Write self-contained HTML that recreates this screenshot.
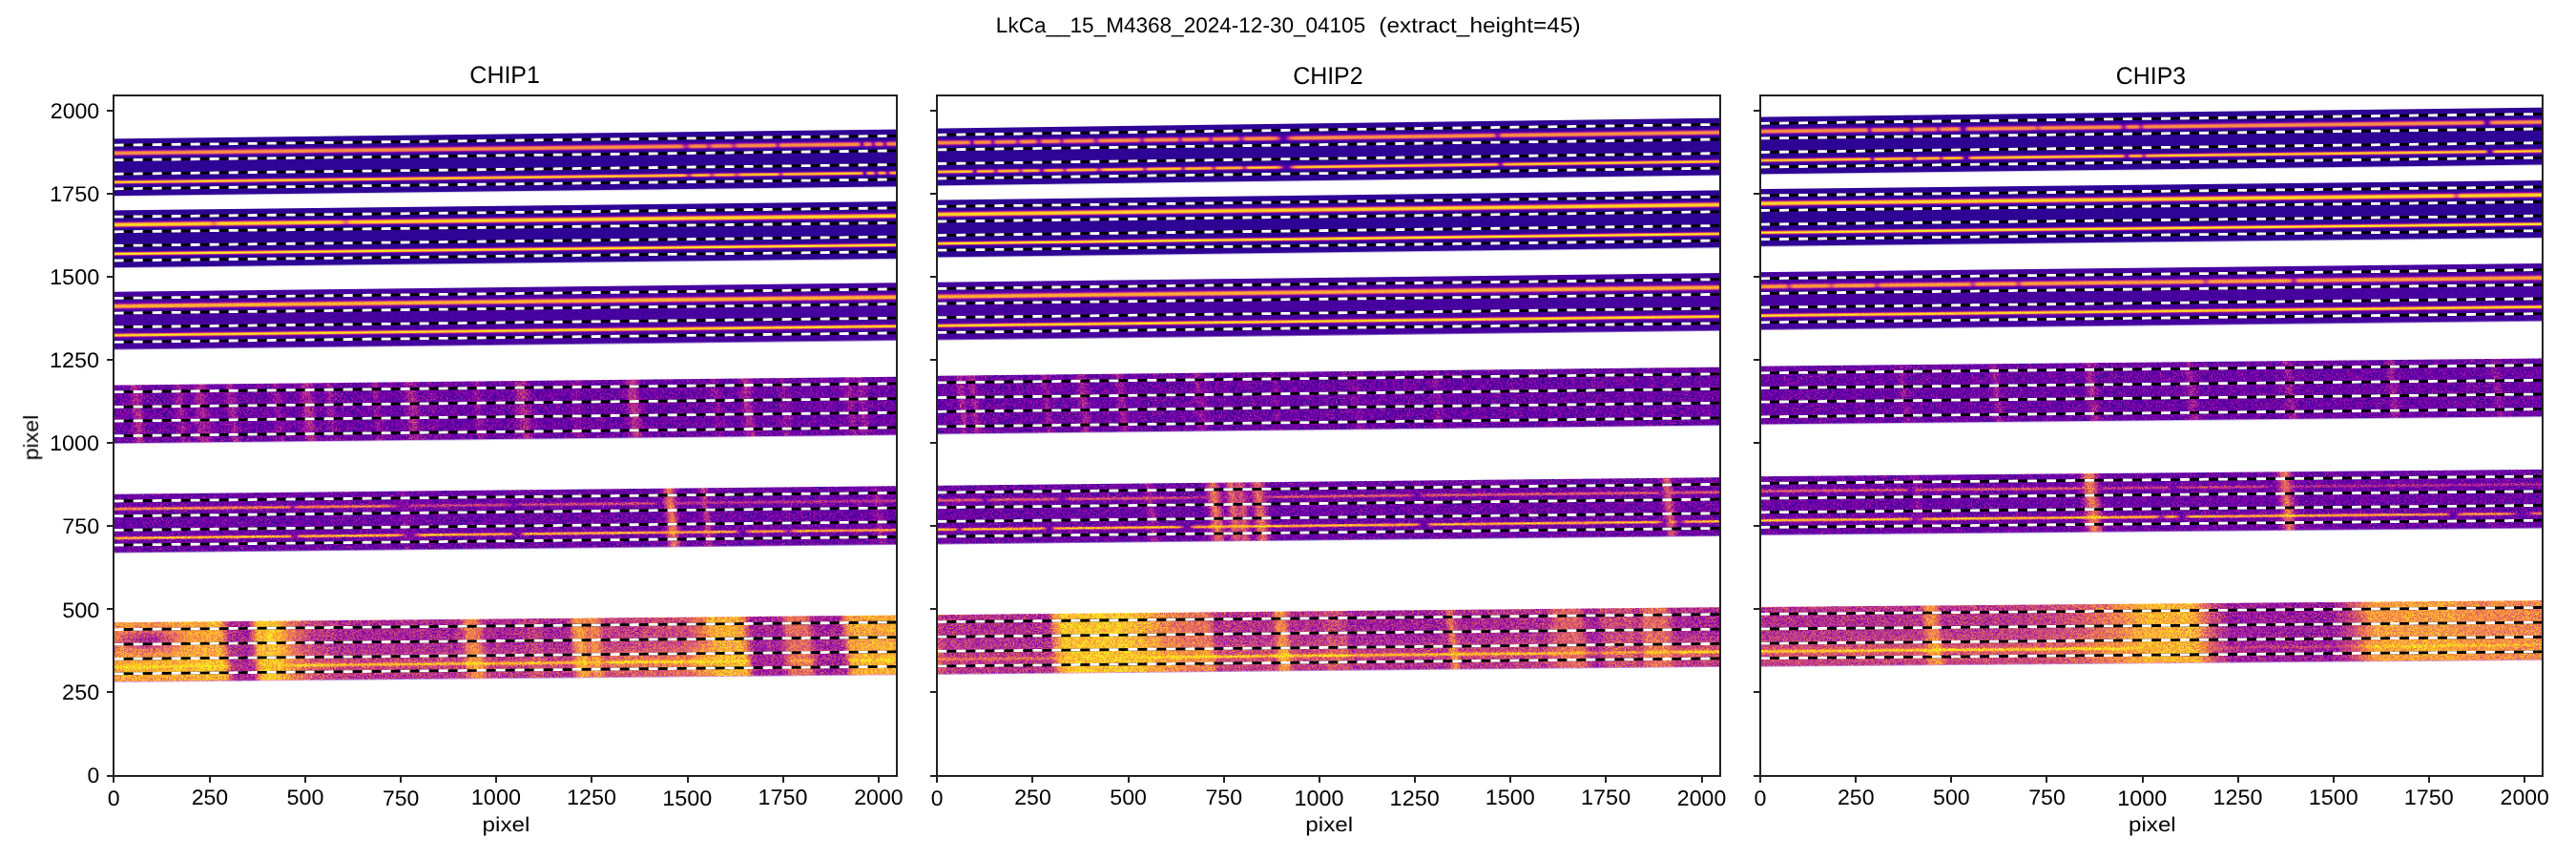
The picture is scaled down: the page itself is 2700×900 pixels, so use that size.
<!DOCTYPE html>
<html><head><meta charset="utf-8"><title>LkCa 15 spectral orders</title><style>html,body{margin:0;padding:0;background:#fff;overflow:hidden}svg{display:block}text{font-family:"Liberation Sans",sans-serif;fill:#000;text-rendering:geometricPrecision}</style></head><body>
<svg width="2700" height="900" viewBox="0 0 2700 900">
<defs><clipPath id="cp0"><rect x="119" y="100" width="821" height="713"/></clipPath><clipPath id="cp1"><rect x="982" y="100" width="821" height="713"/></clipPath><clipPath id="cp2"><rect x="1845" y="100" width="820" height="713"/></clipPath><linearGradient id="g0" gradientUnits="userSpaceOnUse" x1="0" x2="820.7" y1="0" y2="0"><stop offset="0" stop-color="#252525"/><stop offset="0.7217" stop-color="#252525"/><stop offset="0.7324" stop-color="#191919"/><stop offset="0.7422" stop-color="#252525"/><stop offset="0.7559" stop-color="#242424"/><stop offset="0.7617" stop-color="#1b1b1b"/><stop offset="0.7695" stop-color="#252525"/><stop offset="0.7871" stop-color="#242424"/><stop offset="0.7939" stop-color="#1b1b1b"/><stop offset="0.8008" stop-color="#252525"/><stop offset="0.8438" stop-color="#252525"/><stop offset="0.8496" stop-color="#191919"/><stop offset="0.8564" stop-color="#252525"/><stop offset="0.9492" stop-color="#252525"/><stop offset="0.9531" stop-color="#232323"/><stop offset="0.957" stop-color="#151515"/><stop offset="0.9629" stop-color="#242424"/><stop offset="0.9678" stop-color="#232323"/><stop offset="0.9717" stop-color="#171717"/><stop offset="0.9766" stop-color="#242424"/><stop offset="0.9814" stop-color="#242424"/><stop offset="0.9863" stop-color="#171717"/><stop offset="0.9912" stop-color="#242424"/><stop offset="1" stop-color="#252525"/></linearGradient><linearGradient id="g1" gradientUnits="userSpaceOnUse" x1="0" x2="820.7" y1="0" y2="0"><stop offset="0" stop-color="#606060"/><stop offset="0.7217" stop-color="#606060"/><stop offset="0.7266" stop-color="#5b5b5b"/><stop offset="0.7324" stop-color="#343434"/><stop offset="0.7344" stop-color="#3b3b3b"/><stop offset="0.7383" stop-color="#595959"/><stop offset="0.7422" stop-color="#5f5f5f"/><stop offset="0.7559" stop-color="#5e5e5e"/><stop offset="0.7617" stop-color="#3d3d3d"/><stop offset="0.7666" stop-color="#5a5a5a"/><stop offset="0.7695" stop-color="#5f5f5f"/><stop offset="0.7871" stop-color="#5f5f5f"/><stop offset="0.7939" stop-color="#3d3d3d"/><stop offset="0.7979" stop-color="#575757"/><stop offset="0.8008" stop-color="#5f5f5f"/><stop offset="0.8438" stop-color="#5f5f5f"/><stop offset="0.8467" stop-color="#545454"/><stop offset="0.8496" stop-color="#343434"/><stop offset="0.8506" stop-color="#373737"/><stop offset="0.8535" stop-color="#585858"/><stop offset="0.8564" stop-color="#5f5f5f"/><stop offset="0.9492" stop-color="#606060"/><stop offset="0.9531" stop-color="#595959"/><stop offset="0.957" stop-color="#232323"/><stop offset="0.958" stop-color="#272727"/><stop offset="0.9609" stop-color="#555555"/><stop offset="0.9629" stop-color="#5f5f5f"/><stop offset="0.9678" stop-color="#5a5a5a"/><stop offset="0.9717" stop-color="#2c2c2c"/><stop offset="0.9727" stop-color="#2f2f2f"/><stop offset="0.9746" stop-color="#4b4b4b"/><stop offset="0.9766" stop-color="#5d5d5d"/><stop offset="0.9814" stop-color="#5e5e5e"/><stop offset="0.9834" stop-color="#525252"/><stop offset="0.9863" stop-color="#2c2c2c"/><stop offset="0.9873" stop-color="#2f2f2f"/><stop offset="0.9893" stop-color="#4b4b4b"/><stop offset="0.9912" stop-color="#5d5d5d"/><stop offset="1" stop-color="#606060"/></linearGradient><linearGradient id="g2" gradientUnits="userSpaceOnUse" x1="0" x2="820.7" y1="0" y2="0"><stop offset="0" stop-color="#acacac"/><stop offset="0.7217" stop-color="#acacac"/><stop offset="0.7266" stop-color="#a3a3a3"/><stop offset="0.7285" stop-color="#8d8d8d"/><stop offset="0.7314" stop-color="#5e5e5e"/><stop offset="0.7324" stop-color="#575757"/><stop offset="0.7344" stop-color="#646464"/><stop offset="0.7383" stop-color="#9f9f9f"/><stop offset="0.7422" stop-color="#acacac"/><stop offset="0.7559" stop-color="#a9a9a9"/><stop offset="0.7578" stop-color="#9c9c9c"/><stop offset="0.7607" stop-color="#707070"/><stop offset="0.7617" stop-color="#696969"/><stop offset="0.7627" stop-color="#6b6b6b"/><stop offset="0.7666" stop-color="#a1a1a1"/><stop offset="0.7695" stop-color="#acacac"/><stop offset="0.7871" stop-color="#ababab"/><stop offset="0.7891" stop-color="#a1a1a1"/><stop offset="0.793" stop-color="#6b6b6b"/><stop offset="0.7939" stop-color="#696969"/><stop offset="0.7949" stop-color="#707070"/><stop offset="0.7979" stop-color="#9c9c9c"/><stop offset="0.8008" stop-color="#ababab"/><stop offset="0.8438" stop-color="#acacac"/><stop offset="0.8457" stop-color="#a3a3a3"/><stop offset="0.8467" stop-color="#969696"/><stop offset="0.8486" stop-color="#666666"/><stop offset="0.8496" stop-color="#585858"/><stop offset="0.8506" stop-color="#5d5d5d"/><stop offset="0.8535" stop-color="#9e9e9e"/><stop offset="0.8564" stop-color="#acacac"/><stop offset="0.9492" stop-color="#acacac"/><stop offset="0.9521" stop-color="#a9a9a9"/><stop offset="0.9531" stop-color="#a0a0a0"/><stop offset="0.9541" stop-color="#8c8c8c"/><stop offset="0.9561" stop-color="#4a4a4a"/><stop offset="0.957" stop-color="#363636"/><stop offset="0.958" stop-color="#3d3d3d"/><stop offset="0.9609" stop-color="#989898"/><stop offset="0.9629" stop-color="#aaaaaa"/><stop offset="0.9658" stop-color="#acacac"/><stop offset="0.9678" stop-color="#a2a2a2"/><stop offset="0.9688" stop-color="#919191"/><stop offset="0.9707" stop-color="#585858"/><stop offset="0.9717" stop-color="#474747"/><stop offset="0.9727" stop-color="#4d4d4d"/><stop offset="0.9746" stop-color="#858585"/><stop offset="0.9756" stop-color="#9b9b9b"/><stop offset="0.9766" stop-color="#a6a6a6"/><stop offset="0.9814" stop-color="#a9a9a9"/><stop offset="0.9834" stop-color="#919191"/><stop offset="0.9854" stop-color="#585858"/><stop offset="0.9863" stop-color="#474747"/><stop offset="0.9873" stop-color="#4d4d4d"/><stop offset="0.9893" stop-color="#858585"/><stop offset="0.9902" stop-color="#9b9b9b"/><stop offset="0.9912" stop-color="#a6a6a6"/><stop offset="1" stop-color="#acacac"/></linearGradient><linearGradient id="g3" gradientUnits="userSpaceOnUse" x1="0" x2="820.7" y1="0" y2="0"><stop offset="0" stop-color="#c2c2c2"/><stop offset="0.7217" stop-color="#c2c2c2"/><stop offset="0.7266" stop-color="#b7b7b7"/><stop offset="0.7285" stop-color="#9e9e9e"/><stop offset="0.7314" stop-color="#696969"/><stop offset="0.7324" stop-color="#616161"/><stop offset="0.7344" stop-color="#707070"/><stop offset="0.7383" stop-color="#b2b2b2"/><stop offset="0.7422" stop-color="#c1c1c1"/><stop offset="0.7559" stop-color="#bebebe"/><stop offset="0.7578" stop-color="#b0b0b0"/><stop offset="0.7607" stop-color="#7d7d7d"/><stop offset="0.7617" stop-color="#757575"/><stop offset="0.7627" stop-color="#787878"/><stop offset="0.7666" stop-color="#b5b5b5"/><stop offset="0.7695" stop-color="#c1c1c1"/><stop offset="0.7871" stop-color="#c0c0c0"/><stop offset="0.7891" stop-color="#b5b5b5"/><stop offset="0.793" stop-color="#787878"/><stop offset="0.7939" stop-color="#757575"/><stop offset="0.7949" stop-color="#7d7d7d"/><stop offset="0.7979" stop-color="#b0b0b0"/><stop offset="0.8008" stop-color="#c1c1c1"/><stop offset="0.8438" stop-color="#c1c1c1"/><stop offset="0.8457" stop-color="#b8b8b8"/><stop offset="0.8467" stop-color="#a8a8a8"/><stop offset="0.8486" stop-color="#727272"/><stop offset="0.8496" stop-color="#626262"/><stop offset="0.8506" stop-color="#676767"/><stop offset="0.8535" stop-color="#b1b1b1"/><stop offset="0.8545" stop-color="#bcbcbc"/><stop offset="0.8564" stop-color="#c1c1c1"/><stop offset="0.9492" stop-color="#c2c2c2"/><stop offset="0.9521" stop-color="#bdbdbd"/><stop offset="0.9531" stop-color="#b4b4b4"/><stop offset="0.9541" stop-color="#9e9e9e"/><stop offset="0.9561" stop-color="#525252"/><stop offset="0.957" stop-color="#3b3b3b"/><stop offset="0.958" stop-color="#434343"/><stop offset="0.9609" stop-color="#aaaaaa"/><stop offset="0.9629" stop-color="#c0c0c0"/><stop offset="0.9658" stop-color="#c1c1c1"/><stop offset="0.9678" stop-color="#b6b6b6"/><stop offset="0.9688" stop-color="#a3a3a3"/><stop offset="0.9707" stop-color="#626262"/><stop offset="0.9717" stop-color="#4e4e4e"/><stop offset="0.9727" stop-color="#555555"/><stop offset="0.9746" stop-color="#959595"/><stop offset="0.9756" stop-color="#aeaeae"/><stop offset="0.9766" stop-color="#bbbbbb"/><stop offset="0.9785" stop-color="#c1c1c1"/><stop offset="0.9814" stop-color="#bebebe"/><stop offset="0.9824" stop-color="#b6b6b6"/><stop offset="0.9834" stop-color="#a3a3a3"/><stop offset="0.9854" stop-color="#626262"/><stop offset="0.9863" stop-color="#4e4e4e"/><stop offset="0.9873" stop-color="#555555"/><stop offset="0.9893" stop-color="#959595"/><stop offset="0.9902" stop-color="#aeaeae"/><stop offset="0.9912" stop-color="#bbbbbb"/><stop offset="1" stop-color="#c2c2c2"/></linearGradient><linearGradient id="g4" gradientUnits="userSpaceOnUse" x1="0" x2="820.7" y1="0" y2="0"><stop offset="0" stop-color="#2a2a2a"/><stop offset="0.7217" stop-color="#2a2a2a"/><stop offset="0.7324" stop-color="#1c1c1c"/><stop offset="0.7422" stop-color="#2a2a2a"/><stop offset="0.7559" stop-color="#292929"/><stop offset="0.7617" stop-color="#1f1f1f"/><stop offset="0.7695" stop-color="#2a2a2a"/><stop offset="0.7871" stop-color="#2a2a2a"/><stop offset="0.7939" stop-color="#1f1f1f"/><stop offset="0.8008" stop-color="#2a2a2a"/><stop offset="0.8438" stop-color="#2a2a2a"/><stop offset="0.8496" stop-color="#1c1c1c"/><stop offset="0.8564" stop-color="#2a2a2a"/><stop offset="0.9492" stop-color="#2a2a2a"/><stop offset="0.9531" stop-color="#282828"/><stop offset="0.957" stop-color="#131313"/><stop offset="0.9629" stop-color="#2a2a2a"/><stop offset="0.9678" stop-color="#282828"/><stop offset="0.9717" stop-color="#161616"/><stop offset="0.9766" stop-color="#292929"/><stop offset="0.9814" stop-color="#292929"/><stop offset="0.9863" stop-color="#161616"/><stop offset="0.9912" stop-color="#292929"/><stop offset="1" stop-color="#2a2a2a"/></linearGradient><linearGradient id="g5" gradientUnits="userSpaceOnUse" x1="0" x2="820.7" y1="0" y2="0"><stop offset="0" stop-color="#7e7e7e"/><stop offset="0.7217" stop-color="#7e7e7e"/><stop offset="0.7266" stop-color="#777777"/><stop offset="0.7324" stop-color="#434343"/><stop offset="0.7344" stop-color="#4c4c4c"/><stop offset="0.7383" stop-color="#757575"/><stop offset="0.7422" stop-color="#7e7e7e"/><stop offset="0.7559" stop-color="#7c7c7c"/><stop offset="0.7578" stop-color="#737373"/><stop offset="0.7617" stop-color="#4f4f4f"/><stop offset="0.7627" stop-color="#515151"/><stop offset="0.7666" stop-color="#767676"/><stop offset="0.7695" stop-color="#7e7e7e"/><stop offset="0.7871" stop-color="#7d7d7d"/><stop offset="0.7891" stop-color="#767676"/><stop offset="0.793" stop-color="#515151"/><stop offset="0.7939" stop-color="#4f4f4f"/><stop offset="0.7979" stop-color="#737373"/><stop offset="0.8008" stop-color="#7e7e7e"/><stop offset="0.8438" stop-color="#7e7e7e"/><stop offset="0.8467" stop-color="#6e6e6e"/><stop offset="0.8496" stop-color="#434343"/><stop offset="0.8506" stop-color="#474747"/><stop offset="0.8535" stop-color="#747474"/><stop offset="0.8564" stop-color="#7e7e7e"/><stop offset="0.9492" stop-color="#7e7e7e"/><stop offset="0.9531" stop-color="#747474"/><stop offset="0.9541" stop-color="#656565"/><stop offset="0.9561" stop-color="#303030"/><stop offset="0.957" stop-color="#202020"/><stop offset="0.958" stop-color="#262626"/><stop offset="0.9609" stop-color="#6e6e6e"/><stop offset="0.9629" stop-color="#7d7d7d"/><stop offset="0.9658" stop-color="#7e7e7e"/><stop offset="0.9678" stop-color="#767676"/><stop offset="0.9717" stop-color="#2c2c2c"/><stop offset="0.9727" stop-color="#313131"/><stop offset="0.9746" stop-color="#5e5e5e"/><stop offset="0.9766" stop-color="#797979"/><stop offset="0.9814" stop-color="#7c7c7c"/><stop offset="0.9834" stop-color="#686868"/><stop offset="0.9854" stop-color="#3a3a3a"/><stop offset="0.9863" stop-color="#2c2c2c"/><stop offset="0.9873" stop-color="#313131"/><stop offset="0.9893" stop-color="#5e5e5e"/><stop offset="0.9912" stop-color="#797979"/><stop offset="1" stop-color="#7e7e7e"/></linearGradient><linearGradient id="g6" gradientUnits="userSpaceOnUse" x1="0" x2="820.7" y1="0" y2="0"><stop offset="0" stop-color="#ededed"/><stop offset="0.7217" stop-color="#ededed"/><stop offset="0.7246" stop-color="#eaeaea"/><stop offset="0.7266" stop-color="#e0e0e0"/><stop offset="0.7285" stop-color="#c2c2c2"/><stop offset="0.7314" stop-color="#808080"/><stop offset="0.7324" stop-color="#777777"/><stop offset="0.7334" stop-color="#7a7a7a"/><stop offset="0.7344" stop-color="#898989"/><stop offset="0.7373" stop-color="#cbcbcb"/><stop offset="0.7383" stop-color="#dadada"/><stop offset="0.7402" stop-color="#e9e9e9"/><stop offset="0.7422" stop-color="#ededed"/><stop offset="0.7559" stop-color="#e9e9e9"/><stop offset="0.7578" stop-color="#d7d7d7"/><stop offset="0.7607" stop-color="#999999"/><stop offset="0.7617" stop-color="#8f8f8f"/><stop offset="0.7627" stop-color="#929292"/><stop offset="0.7666" stop-color="#dedede"/><stop offset="0.7695" stop-color="#ececec"/><stop offset="0.7871" stop-color="#ebebeb"/><stop offset="0.7891" stop-color="#dedede"/><stop offset="0.793" stop-color="#929292"/><stop offset="0.7939" stop-color="#8f8f8f"/><stop offset="0.7949" stop-color="#999999"/><stop offset="0.7979" stop-color="#d7d7d7"/><stop offset="0.8008" stop-color="#ececec"/><stop offset="0.8438" stop-color="#ececec"/><stop offset="0.8457" stop-color="#e1e1e1"/><stop offset="0.8467" stop-color="#cdcdcd"/><stop offset="0.8486" stop-color="#8c8c8c"/><stop offset="0.8496" stop-color="#777777"/><stop offset="0.8506" stop-color="#7f7f7f"/><stop offset="0.8535" stop-color="#d9d9d9"/><stop offset="0.8545" stop-color="#e6e6e6"/><stop offset="0.8564" stop-color="#ededed"/><stop offset="0.9492" stop-color="#ededed"/><stop offset="0.9521" stop-color="#e7e7e7"/><stop offset="0.9531" stop-color="#d9d9d9"/><stop offset="0.9541" stop-color="#bababa"/><stop offset="0.9561" stop-color="#515151"/><stop offset="0.957" stop-color="#313131"/><stop offset="0.958" stop-color="#3c3c3c"/><stop offset="0.96" stop-color="#a3a3a3"/><stop offset="0.9609" stop-color="#cccccc"/><stop offset="0.9619" stop-color="#e2e2e2"/><stop offset="0.9629" stop-color="#eaeaea"/><stop offset="0.9658" stop-color="#ececec"/><stop offset="0.9678" stop-color="#dcdcdc"/><stop offset="0.9688" stop-color="#c1c1c1"/><stop offset="0.9707" stop-color="#656565"/><stop offset="0.9717" stop-color="#484848"/><stop offset="0.9727" stop-color="#525252"/><stop offset="0.9746" stop-color="#adadad"/><stop offset="0.9756" stop-color="#d1d1d1"/><stop offset="0.9766" stop-color="#e3e3e3"/><stop offset="0.9785" stop-color="#ededed"/><stop offset="0.9814" stop-color="#e8e8e8"/><stop offset="0.9824" stop-color="#dcdcdc"/><stop offset="0.9834" stop-color="#c1c1c1"/><stop offset="0.9854" stop-color="#656565"/><stop offset="0.9863" stop-color="#484848"/><stop offset="0.9873" stop-color="#525252"/><stop offset="0.9893" stop-color="#adadad"/><stop offset="0.9902" stop-color="#d1d1d1"/><stop offset="0.9912" stop-color="#e3e3e3"/><stop offset="0.9932" stop-color="#ededed"/><stop offset="1" stop-color="#ededed"/></linearGradient><linearGradient id="g7" gradientUnits="userSpaceOnUse" x1="0" x2="820.7" y1="0" y2="0"><stop offset="0" stop-color="#2a2a2a"/><stop offset="0.1201" stop-color="#2a2a2a"/><stop offset="0.1299" stop-color="#232323"/><stop offset="0.1387" stop-color="#2a2a2a"/><stop offset="0.2881" stop-color="#2a2a2a"/><stop offset="0.2979" stop-color="#222222"/><stop offset="0.3086" stop-color="#2a2a2a"/><stop offset="1" stop-color="#2a2a2a"/></linearGradient><linearGradient id="g8" gradientUnits="userSpaceOnUse" x1="0" x2="820.7" y1="0" y2="0"><stop offset="0" stop-color="#747474"/><stop offset="0.1201" stop-color="#747474"/><stop offset="0.124" stop-color="#707070"/><stop offset="0.1299" stop-color="#595959"/><stop offset="0.1348" stop-color="#6e6e6e"/><stop offset="0.1387" stop-color="#747474"/><stop offset="0.2881" stop-color="#747474"/><stop offset="0.292" stop-color="#717171"/><stop offset="0.2979" stop-color="#545454"/><stop offset="0.3037" stop-color="#6f6f6f"/><stop offset="0.3086" stop-color="#747474"/><stop offset="1" stop-color="#747474"/></linearGradient><linearGradient id="g9" gradientUnits="userSpaceOnUse" x1="0" x2="820.7" y1="0" y2="0"><stop offset="0" stop-color="#d5d5d5"/><stop offset="0.1201" stop-color="#d5d5d5"/><stop offset="0.124" stop-color="#cccccc"/><stop offset="0.1279" stop-color="#a8a8a8"/><stop offset="0.1299" stop-color="#a0a0a0"/><stop offset="0.1348" stop-color="#c9c9c9"/><stop offset="0.1387" stop-color="#d4d4d4"/><stop offset="0.2881" stop-color="#d5d5d5"/><stop offset="0.292" stop-color="#cecece"/><stop offset="0.2979" stop-color="#969696"/><stop offset="0.2998" stop-color="#9f9f9f"/><stop offset="0.3037" stop-color="#cbcbcb"/><stop offset="0.3086" stop-color="#d5d5d5"/><stop offset="1" stop-color="#d5d5d5"/></linearGradient><linearGradient id="g10" gradientUnits="userSpaceOnUse" x1="0" x2="820.7" y1="0" y2="0"><stop offset="0" stop-color="#f0f0f0"/><stop offset="0.1201" stop-color="#efefef"/><stop offset="0.124" stop-color="#e6e6e6"/><stop offset="0.1279" stop-color="#bdbdbd"/><stop offset="0.1299" stop-color="#b4b4b4"/><stop offset="0.1348" stop-color="#e3e3e3"/><stop offset="0.1387" stop-color="#efefef"/><stop offset="0.2881" stop-color="#efefef"/><stop offset="0.292" stop-color="#e7e7e7"/><stop offset="0.2979" stop-color="#a8a8a8"/><stop offset="0.2998" stop-color="#b3b3b3"/><stop offset="0.3037" stop-color="#e4e4e4"/><stop offset="0.3086" stop-color="#f0f0f0"/><stop offset="1" stop-color="#f0f0f0"/></linearGradient><linearGradient id="g11" gradientUnits="userSpaceOnUse" x1="0" x2="820.7" y1="0" y2="0"><stop offset="0" stop-color="#343434"/><stop offset="0.0186" stop-color="#373737"/><stop offset="0.0225" stop-color="#434343"/><stop offset="0.0283" stop-color="#646464"/><stop offset="0.0303" stop-color="#676767"/><stop offset="0.0322" stop-color="#626262"/><stop offset="0.0391" stop-color="#3d3d3d"/><stop offset="0.042" stop-color="#373737"/><stop offset="0.0469" stop-color="#343434"/><stop offset="0.0762" stop-color="#363636"/><stop offset="0.0791" stop-color="#3d3d3d"/><stop offset="0.084" stop-color="#555555"/><stop offset="0.0859" stop-color="#5a5a5a"/><stop offset="0.0879" stop-color="#575757"/><stop offset="0.0938" stop-color="#3c3c3c"/><stop offset="0.0986" stop-color="#383838"/><stop offset="0.1035" stop-color="#424242"/><stop offset="0.1104" stop-color="#5d5d5d"/><stop offset="0.1133" stop-color="#616161"/><stop offset="0.1162" stop-color="#5b5b5b"/><stop offset="0.124" stop-color="#3d3d3d"/><stop offset="0.1309" stop-color="#353535"/><stop offset="0.1426" stop-color="#383838"/><stop offset="0.1514" stop-color="#5e5e5e"/><stop offset="0.1533" stop-color="#5a5a5a"/><stop offset="0.1592" stop-color="#3c3c3c"/><stop offset="0.1631" stop-color="#353535"/><stop offset="0.1992" stop-color="#353535"/><stop offset="0.2031" stop-color="#3b3b3b"/><stop offset="0.21" stop-color="#545454"/><stop offset="0.2119" stop-color="#515151"/><stop offset="0.2168" stop-color="#3d3d3d"/><stop offset="0.2197" stop-color="#363636"/><stop offset="0.2314" stop-color="#353535"/><stop offset="0.2383" stop-color="#3e3e3e"/><stop offset="0.2451" stop-color="#5f5f5f"/><stop offset="0.248" stop-color="#676767"/><stop offset="0.251" stop-color="#616161"/><stop offset="0.2588" stop-color="#3c3c3c"/><stop offset="0.2656" stop-color="#353535"/><stop offset="0.2715" stop-color="#393939"/><stop offset="0.2764" stop-color="#505050"/><stop offset="0.2783" stop-color="#545454"/><stop offset="0.2842" stop-color="#3b3b3b"/><stop offset="0.2881" stop-color="#353535"/><stop offset="0.3271" stop-color="#353535"/><stop offset="0.3301" stop-color="#393939"/><stop offset="0.335" stop-color="#505050"/><stop offset="0.3369" stop-color="#545454"/><stop offset="0.3447" stop-color="#363636"/><stop offset="0.3662" stop-color="#353535"/><stop offset="0.3721" stop-color="#3d3d3d"/><stop offset="0.3789" stop-color="#5a5a5a"/><stop offset="0.3818" stop-color="#616161"/><stop offset="0.3848" stop-color="#5c5c5c"/><stop offset="0.3916" stop-color="#3e3e3e"/><stop offset="0.3965" stop-color="#363636"/><stop offset="0.3994" stop-color="#383838"/><stop offset="0.4053" stop-color="#474747"/><stop offset="0.415" stop-color="#353535"/><stop offset="0.4561" stop-color="#353535"/><stop offset="0.46" stop-color="#3b3b3b"/><stop offset="0.4658" stop-color="#545454"/><stop offset="0.4678" stop-color="#505050"/><stop offset="0.4717" stop-color="#3d3d3d"/><stop offset="0.4746" stop-color="#363636"/><stop offset="0.5039" stop-color="#353535"/><stop offset="0.5117" stop-color="#3d3d3d"/><stop offset="0.5205" stop-color="#636363"/><stop offset="0.5234" stop-color="#676767"/><stop offset="0.5264" stop-color="#616161"/><stop offset="0.5342" stop-color="#3f3f3f"/><stop offset="0.541" stop-color="#353535"/><stop offset="0.5811" stop-color="#353535"/><stop offset="0.5918" stop-color="#474747"/><stop offset="0.6025" stop-color="#353535"/><stop offset="0.6455" stop-color="#343434"/><stop offset="0.6533" stop-color="#3c3c3c"/><stop offset="0.6562" stop-color="#484848"/><stop offset="0.6611" stop-color="#656565"/><stop offset="0.6641" stop-color="#6e6e6e"/><stop offset="0.667" stop-color="#676767"/><stop offset="0.6748" stop-color="#3d3d3d"/><stop offset="0.6826" stop-color="#343434"/><stop offset="0.7588" stop-color="#353535"/><stop offset="0.7627" stop-color="#383838"/><stop offset="0.7705" stop-color="#4b4b4b"/><stop offset="0.7803" stop-color="#353535"/><stop offset="0.7959" stop-color="#353535"/><stop offset="0.8008" stop-color="#3c3c3c"/><stop offset="0.8076" stop-color="#5f5f5f"/><stop offset="0.8096" stop-color="#646464"/><stop offset="0.8125" stop-color="#5d5d5d"/><stop offset="0.8184" stop-color="#3e3e3e"/><stop offset="0.8242" stop-color="#353535"/><stop offset="0.8467" stop-color="#353535"/><stop offset="0.8564" stop-color="#4b4b4b"/><stop offset="0.8643" stop-color="#383838"/><stop offset="0.8682" stop-color="#353535"/><stop offset="0.9287" stop-color="#353535"/><stop offset="0.9336" stop-color="#3a3a3a"/><stop offset="0.9404" stop-color="#545454"/><stop offset="0.9424" stop-color="#535353"/><stop offset="0.9473" stop-color="#414141"/><stop offset="0.9492" stop-color="#3f3f3f"/><stop offset="0.957" stop-color="#545454"/><stop offset="0.9639" stop-color="#3b3b3b"/><stop offset="0.9678" stop-color="#353535"/><stop offset="1" stop-color="#343434"/></linearGradient><linearGradient id="g12" gradientUnits="userSpaceOnUse" x1="0" x2="820.7" y1="0" y2="0"><stop offset="0" stop-color="#343434"/><stop offset="0.3574" stop-color="#343434"/><stop offset="0.3633" stop-color="#373737"/><stop offset="0.3721" stop-color="#474747"/><stop offset="0.3809" stop-color="#373737"/><stop offset="0.3877" stop-color="#343434"/><stop offset="0.6943" stop-color="#343434"/><stop offset="0.6992" stop-color="#383838"/><stop offset="0.7021" stop-color="#424242"/><stop offset="0.7051" stop-color="#5a5a5a"/><stop offset="0.71" stop-color="#989898"/><stop offset="0.7119" stop-color="#a6a6a6"/><stop offset="0.7129" stop-color="#a7a7a7"/><stop offset="0.7148" stop-color="#9d9d9d"/><stop offset="0.7197" stop-color="#5f5f5f"/><stop offset="0.7217" stop-color="#4c4c4c"/><stop offset="0.7246" stop-color="#3b3b3b"/><stop offset="0.7285" stop-color="#353535"/><stop offset="0.748" stop-color="#373737"/><stop offset="0.751" stop-color="#444444"/><stop offset="0.7549" stop-color="#6c6c6c"/><stop offset="0.7568" stop-color="#747474"/><stop offset="0.7588" stop-color="#686868"/><stop offset="0.7627" stop-color="#414141"/><stop offset="0.7646" stop-color="#383838"/><stop offset="0.7676" stop-color="#353535"/><stop offset="0.9639" stop-color="#343434"/><stop offset="0.9688" stop-color="#393939"/><stop offset="0.9746" stop-color="#515151"/><stop offset="0.9766" stop-color="#545454"/><stop offset="0.9854" stop-color="#373737"/><stop offset="1" stop-color="#343434"/></linearGradient><linearGradient id="g13" gradientUnits="userSpaceOnUse" x1="0" x2="820.7" y1="0" y2="0"><stop offset="0" stop-color="#525252"/><stop offset="0.2217" stop-color="#505050"/><stop offset="0.2246" stop-color="#4d4d4d"/><stop offset="0.2295" stop-color="#393939"/><stop offset="0.2354" stop-color="#4e4e4e"/><stop offset="0.2402" stop-color="#4f4f4f"/><stop offset="0.3418" stop-color="#4f4f4f"/><stop offset="0.3662" stop-color="#3e3e3e"/><stop offset="0.3721" stop-color="#474747"/><stop offset="0.3789" stop-color="#414141"/><stop offset="0.498" stop-color="#444444"/><stop offset="0.5127" stop-color="#353535"/><stop offset="0.5225" stop-color="#424242"/><stop offset="0.5312" stop-color="#454545"/><stop offset="0.6836" stop-color="#464646"/><stop offset="0.6982" stop-color="#393939"/><stop offset="0.7031" stop-color="#4d4d4d"/><stop offset="0.71" stop-color="#989898"/><stop offset="0.7129" stop-color="#a7a7a7"/><stop offset="0.7148" stop-color="#9d9d9d"/><stop offset="0.7217" stop-color="#545454"/><stop offset="0.7246" stop-color="#474747"/><stop offset="0.7295" stop-color="#414141"/><stop offset="0.748" stop-color="#434343"/><stop offset="0.751" stop-color="#4d4d4d"/><stop offset="0.7549" stop-color="#6e6e6e"/><stop offset="0.7568" stop-color="#747474"/><stop offset="0.7627" stop-color="#4b4b4b"/><stop offset="0.7676" stop-color="#414141"/><stop offset="0.9639" stop-color="#414141"/><stop offset="0.9688" stop-color="#454545"/><stop offset="0.9766" stop-color="#5a5a5a"/><stop offset="0.9854" stop-color="#434343"/><stop offset="1" stop-color="#414141"/></linearGradient><linearGradient id="g14" gradientUnits="userSpaceOnUse" x1="0" x2="820.7" y1="0" y2="0"><stop offset="0" stop-color="#8c8c8c"/><stop offset="0.2217" stop-color="#868686"/><stop offset="0.2246" stop-color="#7f7f7f"/><stop offset="0.2295" stop-color="#434343"/><stop offset="0.2305" stop-color="#454545"/><stop offset="0.2344" stop-color="#7b7b7b"/><stop offset="0.2373" stop-color="#858585"/><stop offset="0.3418" stop-color="#838383"/><stop offset="0.3574" stop-color="#6e6e6e"/><stop offset="0.3672" stop-color="#3e3e3e"/><stop offset="0.3721" stop-color="#474747"/><stop offset="0.376" stop-color="#424242"/><stop offset="0.3828" stop-color="#5a5a5a"/><stop offset="0.3887" stop-color="#616161"/><stop offset="0.4961" stop-color="#646464"/><stop offset="0.5039" stop-color="#5c5c5c"/><stop offset="0.5127" stop-color="#353535"/><stop offset="0.5156" stop-color="#3c3c3c"/><stop offset="0.5234" stop-color="#606060"/><stop offset="0.5322" stop-color="#656565"/><stop offset="0.6836" stop-color="#696969"/><stop offset="0.6904" stop-color="#626262"/><stop offset="0.6982" stop-color="#3e3e3e"/><stop offset="0.7012" stop-color="#484848"/><stop offset="0.708" stop-color="#808080"/><stop offset="0.7109" stop-color="#a1a1a1"/><stop offset="0.7129" stop-color="#a7a7a7"/><stop offset="0.7148" stop-color="#9d9d9d"/><stop offset="0.7178" stop-color="#7a7a7a"/><stop offset="0.7217" stop-color="#666666"/><stop offset="0.7324" stop-color="#5a5a5a"/><stop offset="0.749" stop-color="#5c5c5c"/><stop offset="0.7568" stop-color="#747474"/><stop offset="0.7627" stop-color="#5f5f5f"/><stop offset="0.7676" stop-color="#5a5a5a"/><stop offset="0.9639" stop-color="#5a5a5a"/><stop offset="0.9766" stop-color="#666666"/><stop offset="0.9854" stop-color="#5b5b5b"/><stop offset="1" stop-color="#5a5a5a"/></linearGradient><linearGradient id="g15" gradientUnits="userSpaceOnUse" x1="0" x2="820.7" y1="0" y2="0"><stop offset="0" stop-color="#c7c7c7"/><stop offset="0.2217" stop-color="#bcbcbc"/><stop offset="0.2246" stop-color="#b0b0b0"/><stop offset="0.2256" stop-color="#a2a2a2"/><stop offset="0.2285" stop-color="#595959"/><stop offset="0.2295" stop-color="#4c4c4c"/><stop offset="0.2305" stop-color="#505050"/><stop offset="0.2344" stop-color="#aaaaaa"/><stop offset="0.2373" stop-color="#bbbbbb"/><stop offset="0.3418" stop-color="#b8b8b8"/><stop offset="0.3574" stop-color="#949494"/><stop offset="0.3613" stop-color="#7b7b7b"/><stop offset="0.3672" stop-color="#3e3e3e"/><stop offset="0.3721" stop-color="#474747"/><stop offset="0.376" stop-color="#424242"/><stop offset="0.3828" stop-color="#737373"/><stop offset="0.3906" stop-color="#808080"/><stop offset="0.499" stop-color="#838383"/><stop offset="0.5039" stop-color="#777777"/><stop offset="0.5107" stop-color="#3d3d3d"/><stop offset="0.5127" stop-color="#353535"/><stop offset="0.5156" stop-color="#414141"/><stop offset="0.5225" stop-color="#7a7a7a"/><stop offset="0.5283" stop-color="#858585"/><stop offset="0.6826" stop-color="#8c8c8c"/><stop offset="0.6904" stop-color="#818181"/><stop offset="0.6963" stop-color="#4d4d4d"/><stop offset="0.6982" stop-color="#424242"/><stop offset="0.7002" stop-color="#484848"/><stop offset="0.7051" stop-color="#727272"/><stop offset="0.708" stop-color="#808080"/><stop offset="0.7109" stop-color="#a1a1a1"/><stop offset="0.7129" stop-color="#a7a7a7"/><stop offset="0.7148" stop-color="#9d9d9d"/><stop offset="0.7178" stop-color="#7b7b7b"/><stop offset="0.7324" stop-color="#737373"/><stop offset="1" stop-color="#737373"/></linearGradient><linearGradient id="g16" gradientUnits="userSpaceOnUse" x1="0" x2="820.7" y1="0" y2="0"><stop offset="0" stop-color="#656565"/><stop offset="0.2197" stop-color="#646464"/><stop offset="0.2236" stop-color="#5e5e5e"/><stop offset="0.2285" stop-color="#343434"/><stop offset="0.2314" stop-color="#363636"/><stop offset="0.2344" stop-color="#555555"/><stop offset="0.2363" stop-color="#606060"/><stop offset="0.2402" stop-color="#646464"/><stop offset="0.3564" stop-color="#636363"/><stop offset="0.3643" stop-color="#5b5b5b"/><stop offset="0.3799" stop-color="#393939"/><stop offset="0.3887" stop-color="#595959"/><stop offset="0.3955" stop-color="#626262"/><stop offset="0.4961" stop-color="#626262"/><stop offset="0.5029" stop-color="#5c5c5c"/><stop offset="0.5107" stop-color="#373737"/><stop offset="0.5137" stop-color="#343434"/><stop offset="0.5225" stop-color="#5b5b5b"/><stop offset="0.5283" stop-color="#616161"/><stop offset="0.6982" stop-color="#626262"/><stop offset="0.7031" stop-color="#6f6f6f"/><stop offset="0.71" stop-color="#ababab"/><stop offset="0.7129" stop-color="#b6b6b6"/><stop offset="0.7148" stop-color="#aeaeae"/><stop offset="0.7217" stop-color="#717171"/><stop offset="0.7256" stop-color="#636363"/><stop offset="0.748" stop-color="#626262"/><stop offset="0.751" stop-color="#6b6b6b"/><stop offset="0.7549" stop-color="#8a8a8a"/><stop offset="0.7568" stop-color="#8f8f8f"/><stop offset="0.7646" stop-color="#626262"/><stop offset="0.7891" stop-color="#5d5d5d"/><stop offset="0.793" stop-color="#545454"/><stop offset="0.7998" stop-color="#343434"/><stop offset="0.8027" stop-color="#353535"/><stop offset="0.8105" stop-color="#585858"/><stop offset="0.8164" stop-color="#5f5f5f"/><stop offset="0.8496" stop-color="#5d5d5d"/><stop offset="0.8594" stop-color="#3d3d3d"/><stop offset="0.8672" stop-color="#595959"/><stop offset="0.8721" stop-color="#5e5e5e"/><stop offset="0.9648" stop-color="#5e5e5e"/><stop offset="0.9766" stop-color="#757575"/><stop offset="0.9854" stop-color="#5f5f5f"/><stop offset="1" stop-color="#5d5d5d"/></linearGradient><linearGradient id="g17" gradientUnits="userSpaceOnUse" x1="0" x2="820.7" y1="0" y2="0"><stop offset="0" stop-color="#f7f7f7"/><stop offset="0.2197" stop-color="#f3f3f3"/><stop offset="0.2217" stop-color="#efefef"/><stop offset="0.2236" stop-color="#dbdbdb"/><stop offset="0.2246" stop-color="#c5c5c5"/><stop offset="0.2256" stop-color="#a3a3a3"/><stop offset="0.2275" stop-color="#4e4e4e"/><stop offset="0.2285" stop-color="#343434"/><stop offset="0.2314" stop-color="#3b3b3b"/><stop offset="0.2344" stop-color="#b5b5b5"/><stop offset="0.2363" stop-color="#e2e2e2"/><stop offset="0.2383" stop-color="#f1f1f1"/><stop offset="0.2412" stop-color="#f4f4f4"/><stop offset="0.3564" stop-color="#eeeeee"/><stop offset="0.3604" stop-color="#e3e3e3"/><stop offset="0.3633" stop-color="#cdcdcd"/><stop offset="0.3662" stop-color="#a7a7a7"/><stop offset="0.3711" stop-color="#4d4d4d"/><stop offset="0.3799" stop-color="#393939"/><stop offset="0.3867" stop-color="#aeaeae"/><stop offset="0.3896" stop-color="#d1d1d1"/><stop offset="0.3936" stop-color="#e7e7e7"/><stop offset="0.3994" stop-color="#efefef"/><stop offset="0.499" stop-color="#e8e8e8"/><stop offset="0.502" stop-color="#dcdcdc"/><stop offset="0.5039" stop-color="#c9c9c9"/><stop offset="0.5059" stop-color="#a9a9a9"/><stop offset="0.5107" stop-color="#414141"/><stop offset="0.5117" stop-color="#353535"/><stop offset="0.5127" stop-color="#343434"/><stop offset="0.5146" stop-color="#3a3a3a"/><stop offset="0.5156" stop-color="#494949"/><stop offset="0.5195" stop-color="#9f9f9f"/><stop offset="0.5225" stop-color="#cecece"/><stop offset="0.5254" stop-color="#e3e3e3"/><stop offset="0.5293" stop-color="#e9e9e9"/><stop offset="0.7852" stop-color="#dfdfdf"/><stop offset="0.7891" stop-color="#d7d7d7"/><stop offset="0.792" stop-color="#c0c0c0"/><stop offset="0.7939" stop-color="#a1a1a1"/><stop offset="0.7979" stop-color="#4f4f4f"/><stop offset="0.7998" stop-color="#343434"/><stop offset="0.8027" stop-color="#373737"/><stop offset="0.8086" stop-color="#aaaaaa"/><stop offset="0.8105" stop-color="#c5c5c5"/><stop offset="0.8135" stop-color="#d8d8d8"/><stop offset="0.8164" stop-color="#dedede"/><stop offset="0.8496" stop-color="#d9d9d9"/><stop offset="0.8525" stop-color="#c4c4c4"/><stop offset="0.8574" stop-color="#6c6c6c"/><stop offset="0.8594" stop-color="#595959"/><stop offset="0.8613" stop-color="#656565"/><stop offset="0.8652" stop-color="#aeaeae"/><stop offset="0.8672" stop-color="#c9c9c9"/><stop offset="0.8691" stop-color="#d7d7d7"/><stop offset="0.8721" stop-color="#dcdcdc"/><stop offset="1" stop-color="#d9d9d9"/></linearGradient><linearGradient id="g18" gradientUnits="userSpaceOnUse" x1="0" x2="820.7" y1="0" y2="0"><stop offset="0" stop-color="#b6b6b6"/><stop offset="0.0127" stop-color="#c2c2c2"/><stop offset="0.0615" stop-color="#bababa"/><stop offset="0.0977" stop-color="#cecece"/><stop offset="0.1348" stop-color="#d3d3d3"/><stop offset="0.1396" stop-color="#c6c6c6"/><stop offset="0.1416" stop-color="#b7b7b7"/><stop offset="0.1475" stop-color="#7a7a7a"/><stop offset="0.1514" stop-color="#646464"/><stop offset="0.1719" stop-color="#616161"/><stop offset="0.1748" stop-color="#656565"/><stop offset="0.1768" stop-color="#707070"/><stop offset="0.1846" stop-color="#cecece"/><stop offset="0.1865" stop-color="#dadada"/><stop offset="0.1895" stop-color="#e1e1e1"/><stop offset="0.2051" stop-color="#e4e4e4"/><stop offset="0.21" stop-color="#dedede"/><stop offset="0.2305" stop-color="#a5a5a5"/><stop offset="0.252" stop-color="#7e7e7e"/><stop offset="0.293" stop-color="#666666"/><stop offset="0.4414" stop-color="#666666"/><stop offset="0.4453" stop-color="#707070"/><stop offset="0.4512" stop-color="#a0a0a0"/><stop offset="0.4541" stop-color="#afafaf"/><stop offset="0.4629" stop-color="#b2b2b2"/><stop offset="0.4678" stop-color="#a6a6a6"/><stop offset="0.4736" stop-color="#747474"/><stop offset="0.4785" stop-color="#666666"/><stop offset="0.5215" stop-color="#666666"/><stop offset="0.5352" stop-color="#7a7a7a"/><stop offset="0.541" stop-color="#797979"/><stop offset="0.5518" stop-color="#666666"/><stop offset="0.5791" stop-color="#666666"/><stop offset="0.582" stop-color="#696969"/><stop offset="0.584" stop-color="#747474"/><stop offset="0.5898" stop-color="#b1b1b1"/><stop offset="0.5918" stop-color="#bdbdbd"/><stop offset="0.5947" stop-color="#c3c3c3"/><stop offset="0.6006" stop-color="#c3c3c3"/><stop offset="0.6074" stop-color="#a9a9a9"/><stop offset="0.6143" stop-color="#b9b9b9"/><stop offset="0.6182" stop-color="#b6b6b6"/><stop offset="0.6201" stop-color="#afafaf"/><stop offset="0.626" stop-color="#848484"/><stop offset="0.6309" stop-color="#7b7b7b"/><stop offset="0.7305" stop-color="#888888"/><stop offset="0.7578" stop-color="#b4b4b4"/><stop offset="0.7686" stop-color="#d1d1d1"/><stop offset="0.7998" stop-color="#d3d3d3"/><stop offset="0.8047" stop-color="#c8c8c8"/><stop offset="0.8076" stop-color="#b1b1b1"/><stop offset="0.8125" stop-color="#7b7b7b"/><stop offset="0.8145" stop-color="#6c6c6c"/><stop offset="0.8193" stop-color="#5e5e5e"/><stop offset="0.8525" stop-color="#616161"/><stop offset="0.8555" stop-color="#6d6d6d"/><stop offset="0.8613" stop-color="#969696"/><stop offset="0.8662" stop-color="#a0a0a0"/><stop offset="0.8867" stop-color="#9d9d9d"/><stop offset="0.8896" stop-color="#919191"/><stop offset="0.8955" stop-color="#676767"/><stop offset="0.8994" stop-color="#5f5f5f"/><stop offset="0.9268" stop-color="#5e5e5e"/><stop offset="0.9297" stop-color="#626262"/><stop offset="0.9316" stop-color="#6a6a6a"/><stop offset="0.9336" stop-color="#7a7a7a"/><stop offset="0.9385" stop-color="#b1b1b1"/><stop offset="0.9424" stop-color="#cacaca"/><stop offset="1" stop-color="#d2d2d2"/></linearGradient><linearGradient id="g19" gradientUnits="userSpaceOnUse" x1="0" x2="820.7" y1="0" y2="0"><stop offset="0" stop-color="#b1b1b1"/><stop offset="0.0117" stop-color="#b9b9b9"/><stop offset="0.0371" stop-color="#ababab"/><stop offset="0.0537" stop-color="#aaaaaa"/><stop offset="0.0977" stop-color="#cbcbcb"/><stop offset="0.1348" stop-color="#d1d1d1"/><stop offset="0.1396" stop-color="#c5c5c5"/><stop offset="0.1416" stop-color="#b6b6b6"/><stop offset="0.1475" stop-color="#7a7a7a"/><stop offset="0.1514" stop-color="#646464"/><stop offset="0.1719" stop-color="#616161"/><stop offset="0.1748" stop-color="#656565"/><stop offset="0.1768" stop-color="#707070"/><stop offset="0.1846" stop-color="#cecece"/><stop offset="0.1865" stop-color="#dadada"/><stop offset="0.1895" stop-color="#e1e1e1"/><stop offset="0.2041" stop-color="#e4e4e4"/><stop offset="0.21" stop-color="#dedede"/><stop offset="0.2314" stop-color="#a1a1a1"/><stop offset="0.252" stop-color="#7b7b7b"/><stop offset="0.293" stop-color="#636363"/><stop offset="0.4414" stop-color="#636363"/><stop offset="0.4453" stop-color="#6e6e6e"/><stop offset="0.4512" stop-color="#9e9e9e"/><stop offset="0.4541" stop-color="#acacac"/><stop offset="0.4629" stop-color="#afafaf"/><stop offset="0.4678" stop-color="#a4a4a4"/><stop offset="0.4736" stop-color="#727272"/><stop offset="0.4785" stop-color="#636363"/><stop offset="0.5215" stop-color="#636363"/><stop offset="0.5352" stop-color="#777777"/><stop offset="0.541" stop-color="#767676"/><stop offset="0.5518" stop-color="#636363"/><stop offset="0.5791" stop-color="#636363"/><stop offset="0.582" stop-color="#676767"/><stop offset="0.584" stop-color="#717171"/><stop offset="0.5898" stop-color="#b0b0b0"/><stop offset="0.5918" stop-color="#bcbcbc"/><stop offset="0.5947" stop-color="#c2c2c2"/><stop offset="0.6006" stop-color="#c2c2c2"/><stop offset="0.6074" stop-color="#a8a8a8"/><stop offset="0.6143" stop-color="#b8b8b8"/><stop offset="0.6182" stop-color="#b5b5b5"/><stop offset="0.6201" stop-color="#aeaeae"/><stop offset="0.626" stop-color="#838383"/><stop offset="0.6309" stop-color="#787878"/><stop offset="0.7305" stop-color="#838383"/><stop offset="0.7559" stop-color="#acacac"/><stop offset="0.7686" stop-color="#d0d0d0"/><stop offset="0.7998" stop-color="#d2d2d2"/><stop offset="0.8047" stop-color="#c7c7c7"/><stop offset="0.8076" stop-color="#b0b0b0"/><stop offset="0.8125" stop-color="#7b7b7b"/><stop offset="0.8145" stop-color="#6c6c6c"/><stop offset="0.8193" stop-color="#5e5e5e"/><stop offset="0.8525" stop-color="#616161"/><stop offset="0.8555" stop-color="#6d6d6d"/><stop offset="0.8613" stop-color="#969696"/><stop offset="0.8662" stop-color="#9f9f9f"/><stop offset="0.8867" stop-color="#9c9c9c"/><stop offset="0.8896" stop-color="#909090"/><stop offset="0.8955" stop-color="#676767"/><stop offset="0.8994" stop-color="#5f5f5f"/><stop offset="0.9268" stop-color="#5e5e5e"/><stop offset="0.9297" stop-color="#626262"/><stop offset="0.9316" stop-color="#6a6a6a"/><stop offset="0.9336" stop-color="#7a7a7a"/><stop offset="0.9385" stop-color="#b1b1b1"/><stop offset="0.9424" stop-color="#c9c9c9"/><stop offset="1" stop-color="#d1d1d1"/></linearGradient><linearGradient id="g20" gradientUnits="userSpaceOnUse" x1="0" x2="820.7" y1="0" y2="0"><stop offset="0" stop-color="#acacac"/><stop offset="0.0107" stop-color="#afafaf"/><stop offset="0.0342" stop-color="#959595"/><stop offset="0.0488" stop-color="#919191"/><stop offset="0.0615" stop-color="#999999"/><stop offset="0.0967" stop-color="#c7c7c7"/><stop offset="0.1348" stop-color="#d1d1d1"/><stop offset="0.1396" stop-color="#c4c4c4"/><stop offset="0.1416" stop-color="#b6b6b6"/><stop offset="0.1475" stop-color="#797979"/><stop offset="0.1514" stop-color="#646464"/><stop offset="0.1719" stop-color="#616161"/><stop offset="0.1748" stop-color="#656565"/><stop offset="0.1768" stop-color="#707070"/><stop offset="0.1846" stop-color="#cecece"/><stop offset="0.1865" stop-color="#dadada"/><stop offset="0.1895" stop-color="#e1e1e1"/><stop offset="0.2041" stop-color="#e4e4e4"/><stop offset="0.21" stop-color="#dedede"/><stop offset="0.2314" stop-color="#a1a1a1"/><stop offset="0.252" stop-color="#7b7b7b"/><stop offset="0.293" stop-color="#636363"/><stop offset="0.4414" stop-color="#626262"/><stop offset="0.4453" stop-color="#6d6d6d"/><stop offset="0.4512" stop-color="#9d9d9d"/><stop offset="0.4541" stop-color="#acacac"/><stop offset="0.4629" stop-color="#afafaf"/><stop offset="0.4678" stop-color="#a3a3a3"/><stop offset="0.4736" stop-color="#717171"/><stop offset="0.4785" stop-color="#626262"/><stop offset="0.5215" stop-color="#626262"/><stop offset="0.5352" stop-color="#767676"/><stop offset="0.541" stop-color="#757575"/><stop offset="0.5518" stop-color="#626262"/><stop offset="0.5791" stop-color="#626262"/><stop offset="0.582" stop-color="#666666"/><stop offset="0.584" stop-color="#717171"/><stop offset="0.5898" stop-color="#afafaf"/><stop offset="0.5918" stop-color="#bbbbbb"/><stop offset="0.5947" stop-color="#c2c2c2"/><stop offset="0.6006" stop-color="#c1c1c1"/><stop offset="0.6074" stop-color="#a8a8a8"/><stop offset="0.6143" stop-color="#b8b8b8"/><stop offset="0.6182" stop-color="#b5b5b5"/><stop offset="0.6201" stop-color="#aeaeae"/><stop offset="0.626" stop-color="#838383"/><stop offset="0.6309" stop-color="#777777"/><stop offset="0.7305" stop-color="#828282"/><stop offset="0.7559" stop-color="#ababab"/><stop offset="0.7686" stop-color="#d0d0d0"/><stop offset="0.7998" stop-color="#d1d1d1"/><stop offset="0.8047" stop-color="#c7c7c7"/><stop offset="0.8076" stop-color="#b0b0b0"/><stop offset="0.8125" stop-color="#7b7b7b"/><stop offset="0.8145" stop-color="#6c6c6c"/><stop offset="0.8193" stop-color="#5e5e5e"/><stop offset="0.8525" stop-color="#616161"/><stop offset="0.8555" stop-color="#6d6d6d"/><stop offset="0.8613" stop-color="#959595"/><stop offset="0.8662" stop-color="#9e9e9e"/><stop offset="0.8867" stop-color="#9c9c9c"/><stop offset="0.8896" stop-color="#909090"/><stop offset="0.8955" stop-color="#676767"/><stop offset="0.8994" stop-color="#5f5f5f"/><stop offset="0.9268" stop-color="#5e5e5e"/><stop offset="0.9297" stop-color="#626262"/><stop offset="0.9316" stop-color="#6a6a6a"/><stop offset="0.9336" stop-color="#7a7a7a"/><stop offset="0.9385" stop-color="#b0b0b0"/><stop offset="0.9424" stop-color="#c9c9c9"/><stop offset="1" stop-color="#d1d1d1"/></linearGradient><linearGradient id="g21" gradientUnits="userSpaceOnUse" x1="0" x2="820.7" y1="0" y2="0"><stop offset="0" stop-color="#a6a6a6"/><stop offset="0.0098" stop-color="#a4a4a4"/><stop offset="0.0342" stop-color="#797979"/><stop offset="0.0479" stop-color="#737373"/><stop offset="0.0615" stop-color="#828282"/><stop offset="0.082" stop-color="#aeaeae"/><stop offset="0.0957" stop-color="#c3c3c3"/><stop offset="0.1348" stop-color="#d1d1d1"/><stop offset="0.1396" stop-color="#c4c4c4"/><stop offset="0.1416" stop-color="#b5b5b5"/><stop offset="0.1475" stop-color="#797979"/><stop offset="0.1514" stop-color="#646464"/><stop offset="0.1719" stop-color="#616161"/><stop offset="0.1748" stop-color="#656565"/><stop offset="0.1768" stop-color="#707070"/><stop offset="0.1846" stop-color="#cecece"/><stop offset="0.1865" stop-color="#dadada"/><stop offset="0.1895" stop-color="#e1e1e1"/><stop offset="0.2041" stop-color="#e4e4e4"/><stop offset="0.21" stop-color="#dedede"/><stop offset="0.2314" stop-color="#a1a1a1"/><stop offset="0.252" stop-color="#7a7a7a"/><stop offset="0.291" stop-color="#636363"/><stop offset="0.4414" stop-color="#626262"/><stop offset="0.4453" stop-color="#6c6c6c"/><stop offset="0.4512" stop-color="#9c9c9c"/><stop offset="0.4541" stop-color="#ababab"/><stop offset="0.4629" stop-color="#aeaeae"/><stop offset="0.4678" stop-color="#a2a2a2"/><stop offset="0.4736" stop-color="#717171"/><stop offset="0.4785" stop-color="#626262"/><stop offset="0.5215" stop-color="#626262"/><stop offset="0.5352" stop-color="#767676"/><stop offset="0.541" stop-color="#757575"/><stop offset="0.5518" stop-color="#626262"/><stop offset="0.5791" stop-color="#626262"/><stop offset="0.582" stop-color="#666666"/><stop offset="0.584" stop-color="#707070"/><stop offset="0.5898" stop-color="#afafaf"/><stop offset="0.5918" stop-color="#bbbbbb"/><stop offset="0.5947" stop-color="#c2c2c2"/><stop offset="0.6006" stop-color="#c1c1c1"/><stop offset="0.6074" stop-color="#a7a7a7"/><stop offset="0.6143" stop-color="#b8b8b8"/><stop offset="0.6182" stop-color="#b5b5b5"/><stop offset="0.6201" stop-color="#aeaeae"/><stop offset="0.626" stop-color="#838383"/><stop offset="0.6309" stop-color="#767676"/><stop offset="0.7305" stop-color="#818181"/><stop offset="0.7559" stop-color="#ababab"/><stop offset="0.7686" stop-color="#d0d0d0"/><stop offset="0.7998" stop-color="#d1d1d1"/><stop offset="0.8047" stop-color="#c7c7c7"/><stop offset="0.8076" stop-color="#b0b0b0"/><stop offset="0.8125" stop-color="#7b7b7b"/><stop offset="0.8145" stop-color="#6c6c6c"/><stop offset="0.8193" stop-color="#5e5e5e"/><stop offset="0.8525" stop-color="#616161"/><stop offset="0.8555" stop-color="#6d6d6d"/><stop offset="0.8613" stop-color="#959595"/><stop offset="0.8662" stop-color="#9e9e9e"/><stop offset="0.8867" stop-color="#9c9c9c"/><stop offset="0.8896" stop-color="#909090"/><stop offset="0.8955" stop-color="#676767"/><stop offset="0.8994" stop-color="#5f5f5f"/><stop offset="0.9268" stop-color="#5e5e5e"/><stop offset="0.9297" stop-color="#626262"/><stop offset="0.9316" stop-color="#6a6a6a"/><stop offset="0.9336" stop-color="#7a7a7a"/><stop offset="0.9385" stop-color="#b0b0b0"/><stop offset="0.9424" stop-color="#c9c9c9"/><stop offset="1" stop-color="#d1d1d1"/></linearGradient><linearGradient id="g22" gradientUnits="userSpaceOnUse" x1="0" x2="820.7" y1="0" y2="0"><stop offset="0" stop-color="#a2a2a2"/><stop offset="0.0117" stop-color="#9a9a9a"/><stop offset="0.0352" stop-color="#666666"/><stop offset="0.0469" stop-color="#5f5f5f"/><stop offset="0.0596" stop-color="#6f6f6f"/><stop offset="0.082" stop-color="#a8a8a8"/><stop offset="0.0957" stop-color="#c1c1c1"/><stop offset="0.1104" stop-color="#cbcbcb"/><stop offset="0.1348" stop-color="#d1d1d1"/><stop offset="0.1396" stop-color="#c4c4c4"/><stop offset="0.1475" stop-color="#797979"/><stop offset="0.1514" stop-color="#646464"/><stop offset="0.1719" stop-color="#616161"/><stop offset="0.1748" stop-color="#656565"/><stop offset="0.1768" stop-color="#707070"/><stop offset="0.1846" stop-color="#cecece"/><stop offset="0.1865" stop-color="#dadada"/><stop offset="0.1895" stop-color="#e1e1e1"/><stop offset="0.2041" stop-color="#e4e4e4"/><stop offset="0.21" stop-color="#dedede"/><stop offset="0.2314" stop-color="#a1a1a1"/><stop offset="0.252" stop-color="#7a7a7a"/><stop offset="0.291" stop-color="#626262"/><stop offset="0.4414" stop-color="#626262"/><stop offset="0.4453" stop-color="#6c6c6c"/><stop offset="0.4512" stop-color="#9c9c9c"/><stop offset="0.4541" stop-color="#ababab"/><stop offset="0.4629" stop-color="#aeaeae"/><stop offset="0.4678" stop-color="#a2a2a2"/><stop offset="0.4736" stop-color="#707070"/><stop offset="0.4785" stop-color="#616161"/><stop offset="0.5215" stop-color="#626262"/><stop offset="0.5352" stop-color="#767676"/><stop offset="0.541" stop-color="#757575"/><stop offset="0.5518" stop-color="#626262"/><stop offset="0.5791" stop-color="#616161"/><stop offset="0.582" stop-color="#656565"/><stop offset="0.584" stop-color="#707070"/><stop offset="0.5898" stop-color="#afafaf"/><stop offset="0.5918" stop-color="#bbbbbb"/><stop offset="0.5947" stop-color="#c2c2c2"/><stop offset="0.6006" stop-color="#c1c1c1"/><stop offset="0.6074" stop-color="#a7a7a7"/><stop offset="0.6143" stop-color="#b8b8b8"/><stop offset="0.6182" stop-color="#b5b5b5"/><stop offset="0.6201" stop-color="#aeaeae"/><stop offset="0.626" stop-color="#828282"/><stop offset="0.6299" stop-color="#777777"/><stop offset="0.6621" stop-color="#787878"/><stop offset="0.7305" stop-color="#808080"/><stop offset="0.7559" stop-color="#aaaaaa"/><stop offset="0.7686" stop-color="#d0d0d0"/><stop offset="0.7998" stop-color="#d1d1d1"/><stop offset="0.8047" stop-color="#c7c7c7"/><stop offset="0.8076" stop-color="#afafaf"/><stop offset="0.8125" stop-color="#7b7b7b"/><stop offset="0.8145" stop-color="#6c6c6c"/><stop offset="0.8193" stop-color="#5e5e5e"/><stop offset="0.8525" stop-color="#616161"/><stop offset="0.8555" stop-color="#6d6d6d"/><stop offset="0.8613" stop-color="#959595"/><stop offset="0.8662" stop-color="#9e9e9e"/><stop offset="0.8867" stop-color="#9c9c9c"/><stop offset="0.8896" stop-color="#8f8f8f"/><stop offset="0.8955" stop-color="#676767"/><stop offset="0.8994" stop-color="#5f5f5f"/><stop offset="0.9268" stop-color="#5e5e5e"/><stop offset="0.9297" stop-color="#626262"/><stop offset="0.9316" stop-color="#6a6a6a"/><stop offset="0.9395" stop-color="#b9b9b9"/><stop offset="0.9424" stop-color="#c9c9c9"/><stop offset="1" stop-color="#d1d1d1"/></linearGradient><linearGradient id="g23" gradientUnits="userSpaceOnUse" x1="0" x2="820.7" y1="0" y2="0"><stop offset="0" stop-color="#a3a3a3"/><stop offset="0.0098" stop-color="#9f9f9f"/><stop offset="0.0332" stop-color="#6e6e6e"/><stop offset="0.0469" stop-color="#646464"/><stop offset="0.0596" stop-color="#737373"/><stop offset="0.082" stop-color="#aaaaaa"/><stop offset="0.0957" stop-color="#c1c1c1"/><stop offset="0.1094" stop-color="#cbcbcb"/><stop offset="0.1348" stop-color="#d1d1d1"/><stop offset="0.1396" stop-color="#c4c4c4"/><stop offset="0.1416" stop-color="#b5b5b5"/><stop offset="0.1475" stop-color="#797979"/><stop offset="0.1514" stop-color="#646464"/><stop offset="0.1719" stop-color="#616161"/><stop offset="0.1748" stop-color="#656565"/><stop offset="0.1768" stop-color="#707070"/><stop offset="0.1846" stop-color="#cecece"/><stop offset="0.1865" stop-color="#dadada"/><stop offset="0.1895" stop-color="#e1e1e1"/><stop offset="0.2041" stop-color="#e4e4e4"/><stop offset="0.21" stop-color="#dedede"/><stop offset="0.2314" stop-color="#a1a1a1"/><stop offset="0.252" stop-color="#7a7a7a"/><stop offset="0.291" stop-color="#636363"/><stop offset="0.4414" stop-color="#626262"/><stop offset="0.4453" stop-color="#6c6c6c"/><stop offset="0.4512" stop-color="#9c9c9c"/><stop offset="0.4541" stop-color="#ababab"/><stop offset="0.4629" stop-color="#aeaeae"/><stop offset="0.4678" stop-color="#a2a2a2"/><stop offset="0.4736" stop-color="#707070"/><stop offset="0.4785" stop-color="#616161"/><stop offset="0.5215" stop-color="#626262"/><stop offset="0.5352" stop-color="#767676"/><stop offset="0.541" stop-color="#757575"/><stop offset="0.5518" stop-color="#626262"/><stop offset="0.5791" stop-color="#616161"/><stop offset="0.582" stop-color="#656565"/><stop offset="0.584" stop-color="#707070"/><stop offset="0.5898" stop-color="#afafaf"/><stop offset="0.5918" stop-color="#bbbbbb"/><stop offset="0.5947" stop-color="#c2c2c2"/><stop offset="0.6006" stop-color="#c1c1c1"/><stop offset="0.6074" stop-color="#a7a7a7"/><stop offset="0.6143" stop-color="#b8b8b8"/><stop offset="0.6182" stop-color="#b5b5b5"/><stop offset="0.6201" stop-color="#aeaeae"/><stop offset="0.626" stop-color="#828282"/><stop offset="0.6309" stop-color="#767676"/><stop offset="0.7305" stop-color="#808080"/><stop offset="0.7559" stop-color="#ababab"/><stop offset="0.7686" stop-color="#d0d0d0"/><stop offset="0.7998" stop-color="#d1d1d1"/><stop offset="0.8047" stop-color="#c7c7c7"/><stop offset="0.8076" stop-color="#afafaf"/><stop offset="0.8125" stop-color="#7b7b7b"/><stop offset="0.8145" stop-color="#6c6c6c"/><stop offset="0.8193" stop-color="#5e5e5e"/><stop offset="0.8525" stop-color="#616161"/><stop offset="0.8555" stop-color="#6d6d6d"/><stop offset="0.8613" stop-color="#959595"/><stop offset="0.8662" stop-color="#9e9e9e"/><stop offset="0.8867" stop-color="#9c9c9c"/><stop offset="0.8896" stop-color="#909090"/><stop offset="0.8955" stop-color="#676767"/><stop offset="0.8994" stop-color="#5f5f5f"/><stop offset="0.9268" stop-color="#5e5e5e"/><stop offset="0.9297" stop-color="#626262"/><stop offset="0.9316" stop-color="#6a6a6a"/><stop offset="0.9336" stop-color="#7a7a7a"/><stop offset="0.9385" stop-color="#b0b0b0"/><stop offset="0.9424" stop-color="#c9c9c9"/><stop offset="1" stop-color="#d1d1d1"/></linearGradient><linearGradient id="g24" gradientUnits="userSpaceOnUse" x1="0" x2="820.7" y1="0" y2="0"><stop offset="0" stop-color="#a9a9a9"/><stop offset="0.0107" stop-color="#a9a9a9"/><stop offset="0.0342" stop-color="#858585"/><stop offset="0.0479" stop-color="#7f7f7f"/><stop offset="0.0615" stop-color="#8c8c8c"/><stop offset="0.082" stop-color="#b3b3b3"/><stop offset="0.0957" stop-color="#c5c5c5"/><stop offset="0.1348" stop-color="#d2d2d2"/><stop offset="0.1396" stop-color="#c5c5c5"/><stop offset="0.1416" stop-color="#b6b6b6"/><stop offset="0.1475" stop-color="#7a7a7a"/><stop offset="0.1514" stop-color="#646464"/><stop offset="0.1719" stop-color="#616161"/><stop offset="0.1748" stop-color="#656565"/><stop offset="0.1768" stop-color="#707070"/><stop offset="0.1846" stop-color="#cecece"/><stop offset="0.1865" stop-color="#dadada"/><stop offset="0.1895" stop-color="#e1e1e1"/><stop offset="0.2041" stop-color="#e4e4e4"/><stop offset="0.21" stop-color="#dedede"/><stop offset="0.2314" stop-color="#a2a2a2"/><stop offset="0.252" stop-color="#7c7c7c"/><stop offset="0.293" stop-color="#646464"/><stop offset="0.4414" stop-color="#646464"/><stop offset="0.4453" stop-color="#6e6e6e"/><stop offset="0.4512" stop-color="#9e9e9e"/><stop offset="0.4541" stop-color="#adadad"/><stop offset="0.4629" stop-color="#b0b0b0"/><stop offset="0.4678" stop-color="#a4a4a4"/><stop offset="0.4736" stop-color="#727272"/><stop offset="0.4785" stop-color="#636363"/><stop offset="0.5215" stop-color="#646464"/><stop offset="0.5352" stop-color="#787878"/><stop offset="0.541" stop-color="#777777"/><stop offset="0.5518" stop-color="#646464"/><stop offset="0.5791" stop-color="#636363"/><stop offset="0.582" stop-color="#676767"/><stop offset="0.584" stop-color="#727272"/><stop offset="0.5898" stop-color="#b0b0b0"/><stop offset="0.5918" stop-color="#bcbcbc"/><stop offset="0.5947" stop-color="#c3c3c3"/><stop offset="0.6006" stop-color="#c2c2c2"/><stop offset="0.6074" stop-color="#a8a8a8"/><stop offset="0.6143" stop-color="#b8b8b8"/><stop offset="0.6182" stop-color="#b6b6b6"/><stop offset="0.6201" stop-color="#aeaeae"/><stop offset="0.626" stop-color="#838383"/><stop offset="0.6309" stop-color="#787878"/><stop offset="0.7305" stop-color="#848484"/><stop offset="0.7559" stop-color="#adadad"/><stop offset="0.7686" stop-color="#d0d0d0"/><stop offset="0.7998" stop-color="#d2d2d2"/><stop offset="0.8047" stop-color="#c7c7c7"/><stop offset="0.8076" stop-color="#b0b0b0"/><stop offset="0.8125" stop-color="#7b7b7b"/><stop offset="0.8145" stop-color="#6c6c6c"/><stop offset="0.8193" stop-color="#5e5e5e"/><stop offset="0.8525" stop-color="#616161"/><stop offset="0.8555" stop-color="#6d6d6d"/><stop offset="0.8613" stop-color="#969696"/><stop offset="0.8662" stop-color="#9f9f9f"/><stop offset="0.8867" stop-color="#9c9c9c"/><stop offset="0.8896" stop-color="#909090"/><stop offset="0.8955" stop-color="#676767"/><stop offset="0.8994" stop-color="#5f5f5f"/><stop offset="0.9268" stop-color="#5e5e5e"/><stop offset="0.9297" stop-color="#626262"/><stop offset="0.9316" stop-color="#6a6a6a"/><stop offset="0.9336" stop-color="#7a7a7a"/><stop offset="0.9385" stop-color="#b1b1b1"/><stop offset="0.9424" stop-color="#cacaca"/><stop offset="1" stop-color="#d2d2d2"/></linearGradient><linearGradient id="g25" gradientUnits="userSpaceOnUse" x1="0" x2="820.7" y1="0" y2="0"><stop offset="0" stop-color="#b0b0b0"/><stop offset="0.0117" stop-color="#b5b5b5"/><stop offset="0.0352" stop-color="#a1a1a1"/><stop offset="0.0508" stop-color="#9e9e9e"/><stop offset="0.0635" stop-color="#a6a6a6"/><stop offset="0.0977" stop-color="#cbcbcb"/><stop offset="0.1348" stop-color="#d3d3d3"/><stop offset="0.1396" stop-color="#c6c6c6"/><stop offset="0.1416" stop-color="#b7b7b7"/><stop offset="0.1475" stop-color="#7a7a7a"/><stop offset="0.1514" stop-color="#646464"/><stop offset="0.1719" stop-color="#616161"/><stop offset="0.1748" stop-color="#656565"/><stop offset="0.1768" stop-color="#707070"/><stop offset="0.1846" stop-color="#cecece"/><stop offset="0.1865" stop-color="#dadada"/><stop offset="0.1895" stop-color="#e1e1e1"/><stop offset="0.2041" stop-color="#e4e4e4"/><stop offset="0.21" stop-color="#dedede"/><stop offset="0.2314" stop-color="#a3a3a3"/><stop offset="0.252" stop-color="#7e7e7e"/><stop offset="0.293" stop-color="#666666"/><stop offset="0.4414" stop-color="#656565"/><stop offset="0.4453" stop-color="#707070"/><stop offset="0.4512" stop-color="#a0a0a0"/><stop offset="0.4541" stop-color="#afafaf"/><stop offset="0.4629" stop-color="#b2b2b2"/><stop offset="0.4678" stop-color="#a6a6a6"/><stop offset="0.4736" stop-color="#747474"/><stop offset="0.4785" stop-color="#656565"/><stop offset="0.5215" stop-color="#656565"/><stop offset="0.5352" stop-color="#7a7a7a"/><stop offset="0.541" stop-color="#797979"/><stop offset="0.5518" stop-color="#656565"/><stop offset="0.5791" stop-color="#656565"/><stop offset="0.582" stop-color="#696969"/><stop offset="0.584" stop-color="#737373"/><stop offset="0.5898" stop-color="#b1b1b1"/><stop offset="0.5918" stop-color="#bcbcbc"/><stop offset="0.5947" stop-color="#c3c3c3"/><stop offset="0.6006" stop-color="#c2c2c2"/><stop offset="0.6074" stop-color="#a9a9a9"/><stop offset="0.6143" stop-color="#b9b9b9"/><stop offset="0.6182" stop-color="#b6b6b6"/><stop offset="0.6201" stop-color="#afafaf"/><stop offset="0.626" stop-color="#848484"/><stop offset="0.6309" stop-color="#7a7a7a"/><stop offset="0.7305" stop-color="#878787"/><stop offset="0.7578" stop-color="#b3b3b3"/><stop offset="0.7686" stop-color="#d1d1d1"/><stop offset="0.7998" stop-color="#d3d3d3"/><stop offset="0.8047" stop-color="#c8c8c8"/><stop offset="0.8076" stop-color="#b1b1b1"/><stop offset="0.8125" stop-color="#7b7b7b"/><stop offset="0.8145" stop-color="#6c6c6c"/><stop offset="0.8193" stop-color="#5e5e5e"/><stop offset="0.8525" stop-color="#616161"/><stop offset="0.8555" stop-color="#6d6d6d"/><stop offset="0.8613" stop-color="#969696"/><stop offset="0.8662" stop-color="#a0a0a0"/><stop offset="0.8867" stop-color="#9d9d9d"/><stop offset="0.8896" stop-color="#919191"/><stop offset="0.8955" stop-color="#676767"/><stop offset="0.8994" stop-color="#5f5f5f"/><stop offset="0.9268" stop-color="#5e5e5e"/><stop offset="0.9297" stop-color="#626262"/><stop offset="0.9316" stop-color="#6a6a6a"/><stop offset="0.9336" stop-color="#7a7a7a"/><stop offset="0.9385" stop-color="#b1b1b1"/><stop offset="0.9424" stop-color="#cacaca"/><stop offset="1" stop-color="#d2d2d2"/></linearGradient><linearGradient id="g26" gradientUnits="userSpaceOnUse" x1="0" x2="820.7" y1="0" y2="0"><stop offset="0" stop-color="#b9b9b9"/><stop offset="0.0117" stop-color="#c2c2c2"/><stop offset="0.04" stop-color="#b7b7b7"/><stop offset="0.0596" stop-color="#b7b7b7"/><stop offset="0.0977" stop-color="#d0d0d0"/><stop offset="0.1348" stop-color="#d5d5d5"/><stop offset="0.1396" stop-color="#c9c9c9"/><stop offset="0.1416" stop-color="#bababa"/><stop offset="0.1475" stop-color="#7b7b7b"/><stop offset="0.1514" stop-color="#656565"/><stop offset="0.1719" stop-color="#616161"/><stop offset="0.1748" stop-color="#656565"/><stop offset="0.1768" stop-color="#707070"/><stop offset="0.1846" stop-color="#cecece"/><stop offset="0.1865" stop-color="#dadada"/><stop offset="0.1895" stop-color="#e1e1e1"/><stop offset="0.2041" stop-color="#e4e4e4"/><stop offset="0.21" stop-color="#dedede"/><stop offset="0.2314" stop-color="#a5a5a5"/><stop offset="0.252" stop-color="#838383"/><stop offset="0.293" stop-color="#6b6b6b"/><stop offset="0.4414" stop-color="#6b6b6b"/><stop offset="0.4453" stop-color="#757575"/><stop offset="0.4512" stop-color="#a5a5a5"/><stop offset="0.4541" stop-color="#b4b4b4"/><stop offset="0.4629" stop-color="#b7b7b7"/><stop offset="0.4678" stop-color="#ababab"/><stop offset="0.4736" stop-color="#797979"/><stop offset="0.4785" stop-color="#6b6b6b"/><stop offset="0.5215" stop-color="#6b6b6b"/><stop offset="0.5352" stop-color="#7f7f7f"/><stop offset="0.541" stop-color="#7e7e7e"/><stop offset="0.5518" stop-color="#6b6b6b"/><stop offset="0.5791" stop-color="#6b6b6b"/><stop offset="0.582" stop-color="#6e6e6e"/><stop offset="0.584" stop-color="#787878"/><stop offset="0.5898" stop-color="#b3b3b3"/><stop offset="0.5918" stop-color="#bebebe"/><stop offset="0.5947" stop-color="#c5c5c5"/><stop offset="0.6006" stop-color="#c4c4c4"/><stop offset="0.6074" stop-color="#aaaaaa"/><stop offset="0.6143" stop-color="#bbbbbb"/><stop offset="0.6182" stop-color="#b8b8b8"/><stop offset="0.6201" stop-color="#b1b1b1"/><stop offset="0.626" stop-color="#868686"/><stop offset="0.6289" stop-color="#808080"/><stop offset="0.6357" stop-color="#868686"/><stop offset="0.7305" stop-color="#919191"/><stop offset="0.752" stop-color="#b4b4b4"/><stop offset="0.7588" stop-color="#bababa"/><stop offset="0.7686" stop-color="#d3d3d3"/><stop offset="0.7998" stop-color="#d4d4d4"/><stop offset="0.8047" stop-color="#cacaca"/><stop offset="0.8076" stop-color="#b3b3b3"/><stop offset="0.8125" stop-color="#7c7c7c"/><stop offset="0.8145" stop-color="#6c6c6c"/><stop offset="0.8193" stop-color="#5e5e5e"/><stop offset="0.8525" stop-color="#616161"/><stop offset="0.8555" stop-color="#6d6d6d"/><stop offset="0.8613" stop-color="#989898"/><stop offset="0.8662" stop-color="#a1a1a1"/><stop offset="0.8867" stop-color="#9f9f9f"/><stop offset="0.8896" stop-color="#939393"/><stop offset="0.8955" stop-color="#676767"/><stop offset="0.8994" stop-color="#5f5f5f"/><stop offset="0.9268" stop-color="#5e5e5e"/><stop offset="0.9297" stop-color="#626262"/><stop offset="0.9316" stop-color="#6a6a6a"/><stop offset="0.9336" stop-color="#7b7b7b"/><stop offset="0.9385" stop-color="#b2b2b2"/><stop offset="0.9424" stop-color="#cbcbcb"/><stop offset="1" stop-color="#d3d3d3"/></linearGradient><linearGradient id="g27" gradientUnits="userSpaceOnUse" x1="0" x2="820.7" y1="0" y2="0"><stop offset="0" stop-color="#c0c0c0"/><stop offset="0.0117" stop-color="#cccccc"/><stop offset="0.0615" stop-color="#c4c4c4"/><stop offset="0.0977" stop-color="#d5d5d5"/><stop offset="0.1348" stop-color="#d9d9d9"/><stop offset="0.1396" stop-color="#cccccc"/><stop offset="0.1416" stop-color="#bdbdbd"/><stop offset="0.1475" stop-color="#7c7c7c"/><stop offset="0.1514" stop-color="#666666"/><stop offset="0.1719" stop-color="#626262"/><stop offset="0.1748" stop-color="#656565"/><stop offset="0.1768" stop-color="#707070"/><stop offset="0.1846" stop-color="#cecece"/><stop offset="0.1865" stop-color="#dadada"/><stop offset="0.1895" stop-color="#e1e1e1"/><stop offset="0.2031" stop-color="#e4e4e4"/><stop offset="0.21" stop-color="#dedede"/><stop offset="0.2314" stop-color="#a8a8a8"/><stop offset="0.252" stop-color="#898989"/><stop offset="0.2979" stop-color="#717171"/><stop offset="0.4414" stop-color="#717171"/><stop offset="0.4453" stop-color="#7b7b7b"/><stop offset="0.4521" stop-color="#b2b2b2"/><stop offset="0.457" stop-color="#bdbdbd"/><stop offset="0.4658" stop-color="#bababa"/><stop offset="0.4678" stop-color="#b1b1b1"/><stop offset="0.4736" stop-color="#808080"/><stop offset="0.4785" stop-color="#717171"/><stop offset="0.5215" stop-color="#717171"/><stop offset="0.5352" stop-color="#858585"/><stop offset="0.541" stop-color="#848484"/><stop offset="0.5508" stop-color="#717171"/><stop offset="0.5791" stop-color="#717171"/><stop offset="0.582" stop-color="#747474"/><stop offset="0.584" stop-color="#7d7d7d"/><stop offset="0.5898" stop-color="#b6b6b6"/><stop offset="0.5928" stop-color="#c4c4c4"/><stop offset="0.5947" stop-color="#c7c7c7"/><stop offset="0.6006" stop-color="#c6c6c6"/><stop offset="0.6074" stop-color="#acacac"/><stop offset="0.6143" stop-color="#bdbdbd"/><stop offset="0.6182" stop-color="#bababa"/><stop offset="0.6201" stop-color="#b3b3b3"/><stop offset="0.626" stop-color="#898989"/><stop offset="0.6289" stop-color="#858585"/><stop offset="0.6357" stop-color="#909090"/><stop offset="0.7305" stop-color="#9c9c9c"/><stop offset="0.752" stop-color="#bfbfbf"/><stop offset="0.7617" stop-color="#c2c2c2"/><stop offset="0.7695" stop-color="#d6d6d6"/><stop offset="0.7998" stop-color="#d6d6d6"/><stop offset="0.8047" stop-color="#cccccc"/><stop offset="0.8076" stop-color="#b5b5b5"/><stop offset="0.8125" stop-color="#7c7c7c"/><stop offset="0.8145" stop-color="#6c6c6c"/><stop offset="0.8193" stop-color="#5e5e5e"/><stop offset="0.8525" stop-color="#616161"/><stop offset="0.8555" stop-color="#6d6d6d"/><stop offset="0.8613" stop-color="#9a9a9a"/><stop offset="0.8662" stop-color="#a3a3a3"/><stop offset="0.8867" stop-color="#a1a1a1"/><stop offset="0.8896" stop-color="#959595"/><stop offset="0.8945" stop-color="#6d6d6d"/><stop offset="0.8975" stop-color="#616161"/><stop offset="0.9268" stop-color="#5e5e5e"/><stop offset="0.9297" stop-color="#626262"/><stop offset="0.9316" stop-color="#6a6a6a"/><stop offset="0.9336" stop-color="#7b7b7b"/><stop offset="0.9385" stop-color="#b4b4b4"/><stop offset="0.9424" stop-color="#cdcdcd"/><stop offset="1" stop-color="#d5d5d5"/></linearGradient><linearGradient id="g28" gradientUnits="userSpaceOnUse" x1="0" x2="820.7" y1="0" y2="0"><stop offset="0" stop-color="#c6c6c6"/><stop offset="0.0127" stop-color="#d2d2d2"/><stop offset="0.0635" stop-color="#cbcbcb"/><stop offset="0.0977" stop-color="#d9d9d9"/><stop offset="0.1348" stop-color="#dcdcdc"/><stop offset="0.1396" stop-color="#cfcfcf"/><stop offset="0.1416" stop-color="#c0c0c0"/><stop offset="0.1475" stop-color="#7d7d7d"/><stop offset="0.1514" stop-color="#676767"/><stop offset="0.1719" stop-color="#626262"/><stop offset="0.1748" stop-color="#666666"/><stop offset="0.1768" stop-color="#707070"/><stop offset="0.1846" stop-color="#cecece"/><stop offset="0.1865" stop-color="#dadada"/><stop offset="0.1895" stop-color="#e1e1e1"/><stop offset="0.2031" stop-color="#e4e4e4"/><stop offset="0.21" stop-color="#dedede"/><stop offset="0.2314" stop-color="#ababab"/><stop offset="0.252" stop-color="#8e8e8e"/><stop offset="0.2979" stop-color="#777777"/><stop offset="0.4414" stop-color="#777777"/><stop offset="0.4453" stop-color="#818181"/><stop offset="0.4521" stop-color="#b8b8b8"/><stop offset="0.457" stop-color="#c3c3c3"/><stop offset="0.4658" stop-color="#c0c0c0"/><stop offset="0.4678" stop-color="#b7b7b7"/><stop offset="0.4736" stop-color="#868686"/><stop offset="0.4785" stop-color="#777777"/><stop offset="0.5215" stop-color="#777777"/><stop offset="0.5352" stop-color="#8b8b8b"/><stop offset="0.541" stop-color="#8a8a8a"/><stop offset="0.5518" stop-color="#777777"/><stop offset="0.5791" stop-color="#777777"/><stop offset="0.584" stop-color="#818181"/><stop offset="0.5898" stop-color="#b8b8b8"/><stop offset="0.5947" stop-color="#c9c9c9"/><stop offset="0.6006" stop-color="#c8c8c8"/><stop offset="0.6074" stop-color="#aeaeae"/><stop offset="0.6143" stop-color="#bfbfbf"/><stop offset="0.6182" stop-color="#bcbcbc"/><stop offset="0.6201" stop-color="#b5b5b5"/><stop offset="0.626" stop-color="#8c8c8c"/><stop offset="0.6279" stop-color="#898989"/><stop offset="0.6357" stop-color="#9a9a9a"/><stop offset="0.7305" stop-color="#a7a7a7"/><stop offset="0.752" stop-color="#cacaca"/><stop offset="0.7617" stop-color="#c5c5c5"/><stop offset="0.7695" stop-color="#d8d8d8"/><stop offset="0.7998" stop-color="#d8d8d8"/><stop offset="0.8047" stop-color="#cecece"/><stop offset="0.8076" stop-color="#b7b7b7"/><stop offset="0.8125" stop-color="#7c7c7c"/><stop offset="0.8145" stop-color="#6c6c6c"/><stop offset="0.8193" stop-color="#5e5e5e"/><stop offset="0.8525" stop-color="#616161"/><stop offset="0.8555" stop-color="#6d6d6d"/><stop offset="0.8613" stop-color="#9b9b9b"/><stop offset="0.8662" stop-color="#a5a5a5"/><stop offset="0.8867" stop-color="#a3a3a3"/><stop offset="0.8896" stop-color="#979797"/><stop offset="0.8945" stop-color="#6e6e6e"/><stop offset="0.8975" stop-color="#616161"/><stop offset="0.9268" stop-color="#5e5e5e"/><stop offset="0.9297" stop-color="#626262"/><stop offset="0.9316" stop-color="#6a6a6a"/><stop offset="0.9336" stop-color="#7b7b7b"/><stop offset="0.9385" stop-color="#b6b6b6"/><stop offset="0.9424" stop-color="#cecece"/><stop offset="1" stop-color="#d6d6d6"/></linearGradient><linearGradient id="g29" gradientUnits="userSpaceOnUse" x1="0" x2="820.7" y1="0" y2="0"><stop offset="0" stop-color="#cbcbcb"/><stop offset="0.0127" stop-color="#d7d7d7"/><stop offset="0.0635" stop-color="#d0d0d0"/><stop offset="0.0977" stop-color="#dcdcdc"/><stop offset="0.1348" stop-color="#dfdfdf"/><stop offset="0.1396" stop-color="#d2d2d2"/><stop offset="0.1416" stop-color="#c3c3c3"/><stop offset="0.1475" stop-color="#7e7e7e"/><stop offset="0.1514" stop-color="#686868"/><stop offset="0.1719" stop-color="#626262"/><stop offset="0.1748" stop-color="#666666"/><stop offset="0.1768" stop-color="#707070"/><stop offset="0.1787" stop-color="#848484"/><stop offset="0.1846" stop-color="#cecece"/><stop offset="0.1865" stop-color="#dadada"/><stop offset="0.1895" stop-color="#e1e1e1"/><stop offset="0.2031" stop-color="#e4e4e4"/><stop offset="0.21" stop-color="#dedede"/><stop offset="0.2305" stop-color="#afafaf"/><stop offset="0.252" stop-color="#949494"/><stop offset="0.2979" stop-color="#7d7d7d"/><stop offset="0.4414" stop-color="#7d7d7d"/><stop offset="0.4453" stop-color="#878787"/><stop offset="0.4521" stop-color="#bebebe"/><stop offset="0.457" stop-color="#c9c9c9"/><stop offset="0.4658" stop-color="#c6c6c6"/><stop offset="0.4678" stop-color="#bdbdbd"/><stop offset="0.4736" stop-color="#8b8b8b"/><stop offset="0.4785" stop-color="#7d7d7d"/><stop offset="0.5215" stop-color="#7d7d7d"/><stop offset="0.5352" stop-color="#919191"/><stop offset="0.541" stop-color="#909090"/><stop offset="0.5518" stop-color="#7d7d7d"/><stop offset="0.5791" stop-color="#7d7d7d"/><stop offset="0.584" stop-color="#868686"/><stop offset="0.5898" stop-color="#bababa"/><stop offset="0.5947" stop-color="#cbcbcb"/><stop offset="0.6006" stop-color="#cacaca"/><stop offset="0.6074" stop-color="#b0b0b0"/><stop offset="0.6143" stop-color="#c1c1c1"/><stop offset="0.6182" stop-color="#bebebe"/><stop offset="0.6201" stop-color="#b7b7b7"/><stop offset="0.625" stop-color="#939393"/><stop offset="0.6279" stop-color="#8d8d8d"/><stop offset="0.6357" stop-color="#a4a4a4"/><stop offset="0.7285" stop-color="#b1b1b1"/><stop offset="0.7354" stop-color="#b7b7b7"/><stop offset="0.752" stop-color="#d5d5d5"/><stop offset="0.7617" stop-color="#c7c7c7"/><stop offset="0.7695" stop-color="#dadada"/><stop offset="0.7998" stop-color="#dadada"/><stop offset="0.8047" stop-color="#d0d0d0"/><stop offset="0.8076" stop-color="#b9b9b9"/><stop offset="0.8125" stop-color="#7c7c7c"/><stop offset="0.8145" stop-color="#6c6c6c"/><stop offset="0.8193" stop-color="#5e5e5e"/><stop offset="0.8525" stop-color="#616161"/><stop offset="0.8564" stop-color="#747474"/><stop offset="0.8613" stop-color="#9d9d9d"/><stop offset="0.8662" stop-color="#a7a7a7"/><stop offset="0.8867" stop-color="#a5a5a5"/><stop offset="0.8896" stop-color="#999999"/><stop offset="0.8945" stop-color="#6e6e6e"/><stop offset="0.8975" stop-color="#616161"/><stop offset="0.9268" stop-color="#5e5e5e"/><stop offset="0.9297" stop-color="#626262"/><stop offset="0.9316" stop-color="#6a6a6a"/><stop offset="0.9336" stop-color="#7b7b7b"/><stop offset="0.9385" stop-color="#b7b7b7"/><stop offset="0.9424" stop-color="#d0d0d0"/><stop offset="1" stop-color="#d8d8d8"/></linearGradient><linearGradient id="g30" gradientUnits="userSpaceOnUse" x1="0" x2="820.7" y1="0" y2="0"><stop offset="0" stop-color="#cccccc"/><stop offset="0.0127" stop-color="#d8d8d8"/><stop offset="0.0635" stop-color="#d1d1d1"/><stop offset="0.0977" stop-color="#dddddd"/><stop offset="0.1348" stop-color="#dfdfdf"/><stop offset="0.1396" stop-color="#d2d2d2"/><stop offset="0.1416" stop-color="#c3c3c3"/><stop offset="0.1475" stop-color="#7e7e7e"/><stop offset="0.1514" stop-color="#686868"/><stop offset="0.1719" stop-color="#626262"/><stop offset="0.1748" stop-color="#666666"/><stop offset="0.1768" stop-color="#707070"/><stop offset="0.1787" stop-color="#848484"/><stop offset="0.1846" stop-color="#cecece"/><stop offset="0.1865" stop-color="#dadada"/><stop offset="0.1895" stop-color="#e1e1e1"/><stop offset="0.2031" stop-color="#e4e4e4"/><stop offset="0.208" stop-color="#e2e2e2"/><stop offset="0.2305" stop-color="#b0b0b0"/><stop offset="0.25" stop-color="#979797"/><stop offset="0.2979" stop-color="#7e7e7e"/><stop offset="0.4414" stop-color="#7e7e7e"/><stop offset="0.4453" stop-color="#898989"/><stop offset="0.4521" stop-color="#bfbfbf"/><stop offset="0.457" stop-color="#cacaca"/><stop offset="0.4658" stop-color="#c7c7c7"/><stop offset="0.4678" stop-color="#bfbfbf"/><stop offset="0.4736" stop-color="#8d8d8d"/><stop offset="0.4785" stop-color="#7e7e7e"/><stop offset="0.5215" stop-color="#7e7e7e"/><stop offset="0.5352" stop-color="#929292"/><stop offset="0.541" stop-color="#919191"/><stop offset="0.5508" stop-color="#7f7f7f"/><stop offset="0.5791" stop-color="#7e7e7e"/><stop offset="0.584" stop-color="#878787"/><stop offset="0.5898" stop-color="#bbbbbb"/><stop offset="0.5947" stop-color="#cbcbcb"/><stop offset="0.6006" stop-color="#cbcbcb"/><stop offset="0.6074" stop-color="#b1b1b1"/><stop offset="0.6143" stop-color="#c1c1c1"/><stop offset="0.6182" stop-color="#bebebe"/><stop offset="0.6201" stop-color="#b7b7b7"/><stop offset="0.625" stop-color="#939393"/><stop offset="0.627" stop-color="#8e8e8e"/><stop offset="0.6357" stop-color="#a6a6a6"/><stop offset="0.7285" stop-color="#b3b3b3"/><stop offset="0.7354" stop-color="#b9b9b9"/><stop offset="0.752" stop-color="#d7d7d7"/><stop offset="0.7617" stop-color="#c7c7c7"/><stop offset="0.7695" stop-color="#dadada"/><stop offset="0.7998" stop-color="#dbdbdb"/><stop offset="0.8047" stop-color="#d0d0d0"/><stop offset="0.8076" stop-color="#b9b9b9"/><stop offset="0.8135" stop-color="#737373"/><stop offset="0.8154" stop-color="#676767"/><stop offset="0.8184" stop-color="#5f5f5f"/><stop offset="0.8506" stop-color="#5f5f5f"/><stop offset="0.8545" stop-color="#676767"/><stop offset="0.8613" stop-color="#9d9d9d"/><stop offset="0.8633" stop-color="#a5a5a5"/><stop offset="0.8838" stop-color="#a8a8a8"/><stop offset="0.8887" stop-color="#9f9f9f"/><stop offset="0.8916" stop-color="#8b8b8b"/><stop offset="0.8945" stop-color="#6e6e6e"/><stop offset="0.8975" stop-color="#616161"/><stop offset="0.9268" stop-color="#5e5e5e"/><stop offset="0.9297" stop-color="#626262"/><stop offset="0.9316" stop-color="#6a6a6a"/><stop offset="0.9336" stop-color="#7b7b7b"/><stop offset="0.9385" stop-color="#b7b7b7"/><stop offset="0.9424" stop-color="#d0d0d0"/><stop offset="1" stop-color="#d8d8d8"/></linearGradient><linearGradient id="g31" gradientUnits="userSpaceOnUse" x1="0" x2="820.7" y1="0" y2="0"><stop offset="0" stop-color="#c9c9c9"/><stop offset="0.0127" stop-color="#d6d6d6"/><stop offset="0.0635" stop-color="#cfcfcf"/><stop offset="0.0977" stop-color="#dbdbdb"/><stop offset="0.1348" stop-color="#dedede"/><stop offset="0.1396" stop-color="#d1d1d1"/><stop offset="0.1416" stop-color="#c2c2c2"/><stop offset="0.1475" stop-color="#7d7d7d"/><stop offset="0.1514" stop-color="#676767"/><stop offset="0.1719" stop-color="#626262"/><stop offset="0.1748" stop-color="#666666"/><stop offset="0.1768" stop-color="#707070"/><stop offset="0.1846" stop-color="#cecece"/><stop offset="0.1865" stop-color="#dadada"/><stop offset="0.1895" stop-color="#e1e1e1"/><stop offset="0.2031" stop-color="#e4e4e4"/><stop offset="0.21" stop-color="#dedede"/><stop offset="0.2305" stop-color="#aeaeae"/><stop offset="0.252" stop-color="#929292"/><stop offset="0.2979" stop-color="#7a7a7a"/><stop offset="0.4414" stop-color="#7b7b7b"/><stop offset="0.4453" stop-color="#858585"/><stop offset="0.4521" stop-color="#bcbcbc"/><stop offset="0.457" stop-color="#c7c7c7"/><stop offset="0.4658" stop-color="#c4c4c4"/><stop offset="0.4678" stop-color="#bbbbbb"/><stop offset="0.4736" stop-color="#898989"/><stop offset="0.4785" stop-color="#7a7a7a"/><stop offset="0.5215" stop-color="#7b7b7b"/><stop offset="0.5352" stop-color="#8f8f8f"/><stop offset="0.541" stop-color="#8e8e8e"/><stop offset="0.5518" stop-color="#7b7b7b"/><stop offset="0.5791" stop-color="#7a7a7a"/><stop offset="0.584" stop-color="#848484"/><stop offset="0.5898" stop-color="#bababa"/><stop offset="0.5947" stop-color="#cacaca"/><stop offset="0.6006" stop-color="#cacaca"/><stop offset="0.6074" stop-color="#b0b0b0"/><stop offset="0.6143" stop-color="#c0c0c0"/><stop offset="0.6182" stop-color="#bdbdbd"/><stop offset="0.6201" stop-color="#b6b6b6"/><stop offset="0.625" stop-color="#929292"/><stop offset="0.6279" stop-color="#8c8c8c"/><stop offset="0.6357" stop-color="#a0a0a0"/><stop offset="0.7305" stop-color="#adadad"/><stop offset="0.752" stop-color="#d1d1d1"/><stop offset="0.7617" stop-color="#c6c6c6"/><stop offset="0.7695" stop-color="#d9d9d9"/><stop offset="0.7998" stop-color="#dadada"/><stop offset="0.8047" stop-color="#cfcfcf"/><stop offset="0.8076" stop-color="#b8b8b8"/><stop offset="0.8125" stop-color="#7c7c7c"/><stop offset="0.8145" stop-color="#6c6c6c"/><stop offset="0.8193" stop-color="#5e5e5e"/><stop offset="0.8525" stop-color="#616161"/><stop offset="0.8564" stop-color="#747474"/><stop offset="0.8613" stop-color="#9c9c9c"/><stop offset="0.8662" stop-color="#a7a7a7"/><stop offset="0.8867" stop-color="#a4a4a4"/><stop offset="0.8896" stop-color="#989898"/><stop offset="0.8945" stop-color="#6e6e6e"/><stop offset="0.8975" stop-color="#616161"/><stop offset="0.9268" stop-color="#5e5e5e"/><stop offset="0.9297" stop-color="#626262"/><stop offset="0.9316" stop-color="#6a6a6a"/><stop offset="0.9336" stop-color="#7b7b7b"/><stop offset="0.9385" stop-color="#b6b6b6"/><stop offset="0.9424" stop-color="#cfcfcf"/><stop offset="1" stop-color="#d7d7d7"/></linearGradient><linearGradient id="g32" gradientUnits="userSpaceOnUse" x1="0" x2="820.7" y1="0" y2="0"><stop offset="0" stop-color="#c3c3c3"/><stop offset="0.0127" stop-color="#d0d0d0"/><stop offset="0.0635" stop-color="#cacaca"/><stop offset="0.0977" stop-color="#d7d7d7"/><stop offset="0.1348" stop-color="#dadada"/><stop offset="0.1396" stop-color="#cdcdcd"/><stop offset="0.1416" stop-color="#bebebe"/><stop offset="0.1475" stop-color="#7c7c7c"/><stop offset="0.1514" stop-color="#666666"/><stop offset="0.1719" stop-color="#626262"/><stop offset="0.1748" stop-color="#656565"/><stop offset="0.1768" stop-color="#707070"/><stop offset="0.1846" stop-color="#cecece"/><stop offset="0.1865" stop-color="#dadada"/><stop offset="0.1895" stop-color="#e1e1e1"/><stop offset="0.2031" stop-color="#e4e4e4"/><stop offset="0.21" stop-color="#dedede"/><stop offset="0.2314" stop-color="#a9a9a9"/><stop offset="0.252" stop-color="#8b8b8b"/><stop offset="0.2979" stop-color="#737373"/><stop offset="0.4414" stop-color="#747474"/><stop offset="0.4453" stop-color="#7e7e7e"/><stop offset="0.4521" stop-color="#b5b5b5"/><stop offset="0.457" stop-color="#c0c0c0"/><stop offset="0.4658" stop-color="#bdbdbd"/><stop offset="0.4678" stop-color="#b4b4b4"/><stop offset="0.4736" stop-color="#828282"/><stop offset="0.4785" stop-color="#737373"/><stop offset="0.5215" stop-color="#747474"/><stop offset="0.5352" stop-color="#888888"/><stop offset="0.541" stop-color="#878787"/><stop offset="0.5518" stop-color="#747474"/><stop offset="0.5791" stop-color="#737373"/><stop offset="0.584" stop-color="#7f7f7f"/><stop offset="0.5898" stop-color="#b7b7b7"/><stop offset="0.5947" stop-color="#c8c8c8"/><stop offset="0.6006" stop-color="#c7c7c7"/><stop offset="0.6074" stop-color="#adadad"/><stop offset="0.6143" stop-color="#bebebe"/><stop offset="0.6182" stop-color="#bbbbbb"/><stop offset="0.6201" stop-color="#b4b4b4"/><stop offset="0.626" stop-color="#8a8a8a"/><stop offset="0.6289" stop-color="#878787"/><stop offset="0.6357" stop-color="#959595"/><stop offset="0.7305" stop-color="#a1a1a1"/><stop offset="0.752" stop-color="#c4c4c4"/><stop offset="0.7617" stop-color="#c3c3c3"/><stop offset="0.7695" stop-color="#d6d6d6"/><stop offset="0.7998" stop-color="#d7d7d7"/><stop offset="0.8047" stop-color="#cdcdcd"/><stop offset="0.8076" stop-color="#b5b5b5"/><stop offset="0.8125" stop-color="#7c7c7c"/><stop offset="0.8145" stop-color="#6c6c6c"/><stop offset="0.8193" stop-color="#5e5e5e"/><stop offset="0.8525" stop-color="#616161"/><stop offset="0.8555" stop-color="#6d6d6d"/><stop offset="0.8613" stop-color="#9a9a9a"/><stop offset="0.8662" stop-color="#a4a4a4"/><stop offset="0.8867" stop-color="#a2a2a2"/><stop offset="0.8896" stop-color="#969696"/><stop offset="0.8945" stop-color="#6d6d6d"/><stop offset="0.8975" stop-color="#616161"/><stop offset="0.9268" stop-color="#5e5e5e"/><stop offset="0.9297" stop-color="#626262"/><stop offset="0.9316" stop-color="#6a6a6a"/><stop offset="0.9336" stop-color="#7b7b7b"/><stop offset="0.9385" stop-color="#b5b5b5"/><stop offset="0.9424" stop-color="#cecece"/><stop offset="1" stop-color="#d6d6d6"/></linearGradient><linearGradient id="g33" gradientUnits="userSpaceOnUse" x1="0" x2="820.7" y1="0" y2="0"><stop offset="0" stop-color="#bfbfbf"/><stop offset="0.0127" stop-color="#cbcbcb"/><stop offset="0.0635" stop-color="#c6c6c6"/><stop offset="0.0977" stop-color="#d3d3d3"/><stop offset="0.1348" stop-color="#d7d7d7"/><stop offset="0.1396" stop-color="#cacaca"/><stop offset="0.1416" stop-color="#bbbbbb"/><stop offset="0.1475" stop-color="#7b7b7b"/><stop offset="0.1514" stop-color="#666666"/><stop offset="0.1719" stop-color="#616161"/><stop offset="0.1748" stop-color="#656565"/><stop offset="0.1768" stop-color="#707070"/><stop offset="0.1846" stop-color="#cecece"/><stop offset="0.1865" stop-color="#dadada"/><stop offset="0.1895" stop-color="#e1e1e1"/><stop offset="0.2031" stop-color="#e4e4e4"/><stop offset="0.21" stop-color="#dedede"/><stop offset="0.2314" stop-color="#a7a7a7"/><stop offset="0.252" stop-color="#868686"/><stop offset="0.2979" stop-color="#6e6e6e"/><stop offset="0.4414" stop-color="#6e6e6e"/><stop offset="0.4453" stop-color="#787878"/><stop offset="0.4521" stop-color="#afafaf"/><stop offset="0.457" stop-color="#bababa"/><stop offset="0.4658" stop-color="#b7b7b7"/><stop offset="0.4678" stop-color="#aeaeae"/><stop offset="0.4736" stop-color="#7d7d7d"/><stop offset="0.4785" stop-color="#6e6e6e"/><stop offset="0.5215" stop-color="#6e6e6e"/><stop offset="0.5352" stop-color="#828282"/><stop offset="0.541" stop-color="#818181"/><stop offset="0.5518" stop-color="#6e6e6e"/><stop offset="0.5791" stop-color="#6e6e6e"/><stop offset="0.582" stop-color="#717171"/><stop offset="0.584" stop-color="#7a7a7a"/><stop offset="0.5898" stop-color="#b4b4b4"/><stop offset="0.5928" stop-color="#c3c3c3"/><stop offset="0.5947" stop-color="#c6c6c6"/><stop offset="0.6006" stop-color="#c5c5c5"/><stop offset="0.6074" stop-color="#ababab"/><stop offset="0.6143" stop-color="#bcbcbc"/><stop offset="0.6182" stop-color="#b9b9b9"/><stop offset="0.6201" stop-color="#b2b2b2"/><stop offset="0.626" stop-color="#888888"/><stop offset="0.6289" stop-color="#828282"/><stop offset="0.6357" stop-color="#8b8b8b"/><stop offset="0.7305" stop-color="#979797"/><stop offset="0.752" stop-color="#bababa"/><stop offset="0.7607" stop-color="#bfbfbf"/><stop offset="0.7686" stop-color="#d4d4d4"/><stop offset="0.7998" stop-color="#d5d5d5"/><stop offset="0.8047" stop-color="#cbcbcb"/><stop offset="0.8076" stop-color="#b4b4b4"/><stop offset="0.8125" stop-color="#7c7c7c"/><stop offset="0.8145" stop-color="#6c6c6c"/><stop offset="0.8193" stop-color="#5e5e5e"/><stop offset="0.8525" stop-color="#616161"/><stop offset="0.8555" stop-color="#6d6d6d"/><stop offset="0.8613" stop-color="#999999"/><stop offset="0.8662" stop-color="#a2a2a2"/><stop offset="0.8867" stop-color="#a0a0a0"/><stop offset="0.8896" stop-color="#949494"/><stop offset="0.8945" stop-color="#6d6d6d"/><stop offset="0.8975" stop-color="#616161"/><stop offset="0.9268" stop-color="#5e5e5e"/><stop offset="0.9297" stop-color="#626262"/><stop offset="0.9316" stop-color="#6a6a6a"/><stop offset="0.9336" stop-color="#7b7b7b"/><stop offset="0.9385" stop-color="#b3b3b3"/><stop offset="0.9424" stop-color="#cccccc"/><stop offset="1" stop-color="#d4d4d4"/></linearGradient><linearGradient id="g34" gradientUnits="userSpaceOnUse" x1="0" x2="820.7" y1="0" y2="0"><stop offset="0" stop-color="#dedede"/><stop offset="0.0127" stop-color="#e6e6e6"/><stop offset="0.0635" stop-color="#e1e1e1"/><stop offset="0.1357" stop-color="#e9e9e9"/><stop offset="0.1416" stop-color="#d9d9d9"/><stop offset="0.1465" stop-color="#909090"/><stop offset="0.1514" stop-color="#6f6f6f"/><stop offset="0.1719" stop-color="#646464"/><stop offset="0.1768" stop-color="#717171"/><stop offset="0.1846" stop-color="#cecece"/><stop offset="0.1865" stop-color="#dadada"/><stop offset="0.1895" stop-color="#e1e1e1"/><stop offset="0.2031" stop-color="#e4e4e4"/><stop offset="0.2295" stop-color="#c7c7c7"/><stop offset="0.2979" stop-color="#a6a6a6"/><stop offset="0.4414" stop-color="#a7a7a7"/><stop offset="0.4453" stop-color="#b1b1b1"/><stop offset="0.4521" stop-color="#d7d7d7"/><stop offset="0.457" stop-color="#dddddd"/><stop offset="0.4658" stop-color="#dbdbdb"/><stop offset="0.4756" stop-color="#acacac"/><stop offset="0.4785" stop-color="#a6a6a6"/><stop offset="0.5215" stop-color="#a7a7a7"/><stop offset="0.5352" stop-color="#bbbbbb"/><stop offset="0.541" stop-color="#bababa"/><stop offset="0.5518" stop-color="#a7a7a7"/><stop offset="0.5791" stop-color="#a6a6a6"/><stop offset="0.584" stop-color="#afafaf"/><stop offset="0.5928" stop-color="#d8d8d8"/><stop offset="0.5996" stop-color="#dbdbdb"/><stop offset="0.6074" stop-color="#c1c1c1"/><stop offset="0.6143" stop-color="#d1d1d1"/><stop offset="0.6182" stop-color="#cfcfcf"/><stop offset="0.625" stop-color="#a3a3a3"/><stop offset="0.6289" stop-color="#b8b8b8"/><stop offset="0.6357" stop-color="#c8c8c8"/><stop offset="0.7285" stop-color="#d0d0d0"/><stop offset="0.752" stop-color="#e6e6e6"/><stop offset="0.7617" stop-color="#d9d9d9"/><stop offset="0.7695" stop-color="#e6e6e6"/><stop offset="0.7998" stop-color="#e7e7e7"/><stop offset="0.8057" stop-color="#dadada"/><stop offset="0.8086" stop-color="#bebebe"/><stop offset="0.8135" stop-color="#737373"/><stop offset="0.8184" stop-color="#5f5f5f"/><stop offset="0.8525" stop-color="#616161"/><stop offset="0.8564" stop-color="#747474"/><stop offset="0.8613" stop-color="#ababab"/><stop offset="0.8633" stop-color="#b5b5b5"/><stop offset="0.8838" stop-color="#b8b8b8"/><stop offset="0.8896" stop-color="#a9a9a9"/><stop offset="0.8916" stop-color="#9a9a9a"/><stop offset="0.8945" stop-color="#6f6f6f"/><stop offset="0.8975" stop-color="#616161"/><stop offset="0.9268" stop-color="#5e5e5e"/><stop offset="0.9297" stop-color="#626262"/><stop offset="0.9326" stop-color="#727272"/><stop offset="0.9385" stop-color="#c3c3c3"/><stop offset="0.9424" stop-color="#dcdcdc"/><stop offset="1" stop-color="#e4e4e4"/></linearGradient><linearGradient id="g35" gradientUnits="userSpaceOnUse" x1="0" x2="820.7" y1="0" y2="0"><stop offset="0" stop-color="#f7f7f7"/><stop offset="0.1416" stop-color="#f7f7f7"/><stop offset="0.1426" stop-color="#ededed"/><stop offset="0.1465" stop-color="#9d9d9d"/><stop offset="0.1494" stop-color="#828282"/><stop offset="0.1533" stop-color="#757575"/><stop offset="0.1729" stop-color="#676767"/><stop offset="0.1768" stop-color="#727272"/><stop offset="0.1846" stop-color="#cecece"/><stop offset="0.1875" stop-color="#dedede"/><stop offset="0.2275" stop-color="#e4e4e4"/><stop offset="0.2432" stop-color="#f7f7f7"/><stop offset="0.2979" stop-color="#e0e0e0"/><stop offset="0.4404" stop-color="#e0e0e0"/><stop offset="0.4434" stop-color="#e3e3e3"/><stop offset="0.4473" stop-color="#f7f7f7"/><stop offset="0.4727" stop-color="#f7f7f7"/><stop offset="0.4756" stop-color="#e6e6e6"/><stop offset="0.4785" stop-color="#e0e0e0"/><stop offset="0.5215" stop-color="#e1e1e1"/><stop offset="0.5352" stop-color="#f5f5f5"/><stop offset="0.541" stop-color="#f4f4f4"/><stop offset="0.5508" stop-color="#e1e1e1"/><stop offset="0.5791" stop-color="#e0e0e0"/><stop offset="0.5996" stop-color="#f3f3f3"/><stop offset="0.6074" stop-color="#d8d8d8"/><stop offset="0.6143" stop-color="#e9e9e9"/><stop offset="0.6182" stop-color="#e6e6e6"/><stop offset="0.625" stop-color="#bbbbbb"/><stop offset="0.626" stop-color="#c2c2c2"/><stop offset="0.6289" stop-color="#f2f2f2"/><stop offset="0.6309" stop-color="#f7f7f7"/><stop offset="0.7607" stop-color="#f7f7f7"/><stop offset="0.7627" stop-color="#f1f1f1"/><stop offset="0.7646" stop-color="#f7f7f7"/><stop offset="0.8047" stop-color="#f7f7f7"/><stop offset="0.8086" stop-color="#d4d4d4"/><stop offset="0.8135" stop-color="#737373"/><stop offset="0.8164" stop-color="#636363"/><stop offset="0.8193" stop-color="#5e5e5e"/><stop offset="0.8525" stop-color="#616161"/><stop offset="0.8574" stop-color="#7d7d7d"/><stop offset="0.8623" stop-color="#c9c9c9"/><stop offset="0.8662" stop-color="#cfcfcf"/><stop offset="0.8848" stop-color="#cfcfcf"/><stop offset="0.8887" stop-color="#c6c6c6"/><stop offset="0.8916" stop-color="#b0b0b0"/><stop offset="0.8945" stop-color="#717171"/><stop offset="0.8975" stop-color="#616161"/><stop offset="0.9277" stop-color="#5f5f5f"/><stop offset="0.9326" stop-color="#727272"/><stop offset="0.9375" stop-color="#c9c9c9"/><stop offset="0.9404" stop-color="#e5e5e5"/><stop offset="0.9424" stop-color="#eeeeee"/><stop offset="1" stop-color="#f6f6f6"/></linearGradient><linearGradient id="g36" gradientUnits="userSpaceOnUse" x1="0" x2="820.7" y1="0" y2="0"><stop offset="0" stop-color="#252525"/><stop offset="0.041" stop-color="#242424"/><stop offset="0.0469" stop-color="#151515"/><stop offset="0.0508" stop-color="#232323"/><stop offset="0.0537" stop-color="#252525"/><stop offset="0.0684" stop-color="#242424"/><stop offset="0.0732" stop-color="#171717"/><stop offset="0.0791" stop-color="#242424"/><stop offset="0.0996" stop-color="#252525"/><stop offset="0.1055" stop-color="#191919"/><stop offset="0.1104" stop-color="#242424"/><stop offset="0.125" stop-color="#252525"/><stop offset="0.1318" stop-color="#171717"/><stop offset="0.1406" stop-color="#252525"/><stop offset="0.1562" stop-color="#242424"/><stop offset="0.1611" stop-color="#191919"/><stop offset="0.167" stop-color="#252525"/><stop offset="0.1982" stop-color="#252525"/><stop offset="0.2051" stop-color="#191919"/><stop offset="0.2139" stop-color="#252525"/><stop offset="0.2578" stop-color="#252525"/><stop offset="0.2637" stop-color="#191919"/><stop offset="0.2705" stop-color="#252525"/><stop offset="0.3066" stop-color="#252525"/><stop offset="0.3125" stop-color="#191919"/><stop offset="0.3184" stop-color="#252525"/><stop offset="0.3467" stop-color="#242424"/><stop offset="0.3516" stop-color="#191919"/><stop offset="0.3574" stop-color="#252525"/><stop offset="0.3828" stop-color="#252525"/><stop offset="0.3906" stop-color="#191919"/><stop offset="0.3975" stop-color="#242424"/><stop offset="0.4277" stop-color="#252525"/><stop offset="0.4355" stop-color="#212121"/><stop offset="0.4443" stop-color="#121212"/><stop offset="0.4541" stop-color="#222222"/><stop offset="0.4619" stop-color="#252525"/><stop offset="0.71" stop-color="#252525"/><stop offset="0.7178" stop-color="#171717"/><stop offset="0.7266" stop-color="#252525"/><stop offset="1" stop-color="#252525"/></linearGradient><linearGradient id="g37" gradientUnits="userSpaceOnUse" x1="0" x2="820.7" y1="0" y2="0"><stop offset="0" stop-color="#606060"/><stop offset="0.041" stop-color="#5f5f5f"/><stop offset="0.043" stop-color="#555555"/><stop offset="0.0459" stop-color="#272727"/><stop offset="0.0469" stop-color="#232323"/><stop offset="0.0508" stop-color="#595959"/><stop offset="0.0537" stop-color="#606060"/><stop offset="0.0684" stop-color="#5e5e5e"/><stop offset="0.0703" stop-color="#525252"/><stop offset="0.0732" stop-color="#2c2c2c"/><stop offset="0.0742" stop-color="#2f2f2f"/><stop offset="0.0771" stop-color="#575757"/><stop offset="0.0791" stop-color="#5f5f5f"/><stop offset="0.0996" stop-color="#5f5f5f"/><stop offset="0.1016" stop-color="#585858"/><stop offset="0.1045" stop-color="#373737"/><stop offset="0.1055" stop-color="#343434"/><stop offset="0.1084" stop-color="#545454"/><stop offset="0.1104" stop-color="#5e5e5e"/><stop offset="0.125" stop-color="#5f5f5f"/><stop offset="0.1279" stop-color="#535353"/><stop offset="0.1318" stop-color="#2c2c2c"/><stop offset="0.1328" stop-color="#2e2e2e"/><stop offset="0.1367" stop-color="#575757"/><stop offset="0.1406" stop-color="#606060"/><stop offset="0.1562" stop-color="#5e5e5e"/><stop offset="0.1582" stop-color="#545454"/><stop offset="0.1611" stop-color="#343434"/><stop offset="0.1621" stop-color="#373737"/><stop offset="0.165" stop-color="#585858"/><stop offset="0.167" stop-color="#5f5f5f"/><stop offset="0.1982" stop-color="#5f5f5f"/><stop offset="0.2012" stop-color="#555555"/><stop offset="0.2051" stop-color="#343434"/><stop offset="0.2061" stop-color="#363636"/><stop offset="0.21" stop-color="#585858"/><stop offset="0.2139" stop-color="#606060"/><stop offset="0.2578" stop-color="#5f5f5f"/><stop offset="0.2607" stop-color="#545454"/><stop offset="0.2637" stop-color="#343434"/><stop offset="0.2646" stop-color="#373737"/><stop offset="0.2676" stop-color="#585858"/><stop offset="0.2705" stop-color="#5f5f5f"/><stop offset="0.3066" stop-color="#5f5f5f"/><stop offset="0.3096" stop-color="#545454"/><stop offset="0.3125" stop-color="#343434"/><stop offset="0.3135" stop-color="#373737"/><stop offset="0.3164" stop-color="#585858"/><stop offset="0.3184" stop-color="#5f5f5f"/><stop offset="0.3467" stop-color="#5e5e5e"/><stop offset="0.3486" stop-color="#545454"/><stop offset="0.3516" stop-color="#343434"/><stop offset="0.3525" stop-color="#373737"/><stop offset="0.3555" stop-color="#585858"/><stop offset="0.3574" stop-color="#5f5f5f"/><stop offset="0.3828" stop-color="#5f5f5f"/><stop offset="0.3857" stop-color="#5b5b5b"/><stop offset="0.3906" stop-color="#343434"/><stop offset="0.3916" stop-color="#363636"/><stop offset="0.3955" stop-color="#585858"/><stop offset="0.3975" stop-color="#5e5e5e"/><stop offset="0.4277" stop-color="#5f5f5f"/><stop offset="0.4355" stop-color="#535353"/><stop offset="0.4424" stop-color="#212121"/><stop offset="0.4443" stop-color="#1a1a1a"/><stop offset="0.4473" stop-color="#242424"/><stop offset="0.4541" stop-color="#555555"/><stop offset="0.4619" stop-color="#5f5f5f"/><stop offset="0.71" stop-color="#5f5f5f"/><stop offset="0.7129" stop-color="#5a5a5a"/><stop offset="0.7178" stop-color="#2c2c2c"/><stop offset="0.7188" stop-color="#2e2e2e"/><stop offset="0.7227" stop-color="#575757"/><stop offset="0.7266" stop-color="#606060"/><stop offset="1" stop-color="#606060"/></linearGradient><linearGradient id="g38" gradientUnits="userSpaceOnUse" x1="0" x2="820.7" y1="0" y2="0"><stop offset="0" stop-color="#acacac"/><stop offset="0.041" stop-color="#aaaaaa"/><stop offset="0.043" stop-color="#989898"/><stop offset="0.0459" stop-color="#3d3d3d"/><stop offset="0.0469" stop-color="#363636"/><stop offset="0.0479" stop-color="#4a4a4a"/><stop offset="0.0498" stop-color="#8c8c8c"/><stop offset="0.0508" stop-color="#a0a0a0"/><stop offset="0.0537" stop-color="#acacac"/><stop offset="0.0684" stop-color="#a9a9a9"/><stop offset="0.0703" stop-color="#919191"/><stop offset="0.0723" stop-color="#585858"/><stop offset="0.0732" stop-color="#474747"/><stop offset="0.0742" stop-color="#4d4d4d"/><stop offset="0.0771" stop-color="#9b9b9b"/><stop offset="0.0791" stop-color="#ababab"/><stop offset="0.0996" stop-color="#ababab"/><stop offset="0.1016" stop-color="#9e9e9e"/><stop offset="0.1045" stop-color="#5d5d5d"/><stop offset="0.1055" stop-color="#585858"/><stop offset="0.1064" stop-color="#666666"/><stop offset="0.1084" stop-color="#969696"/><stop offset="0.1104" stop-color="#aaaaaa"/><stop offset="0.125" stop-color="#ababab"/><stop offset="0.127" stop-color="#a1a1a1"/><stop offset="0.1279" stop-color="#949494"/><stop offset="0.1309" stop-color="#525252"/><stop offset="0.1318" stop-color="#474747"/><stop offset="0.1328" stop-color="#4b4b4b"/><stop offset="0.1367" stop-color="#9c9c9c"/><stop offset="0.1387" stop-color="#aaaaaa"/><stop offset="0.1406" stop-color="#acacac"/><stop offset="0.1562" stop-color="#aaaaaa"/><stop offset="0.1582" stop-color="#969696"/><stop offset="0.1602" stop-color="#666666"/><stop offset="0.1611" stop-color="#585858"/><stop offset="0.1621" stop-color="#5d5d5d"/><stop offset="0.165" stop-color="#9e9e9e"/><stop offset="0.167" stop-color="#ababab"/><stop offset="0.1982" stop-color="#ababab"/><stop offset="0.2012" stop-color="#989898"/><stop offset="0.2041" stop-color="#616161"/><stop offset="0.2051" stop-color="#585858"/><stop offset="0.2061" stop-color="#5b5b5b"/><stop offset="0.21" stop-color="#9e9e9e"/><stop offset="0.2139" stop-color="#acacac"/><stop offset="0.2578" stop-color="#acacac"/><stop offset="0.2598" stop-color="#a3a3a3"/><stop offset="0.2607" stop-color="#969696"/><stop offset="0.2627" stop-color="#666666"/><stop offset="0.2637" stop-color="#585858"/><stop offset="0.2646" stop-color="#5d5d5d"/><stop offset="0.2676" stop-color="#9e9e9e"/><stop offset="0.2705" stop-color="#acacac"/><stop offset="0.3066" stop-color="#acacac"/><stop offset="0.3086" stop-color="#a3a3a3"/><stop offset="0.3096" stop-color="#969696"/><stop offset="0.3115" stop-color="#666666"/><stop offset="0.3125" stop-color="#585858"/><stop offset="0.3135" stop-color="#5d5d5d"/><stop offset="0.3164" stop-color="#9e9e9e"/><stop offset="0.3184" stop-color="#ababab"/><stop offset="0.3467" stop-color="#aaaaaa"/><stop offset="0.3486" stop-color="#969696"/><stop offset="0.3506" stop-color="#666666"/><stop offset="0.3516" stop-color="#585858"/><stop offset="0.3525" stop-color="#5d5d5d"/><stop offset="0.3555" stop-color="#9e9e9e"/><stop offset="0.3574" stop-color="#ababab"/><stop offset="0.3828" stop-color="#acacac"/><stop offset="0.3857" stop-color="#a3a3a3"/><stop offset="0.3867" stop-color="#989898"/><stop offset="0.3896" stop-color="#616161"/><stop offset="0.3906" stop-color="#585858"/><stop offset="0.3916" stop-color="#5b5b5b"/><stop offset="0.3955" stop-color="#9e9e9e"/><stop offset="0.3975" stop-color="#aaaaaa"/><stop offset="0.4277" stop-color="#acacac"/><stop offset="0.4326" stop-color="#a6a6a6"/><stop offset="0.4355" stop-color="#949494"/><stop offset="0.4375" stop-color="#7d7d7d"/><stop offset="0.4424" stop-color="#313131"/><stop offset="0.4443" stop-color="#242424"/><stop offset="0.4473" stop-color="#373737"/><stop offset="0.4512" stop-color="#767676"/><stop offset="0.4541" stop-color="#989898"/><stop offset="0.457" stop-color="#a7a7a7"/><stop offset="0.4619" stop-color="#acacac"/><stop offset="0.71" stop-color="#acacac"/><stop offset="0.7129" stop-color="#a1a1a1"/><stop offset="0.7139" stop-color="#949494"/><stop offset="0.7168" stop-color="#525252"/><stop offset="0.7178" stop-color="#474747"/><stop offset="0.7188" stop-color="#4b4b4b"/><stop offset="0.7227" stop-color="#9c9c9c"/><stop offset="0.7246" stop-color="#aaaaaa"/><stop offset="0.7266" stop-color="#acacac"/><stop offset="1" stop-color="#acacac"/></linearGradient><linearGradient id="g39" gradientUnits="userSpaceOnUse" x1="0" x2="820.7" y1="0" y2="0"><stop offset="0" stop-color="#c2c2c2"/><stop offset="0.041" stop-color="#c0c0c0"/><stop offset="0.043" stop-color="#aaaaaa"/><stop offset="0.0459" stop-color="#434343"/><stop offset="0.0469" stop-color="#3b3b3b"/><stop offset="0.0479" stop-color="#525252"/><stop offset="0.0498" stop-color="#9e9e9e"/><stop offset="0.0508" stop-color="#b4b4b4"/><stop offset="0.0518" stop-color="#bdbdbd"/><stop offset="0.0537" stop-color="#c2c2c2"/><stop offset="0.0684" stop-color="#bebebe"/><stop offset="0.0693" stop-color="#b6b6b6"/><stop offset="0.0703" stop-color="#a3a3a3"/><stop offset="0.0723" stop-color="#626262"/><stop offset="0.0732" stop-color="#4e4e4e"/><stop offset="0.0742" stop-color="#555555"/><stop offset="0.0771" stop-color="#aeaeae"/><stop offset="0.0791" stop-color="#c0c0c0"/><stop offset="0.0996" stop-color="#c0c0c0"/><stop offset="0.1016" stop-color="#b1b1b1"/><stop offset="0.1045" stop-color="#676767"/><stop offset="0.1055" stop-color="#626262"/><stop offset="0.1064" stop-color="#727272"/><stop offset="0.1084" stop-color="#a8a8a8"/><stop offset="0.1104" stop-color="#bfbfbf"/><stop offset="0.125" stop-color="#c0c0c0"/><stop offset="0.127" stop-color="#b5b5b5"/><stop offset="0.1279" stop-color="#a6a6a6"/><stop offset="0.1309" stop-color="#5b5b5b"/><stop offset="0.1318" stop-color="#4e4e4e"/><stop offset="0.1328" stop-color="#535353"/><stop offset="0.1367" stop-color="#afafaf"/><stop offset="0.1387" stop-color="#bfbfbf"/><stop offset="0.1406" stop-color="#c2c2c2"/><stop offset="0.1562" stop-color="#bfbfbf"/><stop offset="0.1582" stop-color="#a8a8a8"/><stop offset="0.1602" stop-color="#727272"/><stop offset="0.1611" stop-color="#626262"/><stop offset="0.1621" stop-color="#676767"/><stop offset="0.165" stop-color="#b1b1b1"/><stop offset="0.167" stop-color="#c0c0c0"/><stop offset="0.1982" stop-color="#c0c0c0"/><stop offset="0.2012" stop-color="#ababab"/><stop offset="0.2041" stop-color="#6c6c6c"/><stop offset="0.2051" stop-color="#616161"/><stop offset="0.2061" stop-color="#656565"/><stop offset="0.21" stop-color="#b2b2b2"/><stop offset="0.2119" stop-color="#bfbfbf"/><stop offset="0.2139" stop-color="#c2c2c2"/><stop offset="0.2578" stop-color="#c1c1c1"/><stop offset="0.2598" stop-color="#b8b8b8"/><stop offset="0.2607" stop-color="#a8a8a8"/><stop offset="0.2627" stop-color="#727272"/><stop offset="0.2637" stop-color="#626262"/><stop offset="0.2646" stop-color="#676767"/><stop offset="0.2676" stop-color="#b1b1b1"/><stop offset="0.2686" stop-color="#bcbcbc"/><stop offset="0.2705" stop-color="#c1c1c1"/><stop offset="0.3066" stop-color="#c1c1c1"/><stop offset="0.3086" stop-color="#b8b8b8"/><stop offset="0.3096" stop-color="#a8a8a8"/><stop offset="0.3115" stop-color="#727272"/><stop offset="0.3125" stop-color="#626262"/><stop offset="0.3135" stop-color="#676767"/><stop offset="0.3164" stop-color="#b1b1b1"/><stop offset="0.3184" stop-color="#c0c0c0"/><stop offset="0.3467" stop-color="#bfbfbf"/><stop offset="0.3486" stop-color="#a8a8a8"/><stop offset="0.3506" stop-color="#727272"/><stop offset="0.3516" stop-color="#626262"/><stop offset="0.3525" stop-color="#676767"/><stop offset="0.3555" stop-color="#b1b1b1"/><stop offset="0.3574" stop-color="#c0c0c0"/><stop offset="0.3828" stop-color="#c1c1c1"/><stop offset="0.3857" stop-color="#b7b7b7"/><stop offset="0.3867" stop-color="#ababab"/><stop offset="0.3896" stop-color="#6c6c6c"/><stop offset="0.3906" stop-color="#616161"/><stop offset="0.3916" stop-color="#656565"/><stop offset="0.3955" stop-color="#b2b2b2"/><stop offset="0.3975" stop-color="#bfbfbf"/><stop offset="0.4277" stop-color="#c1c1c1"/><stop offset="0.4326" stop-color="#bababa"/><stop offset="0.4355" stop-color="#a6a6a6"/><stop offset="0.4375" stop-color="#8c8c8c"/><stop offset="0.4424" stop-color="#363636"/><stop offset="0.4443" stop-color="#272727"/><stop offset="0.4453" stop-color="#282828"/><stop offset="0.4473" stop-color="#3d3d3d"/><stop offset="0.4512" stop-color="#838383"/><stop offset="0.4541" stop-color="#ababab"/><stop offset="0.457" stop-color="#bcbcbc"/><stop offset="0.4619" stop-color="#c2c2c2"/><stop offset="0.71" stop-color="#c1c1c1"/><stop offset="0.7129" stop-color="#b5b5b5"/><stop offset="0.7139" stop-color="#a6a6a6"/><stop offset="0.7168" stop-color="#5b5b5b"/><stop offset="0.7178" stop-color="#4e4e4e"/><stop offset="0.7188" stop-color="#535353"/><stop offset="0.7227" stop-color="#afafaf"/><stop offset="0.7246" stop-color="#bfbfbf"/><stop offset="0.7266" stop-color="#c2c2c2"/><stop offset="1" stop-color="#c2c2c2"/></linearGradient><linearGradient id="g40" gradientUnits="userSpaceOnUse" x1="0" x2="820.7" y1="0" y2="0"><stop offset="0" stop-color="#2a2a2a"/><stop offset="0.041" stop-color="#2a2a2a"/><stop offset="0.0469" stop-color="#131313"/><stop offset="0.0508" stop-color="#282828"/><stop offset="0.0537" stop-color="#2a2a2a"/><stop offset="0.0684" stop-color="#292929"/><stop offset="0.0732" stop-color="#191919"/><stop offset="0.0791" stop-color="#2a2a2a"/><stop offset="0.0996" stop-color="#2a2a2a"/><stop offset="0.1055" stop-color="#1c1c1c"/><stop offset="0.1104" stop-color="#292929"/><stop offset="0.125" stop-color="#2a2a2a"/><stop offset="0.1318" stop-color="#161616"/><stop offset="0.1367" stop-color="#272727"/><stop offset="0.1406" stop-color="#2a2a2a"/><stop offset="0.1562" stop-color="#292929"/><stop offset="0.1611" stop-color="#1c1c1c"/><stop offset="0.167" stop-color="#2a2a2a"/><stop offset="0.1982" stop-color="#2a2a2a"/><stop offset="0.2051" stop-color="#1c1c1c"/><stop offset="0.2129" stop-color="#2a2a2a"/><stop offset="0.2578" stop-color="#2a2a2a"/><stop offset="0.2637" stop-color="#1c1c1c"/><stop offset="0.2695" stop-color="#2a2a2a"/><stop offset="0.3057" stop-color="#2a2a2a"/><stop offset="0.3086" stop-color="#282828"/><stop offset="0.3125" stop-color="#191919"/><stop offset="0.3193" stop-color="#2a2a2a"/><stop offset="0.3467" stop-color="#292929"/><stop offset="0.3516" stop-color="#1c1c1c"/><stop offset="0.3574" stop-color="#2a2a2a"/><stop offset="0.3838" stop-color="#2a2a2a"/><stop offset="0.3906" stop-color="#1c1c1c"/><stop offset="0.3975" stop-color="#2a2a2a"/><stop offset="0.4277" stop-color="#2a2a2a"/><stop offset="0.4355" stop-color="#252525"/><stop offset="0.4443" stop-color="#101010"/><stop offset="0.4541" stop-color="#262626"/><stop offset="0.4619" stop-color="#2a2a2a"/><stop offset="0.71" stop-color="#2a2a2a"/><stop offset="0.7129" stop-color="#282828"/><stop offset="0.7178" stop-color="#161616"/><stop offset="0.7227" stop-color="#272727"/><stop offset="0.7266" stop-color="#2a2a2a"/><stop offset="1" stop-color="#2a2a2a"/></linearGradient><linearGradient id="g41" gradientUnits="userSpaceOnUse" x1="0" x2="820.7" y1="0" y2="0"><stop offset="0" stop-color="#7e7e7e"/><stop offset="0.041" stop-color="#7d7d7d"/><stop offset="0.043" stop-color="#6e6e6e"/><stop offset="0.0459" stop-color="#262626"/><stop offset="0.0469" stop-color="#202020"/><stop offset="0.0479" stop-color="#303030"/><stop offset="0.0498" stop-color="#656565"/><stop offset="0.0508" stop-color="#747474"/><stop offset="0.0537" stop-color="#7e7e7e"/><stop offset="0.0684" stop-color="#7c7c7c"/><stop offset="0.0703" stop-color="#6b6b6b"/><stop offset="0.0723" stop-color="#444444"/><stop offset="0.0732" stop-color="#383838"/><stop offset="0.0742" stop-color="#3c3c3c"/><stop offset="0.0771" stop-color="#727272"/><stop offset="0.0791" stop-color="#7d7d7d"/><stop offset="0.0996" stop-color="#7d7d7d"/><stop offset="0.1016" stop-color="#747474"/><stop offset="0.1045" stop-color="#474747"/><stop offset="0.1055" stop-color="#434343"/><stop offset="0.1084" stop-color="#6e6e6e"/><stop offset="0.1104" stop-color="#7c7c7c"/><stop offset="0.125" stop-color="#7d7d7d"/><stop offset="0.1279" stop-color="#6b6b6b"/><stop offset="0.1309" stop-color="#353535"/><stop offset="0.1318" stop-color="#2c2c2c"/><stop offset="0.1328" stop-color="#2f2f2f"/><stop offset="0.1367" stop-color="#717171"/><stop offset="0.1406" stop-color="#7e7e7e"/><stop offset="0.1562" stop-color="#7c7c7c"/><stop offset="0.1582" stop-color="#6e6e6e"/><stop offset="0.1611" stop-color="#434343"/><stop offset="0.1621" stop-color="#474747"/><stop offset="0.165" stop-color="#747474"/><stop offset="0.167" stop-color="#7d7d7d"/><stop offset="0.1982" stop-color="#7d7d7d"/><stop offset="0.2012" stop-color="#707070"/><stop offset="0.2051" stop-color="#434343"/><stop offset="0.2061" stop-color="#464646"/><stop offset="0.21" stop-color="#747474"/><stop offset="0.2129" stop-color="#7e7e7e"/><stop offset="0.2578" stop-color="#7e7e7e"/><stop offset="0.2607" stop-color="#6e6e6e"/><stop offset="0.2637" stop-color="#434343"/><stop offset="0.2646" stop-color="#474747"/><stop offset="0.2676" stop-color="#747474"/><stop offset="0.2695" stop-color="#7d7d7d"/><stop offset="0.3057" stop-color="#7e7e7e"/><stop offset="0.3086" stop-color="#777777"/><stop offset="0.3125" stop-color="#383838"/><stop offset="0.3135" stop-color="#3c3c3c"/><stop offset="0.3164" stop-color="#727272"/><stop offset="0.3193" stop-color="#7e7e7e"/><stop offset="0.3467" stop-color="#7c7c7c"/><stop offset="0.3486" stop-color="#6e6e6e"/><stop offset="0.3516" stop-color="#434343"/><stop offset="0.3525" stop-color="#474747"/><stop offset="0.3555" stop-color="#747474"/><stop offset="0.3574" stop-color="#7d7d7d"/><stop offset="0.3838" stop-color="#7d7d7d"/><stop offset="0.3867" stop-color="#707070"/><stop offset="0.3906" stop-color="#434343"/><stop offset="0.3916" stop-color="#464646"/><stop offset="0.3955" stop-color="#747474"/><stop offset="0.3975" stop-color="#7d7d7d"/><stop offset="0.4277" stop-color="#7e7e7e"/><stop offset="0.4326" stop-color="#797979"/><stop offset="0.4355" stop-color="#6b6b6b"/><stop offset="0.4424" stop-color="#1e1e1e"/><stop offset="0.4443" stop-color="#141414"/><stop offset="0.4473" stop-color="#222222"/><stop offset="0.4512" stop-color="#535353"/><stop offset="0.4541" stop-color="#6e6e6e"/><stop offset="0.457" stop-color="#7a7a7a"/><stop offset="0.4619" stop-color="#7e7e7e"/><stop offset="0.71" stop-color="#7e7e7e"/><stop offset="0.7129" stop-color="#757575"/><stop offset="0.7139" stop-color="#6b6b6b"/><stop offset="0.7168" stop-color="#353535"/><stop offset="0.7178" stop-color="#2c2c2c"/><stop offset="0.7188" stop-color="#2f2f2f"/><stop offset="0.7227" stop-color="#717171"/><stop offset="0.7266" stop-color="#7e7e7e"/><stop offset="1" stop-color="#7e7e7e"/></linearGradient><linearGradient id="g42" gradientUnits="userSpaceOnUse" x1="0" x2="820.7" y1="0" y2="0"><stop offset="0" stop-color="#ededed"/><stop offset="0.041" stop-color="#eaeaea"/><stop offset="0.042" stop-color="#e2e2e2"/><stop offset="0.043" stop-color="#cccccc"/><stop offset="0.0439" stop-color="#a3a3a3"/><stop offset="0.0459" stop-color="#3c3c3c"/><stop offset="0.0469" stop-color="#313131"/><stop offset="0.0479" stop-color="#515151"/><stop offset="0.0498" stop-color="#bababa"/><stop offset="0.0508" stop-color="#d9d9d9"/><stop offset="0.0518" stop-color="#e7e7e7"/><stop offset="0.0537" stop-color="#ededed"/><stop offset="0.0684" stop-color="#e9e9e9"/><stop offset="0.0693" stop-color="#dedede"/><stop offset="0.0703" stop-color="#c7c7c7"/><stop offset="0.0723" stop-color="#787878"/><stop offset="0.0732" stop-color="#606060"/><stop offset="0.0742" stop-color="#696969"/><stop offset="0.0762" stop-color="#b6b6b6"/><stop offset="0.0771" stop-color="#d5d5d5"/><stop offset="0.0791" stop-color="#ebebeb"/><stop offset="0.0996" stop-color="#ebebeb"/><stop offset="0.1016" stop-color="#d9d9d9"/><stop offset="0.1045" stop-color="#7f7f7f"/><stop offset="0.1055" stop-color="#777777"/><stop offset="0.1064" stop-color="#8c8c8c"/><stop offset="0.1084" stop-color="#cdcdcd"/><stop offset="0.1094" stop-color="#e1e1e1"/><stop offset="0.1104" stop-color="#e9e9e9"/><stop offset="0.125" stop-color="#ebebeb"/><stop offset="0.127" stop-color="#dbdbdb"/><stop offset="0.1279" stop-color="#c6c6c6"/><stop offset="0.1309" stop-color="#5b5b5b"/><stop offset="0.1318" stop-color="#484848"/><stop offset="0.1328" stop-color="#4e4e4e"/><stop offset="0.1338" stop-color="#6b6b6b"/><stop offset="0.1357" stop-color="#b7b7b7"/><stop offset="0.1367" stop-color="#d2d2d2"/><stop offset="0.1387" stop-color="#e9e9e9"/><stop offset="0.1406" stop-color="#ededed"/><stop offset="0.1562" stop-color="#e9e9e9"/><stop offset="0.1572" stop-color="#e1e1e1"/><stop offset="0.1582" stop-color="#cdcdcd"/><stop offset="0.1602" stop-color="#8c8c8c"/><stop offset="0.1611" stop-color="#777777"/><stop offset="0.1621" stop-color="#7f7f7f"/><stop offset="0.165" stop-color="#d9d9d9"/><stop offset="0.167" stop-color="#ebebeb"/><stop offset="0.1982" stop-color="#ebebeb"/><stop offset="0.2002" stop-color="#e0e0e0"/><stop offset="0.2012" stop-color="#d1d1d1"/><stop offset="0.2041" stop-color="#858585"/><stop offset="0.2051" stop-color="#777777"/><stop offset="0.2061" stop-color="#7c7c7c"/><stop offset="0.21" stop-color="#dadada"/><stop offset="0.2129" stop-color="#ececec"/><stop offset="0.2578" stop-color="#ececec"/><stop offset="0.2598" stop-color="#e1e1e1"/><stop offset="0.2607" stop-color="#cdcdcd"/><stop offset="0.2627" stop-color="#8c8c8c"/><stop offset="0.2637" stop-color="#777777"/><stop offset="0.2646" stop-color="#7f7f7f"/><stop offset="0.2676" stop-color="#d9d9d9"/><stop offset="0.2695" stop-color="#ebebeb"/><stop offset="0.3057" stop-color="#ededed"/><stop offset="0.3076" stop-color="#e9e9e9"/><stop offset="0.3086" stop-color="#dedede"/><stop offset="0.3096" stop-color="#c7c7c7"/><stop offset="0.3115" stop-color="#787878"/><stop offset="0.3125" stop-color="#606060"/><stop offset="0.3135" stop-color="#696969"/><stop offset="0.3154" stop-color="#b6b6b6"/><stop offset="0.3164" stop-color="#d5d5d5"/><stop offset="0.3174" stop-color="#e5e5e5"/><stop offset="0.3193" stop-color="#ededed"/><stop offset="0.3467" stop-color="#e9e9e9"/><stop offset="0.3477" stop-color="#e1e1e1"/><stop offset="0.3486" stop-color="#cdcdcd"/><stop offset="0.3506" stop-color="#8c8c8c"/><stop offset="0.3516" stop-color="#777777"/><stop offset="0.3525" stop-color="#7f7f7f"/><stop offset="0.3555" stop-color="#d9d9d9"/><stop offset="0.3574" stop-color="#ebebeb"/><stop offset="0.3838" stop-color="#ebebeb"/><stop offset="0.3857" stop-color="#e0e0e0"/><stop offset="0.3867" stop-color="#d1d1d1"/><stop offset="0.3896" stop-color="#858585"/><stop offset="0.3906" stop-color="#777777"/><stop offset="0.3916" stop-color="#7c7c7c"/><stop offset="0.3955" stop-color="#dadada"/><stop offset="0.3975" stop-color="#eaeaea"/><stop offset="0.4277" stop-color="#ededed"/><stop offset="0.4326" stop-color="#e3e3e3"/><stop offset="0.4355" stop-color="#c7c7c7"/><stop offset="0.4375" stop-color="#a3a3a3"/><stop offset="0.4424" stop-color="#2c2c2c"/><stop offset="0.4443" stop-color="#181818"/><stop offset="0.4453" stop-color="#1a1a1a"/><stop offset="0.4473" stop-color="#363636"/><stop offset="0.4512" stop-color="#979797"/><stop offset="0.4541" stop-color="#cdcdcd"/><stop offset="0.457" stop-color="#e5e5e5"/><stop offset="0.4619" stop-color="#ededed"/><stop offset="0.71" stop-color="#ececec"/><stop offset="0.7119" stop-color="#e6e6e6"/><stop offset="0.7129" stop-color="#dbdbdb"/><stop offset="0.7139" stop-color="#c6c6c6"/><stop offset="0.7168" stop-color="#5b5b5b"/><stop offset="0.7178" stop-color="#484848"/><stop offset="0.7188" stop-color="#4e4e4e"/><stop offset="0.7197" stop-color="#6b6b6b"/><stop offset="0.7217" stop-color="#b7b7b7"/><stop offset="0.7227" stop-color="#d2d2d2"/><stop offset="0.7246" stop-color="#e9e9e9"/><stop offset="0.7266" stop-color="#ededed"/><stop offset="1" stop-color="#ededed"/></linearGradient><linearGradient id="g43" gradientUnits="userSpaceOnUse" x1="0" x2="820.7" y1="0" y2="0"><stop offset="0" stop-color="#343434"/><stop offset="0.0234" stop-color="#363636"/><stop offset="0.0264" stop-color="#3e3e3e"/><stop offset="0.0303" stop-color="#5b5b5b"/><stop offset="0.0322" stop-color="#646464"/><stop offset="0.0342" stop-color="#5e5e5e"/><stop offset="0.0381" stop-color="#414141"/><stop offset="0.04" stop-color="#3b3b3b"/><stop offset="0.042" stop-color="#3e3e3e"/><stop offset="0.0479" stop-color="#5e5e5e"/><stop offset="0.0498" stop-color="#595959"/><stop offset="0.0547" stop-color="#3b3b3b"/><stop offset="0.0605" stop-color="#343434"/><stop offset="0.1309" stop-color="#353535"/><stop offset="0.1338" stop-color="#3a3a3a"/><stop offset="0.1387" stop-color="#565656"/><stop offset="0.1406" stop-color="#5a5a5a"/><stop offset="0.1426" stop-color="#535353"/><stop offset="0.1465" stop-color="#3c3c3c"/><stop offset="0.1494" stop-color="#353535"/><stop offset="0.1758" stop-color="#353535"/><stop offset="0.1807" stop-color="#3e3e3e"/><stop offset="0.1855" stop-color="#5b5b5b"/><stop offset="0.1875" stop-color="#616161"/><stop offset="0.1895" stop-color="#5d5d5d"/><stop offset="0.1943" stop-color="#414141"/><stop offset="0.1963" stop-color="#393939"/><stop offset="0.2031" stop-color="#343434"/><stop offset="0.2266" stop-color="#363636"/><stop offset="0.2295" stop-color="#3d3d3d"/><stop offset="0.2344" stop-color="#555555"/><stop offset="0.2363" stop-color="#5a5a5a"/><stop offset="0.2383" stop-color="#575757"/><stop offset="0.2451" stop-color="#393939"/><stop offset="0.251" stop-color="#343434"/><stop offset="0.3232" stop-color="#353535"/><stop offset="0.3281" stop-color="#3b3b3b"/><stop offset="0.334" stop-color="#505050"/><stop offset="0.3369" stop-color="#545454"/><stop offset="0.3457" stop-color="#3a3a3a"/><stop offset="0.3535" stop-color="#343434"/><stop offset="0.4229" stop-color="#353535"/><stop offset="0.4268" stop-color="#383838"/><stop offset="0.4326" stop-color="#474747"/><stop offset="0.4395" stop-color="#373737"/><stop offset="0.4434" stop-color="#343434"/><stop offset="0.5225" stop-color="#343434"/><stop offset="0.5273" stop-color="#383838"/><stop offset="0.5352" stop-color="#474747"/><stop offset="0.543" stop-color="#373737"/><stop offset="0.5488" stop-color="#343434"/><stop offset="0.6289" stop-color="#353535"/><stop offset="0.6328" stop-color="#383838"/><stop offset="0.6387" stop-color="#474747"/><stop offset="0.6455" stop-color="#373737"/><stop offset="0.6504" stop-color="#343434"/><stop offset="1" stop-color="#343434"/></linearGradient><linearGradient id="g44" gradientUnits="userSpaceOnUse" x1="0" x2="820.7" y1="0" y2="0"><stop offset="0" stop-color="#343434"/><stop offset="0.2607" stop-color="#343434"/><stop offset="0.2666" stop-color="#3a3a3a"/><stop offset="0.2725" stop-color="#575757"/><stop offset="0.2744" stop-color="#5a5a5a"/><stop offset="0.2764" stop-color="#555555"/><stop offset="0.2812" stop-color="#3c3c3c"/><stop offset="0.2852" stop-color="#353535"/><stop offset="0.3379" stop-color="#353535"/><stop offset="0.3428" stop-color="#3b3b3b"/><stop offset="0.3457" stop-color="#484848"/><stop offset="0.3486" stop-color="#636363"/><stop offset="0.3535" stop-color="#9b9b9b"/><stop offset="0.3555" stop-color="#a6a6a6"/><stop offset="0.3564" stop-color="#a7a7a7"/><stop offset="0.3594" stop-color="#969696"/><stop offset="0.3652" stop-color="#555555"/><stop offset="0.3682" stop-color="#464646"/><stop offset="0.3711" stop-color="#4f4f4f"/><stop offset="0.377" stop-color="#8e8e8e"/><stop offset="0.3789" stop-color="#969696"/><stop offset="0.3809" stop-color="#909090"/><stop offset="0.3848" stop-color="#7a7a7a"/><stop offset="0.3867" stop-color="#7b7b7b"/><stop offset="0.3896" stop-color="#868686"/><stop offset="0.3916" stop-color="#858585"/><stop offset="0.3936" stop-color="#787878"/><stop offset="0.3984" stop-color="#4c4c4c"/><stop offset="0.4014" stop-color="#474747"/><stop offset="0.4043" stop-color="#575757"/><stop offset="0.4102" stop-color="#959595"/><stop offset="0.4131" stop-color="#a1a1a1"/><stop offset="0.416" stop-color="#919191"/><stop offset="0.4209" stop-color="#5b5b5b"/><stop offset="0.4238" stop-color="#444444"/><stop offset="0.4277" stop-color="#373737"/><stop offset="0.4326" stop-color="#343434"/><stop offset="0.9199" stop-color="#353535"/><stop offset="0.9238" stop-color="#373737"/><stop offset="0.9268" stop-color="#424242"/><stop offset="0.9287" stop-color="#515151"/><stop offset="0.9336" stop-color="#818181"/><stop offset="0.9355" stop-color="#878787"/><stop offset="0.9375" stop-color="#7e7e7e"/><stop offset="0.9434" stop-color="#454545"/><stop offset="0.9473" stop-color="#373737"/><stop offset="1" stop-color="#343434"/></linearGradient><linearGradient id="g45" gradientUnits="userSpaceOnUse" x1="0" x2="820.7" y1="0" y2="0"><stop offset="0" stop-color="#494949"/><stop offset="0.0557" stop-color="#494949"/><stop offset="0.0635" stop-color="#343434"/><stop offset="0.0723" stop-color="#494949"/><stop offset="0.1494" stop-color="#484848"/><stop offset="0.1611" stop-color="#363636"/><stop offset="0.1729" stop-color="#484848"/><stop offset="0.2627" stop-color="#484848"/><stop offset="0.2666" stop-color="#4c4c4c"/><stop offset="0.2744" stop-color="#666666"/><stop offset="0.2812" stop-color="#4e4e4e"/><stop offset="0.2852" stop-color="#484848"/><stop offset="0.3389" stop-color="#404040"/><stop offset="0.3457" stop-color="#4e4e4e"/><stop offset="0.3486" stop-color="#636363"/><stop offset="0.3535" stop-color="#9b9b9b"/><stop offset="0.3564" stop-color="#a7a7a7"/><stop offset="0.3594" stop-color="#969696"/><stop offset="0.3643" stop-color="#5f5f5f"/><stop offset="0.3682" stop-color="#4d4d4d"/><stop offset="0.3721" stop-color="#5a5a5a"/><stop offset="0.377" stop-color="#8e8e8e"/><stop offset="0.3789" stop-color="#969696"/><stop offset="0.3848" stop-color="#7a7a7a"/><stop offset="0.3916" stop-color="#858585"/><stop offset="0.3975" stop-color="#565656"/><stop offset="0.4014" stop-color="#4d4d4d"/><stop offset="0.4053" stop-color="#626262"/><stop offset="0.4102" stop-color="#959595"/><stop offset="0.4131" stop-color="#a1a1a1"/><stop offset="0.415" stop-color="#999999"/><stop offset="0.4199" stop-color="#676767"/><stop offset="0.4229" stop-color="#535353"/><stop offset="0.4297" stop-color="#454545"/><stop offset="0.5996" stop-color="#484848"/><stop offset="0.6064" stop-color="#454545"/><stop offset="0.6143" stop-color="#343434"/><stop offset="0.6318" stop-color="#484848"/><stop offset="0.918" stop-color="#484848"/><stop offset="0.9258" stop-color="#424242"/><stop offset="0.9277" stop-color="#484848"/><stop offset="0.9336" stop-color="#838383"/><stop offset="0.9355" stop-color="#8a8a8a"/><stop offset="0.9375" stop-color="#838383"/><stop offset="0.9434" stop-color="#565656"/><stop offset="0.9473" stop-color="#4a4a4a"/><stop offset="1" stop-color="#484848"/></linearGradient><linearGradient id="g46" gradientUnits="userSpaceOnUse" x1="0" x2="820.7" y1="0" y2="0"><stop offset="0" stop-color="#747474"/><stop offset="0.0557" stop-color="#717171"/><stop offset="0.0586" stop-color="#646464"/><stop offset="0.0625" stop-color="#363636"/><stop offset="0.0635" stop-color="#343434"/><stop offset="0.0654" stop-color="#3b3b3b"/><stop offset="0.0693" stop-color="#686868"/><stop offset="0.0742" stop-color="#727272"/><stop offset="0.1504" stop-color="#707070"/><stop offset="0.1543" stop-color="#666666"/><stop offset="0.1611" stop-color="#3a3a3a"/><stop offset="0.1631" stop-color="#3f3f3f"/><stop offset="0.1689" stop-color="#686868"/><stop offset="0.1748" stop-color="#707070"/><stop offset="0.2627" stop-color="#6f6f6f"/><stop offset="0.2744" stop-color="#7d7d7d"/><stop offset="0.2832" stop-color="#6f6f6f"/><stop offset="0.3418" stop-color="#545454"/><stop offset="0.3486" stop-color="#656565"/><stop offset="0.3535" stop-color="#9b9b9b"/><stop offset="0.3564" stop-color="#a7a7a7"/><stop offset="0.3594" stop-color="#969696"/><stop offset="0.3633" stop-color="#686868"/><stop offset="0.3682" stop-color="#595959"/><stop offset="0.373" stop-color="#646464"/><stop offset="0.377" stop-color="#8e8e8e"/><stop offset="0.3789" stop-color="#969696"/><stop offset="0.3848" stop-color="#7a7a7a"/><stop offset="0.3916" stop-color="#858585"/><stop offset="0.3965" stop-color="#616161"/><stop offset="0.4023" stop-color="#5b5b5b"/><stop offset="0.4053" stop-color="#646464"/><stop offset="0.4102" stop-color="#959595"/><stop offset="0.4131" stop-color="#a1a1a1"/><stop offset="0.416" stop-color="#919191"/><stop offset="0.4189" stop-color="#707070"/><stop offset="0.4248" stop-color="#636363"/><stop offset="0.4404" stop-color="#717171"/><stop offset="0.5996" stop-color="#707070"/><stop offset="0.6064" stop-color="#656565"/><stop offset="0.6143" stop-color="#343434"/><stop offset="0.6172" stop-color="#343434"/><stop offset="0.625" stop-color="#676767"/><stop offset="0.6318" stop-color="#707070"/><stop offset="0.918" stop-color="#717171"/><stop offset="0.9219" stop-color="#6b6b6b"/><stop offset="0.9268" stop-color="#444444"/><stop offset="0.9287" stop-color="#515151"/><stop offset="0.9336" stop-color="#878787"/><stop offset="0.9355" stop-color="#909090"/><stop offset="0.9473" stop-color="#727272"/><stop offset="1" stop-color="#717171"/></linearGradient><linearGradient id="g47" gradientUnits="userSpaceOnUse" x1="0" x2="820.7" y1="0" y2="0"><stop offset="0" stop-color="#9e9e9e"/><stop offset="0.0557" stop-color="#9a9a9a"/><stop offset="0.0586" stop-color="#848484"/><stop offset="0.0625" stop-color="#383838"/><stop offset="0.0635" stop-color="#343434"/><stop offset="0.0645" stop-color="#343434"/><stop offset="0.0654" stop-color="#404040"/><stop offset="0.0693" stop-color="#8a8a8a"/><stop offset="0.0713" stop-color="#989898"/><stop offset="0.0742" stop-color="#9b9b9b"/><stop offset="0.1504" stop-color="#979797"/><stop offset="0.1543" stop-color="#878787"/><stop offset="0.1592" stop-color="#4a4a4a"/><stop offset="0.1611" stop-color="#3d3d3d"/><stop offset="0.1631" stop-color="#454545"/><stop offset="0.1689" stop-color="#8a8a8a"/><stop offset="0.1748" stop-color="#989898"/><stop offset="0.293" stop-color="#949494"/><stop offset="0.3418" stop-color="#666666"/><stop offset="0.3486" stop-color="#666666"/><stop offset="0.3535" stop-color="#9b9b9b"/><stop offset="0.3564" stop-color="#a7a7a7"/><stop offset="0.3584" stop-color="#9f9f9f"/><stop offset="0.3633" stop-color="#686868"/><stop offset="0.3643" stop-color="#666666"/><stop offset="0.373" stop-color="#666666"/><stop offset="0.377" stop-color="#8e8e8e"/><stop offset="0.3789" stop-color="#969696"/><stop offset="0.3848" stop-color="#7a7a7a"/><stop offset="0.3916" stop-color="#858585"/><stop offset="0.3955" stop-color="#666666"/><stop offset="0.4053" stop-color="#666666"/><stop offset="0.4102" stop-color="#959595"/><stop offset="0.4131" stop-color="#a1a1a1"/><stop offset="0.416" stop-color="#919191"/><stop offset="0.4189" stop-color="#707070"/><stop offset="0.4199" stop-color="#707070"/><stop offset="0.4404" stop-color="#999999"/><stop offset="0.5986" stop-color="#999999"/><stop offset="0.6035" stop-color="#949494"/><stop offset="0.6064" stop-color="#868686"/><stop offset="0.6123" stop-color="#424242"/><stop offset="0.6143" stop-color="#343434"/><stop offset="0.6172" stop-color="#343434"/><stop offset="0.625" stop-color="#898989"/><stop offset="0.6279" stop-color="#959595"/><stop offset="0.6318" stop-color="#999999"/><stop offset="0.918" stop-color="#999999"/><stop offset="0.9219" stop-color="#8f8f8f"/><stop offset="0.9238" stop-color="#777777"/><stop offset="0.9268" stop-color="#454545"/><stop offset="0.9297" stop-color="#5a5a5a"/><stop offset="0.9336" stop-color="#8a8a8a"/><stop offset="0.9365" stop-color="#989898"/><stop offset="1" stop-color="#999999"/></linearGradient><linearGradient id="g48" gradientUnits="userSpaceOnUse" x1="0" x2="820.7" y1="0" y2="0"><stop offset="0" stop-color="#646464"/><stop offset="0.0195" stop-color="#626262"/><stop offset="0.0215" stop-color="#5c5c5c"/><stop offset="0.0254" stop-color="#3b3b3b"/><stop offset="0.0273" stop-color="#343434"/><stop offset="0.0322" stop-color="#595959"/><stop offset="0.0361" stop-color="#636363"/><stop offset="0.1299" stop-color="#636363"/><stop offset="0.1348" stop-color="#595959"/><stop offset="0.1396" stop-color="#353535"/><stop offset="0.1436" stop-color="#343434"/><stop offset="0.1494" stop-color="#5b5b5b"/><stop offset="0.1533" stop-color="#636363"/><stop offset="0.2627" stop-color="#646464"/><stop offset="0.2666" stop-color="#686868"/><stop offset="0.2744" stop-color="#808080"/><stop offset="0.2832" stop-color="#656565"/><stop offset="0.3066" stop-color="#5f5f5f"/><stop offset="0.3096" stop-color="#555555"/><stop offset="0.3145" stop-color="#373737"/><stop offset="0.3193" stop-color="#343434"/><stop offset="0.3281" stop-color="#5e5e5e"/><stop offset="0.3447" stop-color="#6e6e6e"/><stop offset="0.3477" stop-color="#7e7e7e"/><stop offset="0.3535" stop-color="#b0b0b0"/><stop offset="0.3564" stop-color="#b9b9b9"/><stop offset="0.3594" stop-color="#acacac"/><stop offset="0.3652" stop-color="#7b7b7b"/><stop offset="0.3682" stop-color="#717171"/><stop offset="0.3711" stop-color="#777777"/><stop offset="0.377" stop-color="#a6a6a6"/><stop offset="0.3789" stop-color="#acacac"/><stop offset="0.3848" stop-color="#979797"/><stop offset="0.3916" stop-color="#9f9f9f"/><stop offset="0.3984" stop-color="#747474"/><stop offset="0.4014" stop-color="#717171"/><stop offset="0.4043" stop-color="#7d7d7d"/><stop offset="0.4102" stop-color="#ababab"/><stop offset="0.4131" stop-color="#b4b4b4"/><stop offset="0.416" stop-color="#a8a8a8"/><stop offset="0.4229" stop-color="#747474"/><stop offset="0.4287" stop-color="#646464"/><stop offset="0.6055" stop-color="#626262"/><stop offset="0.6113" stop-color="#595959"/><stop offset="0.6182" stop-color="#343434"/><stop offset="0.623" stop-color="#353535"/><stop offset="0.6309" stop-color="#5d5d5d"/><stop offset="0.6387" stop-color="#626262"/><stop offset="0.915" stop-color="#626262"/><stop offset="0.9199" stop-color="#5d5d5d"/><stop offset="0.9258" stop-color="#404040"/><stop offset="0.9287" stop-color="#515151"/><stop offset="0.9346" stop-color="#949494"/><stop offset="0.9365" stop-color="#999999"/><stop offset="0.9395" stop-color="#858585"/><stop offset="0.9453" stop-color="#444444"/><stop offset="0.9473" stop-color="#3b3b3b"/><stop offset="0.9492" stop-color="#3d3d3d"/><stop offset="0.9551" stop-color="#5c5c5c"/><stop offset="0.958" stop-color="#616161"/><stop offset="1" stop-color="#626262"/></linearGradient><linearGradient id="g49" gradientUnits="userSpaceOnUse" x1="0" x2="820.7" y1="0" y2="0"><stop offset="0" stop-color="#f2f2f2"/><stop offset="0.0166" stop-color="#f2f2f2"/><stop offset="0.0195" stop-color="#ebebeb"/><stop offset="0.0215" stop-color="#d3d3d3"/><stop offset="0.0225" stop-color="#bbbbbb"/><stop offset="0.0254" stop-color="#4f4f4f"/><stop offset="0.0264" stop-color="#363636"/><stop offset="0.0273" stop-color="#343434"/><stop offset="0.0283" stop-color="#414141"/><stop offset="0.0312" stop-color="#ababab"/><stop offset="0.0332" stop-color="#dcdcdc"/><stop offset="0.0352" stop-color="#eeeeee"/><stop offset="0.0381" stop-color="#f2f2f2"/><stop offset="0.1299" stop-color="#efefef"/><stop offset="0.1328" stop-color="#e2e2e2"/><stop offset="0.1348" stop-color="#c7c7c7"/><stop offset="0.1367" stop-color="#959595"/><stop offset="0.1396" stop-color="#383838"/><stop offset="0.1406" stop-color="#343434"/><stop offset="0.1436" stop-color="#343434"/><stop offset="0.1445" stop-color="#464646"/><stop offset="0.1484" stop-color="#bdbdbd"/><stop offset="0.1504" stop-color="#dddddd"/><stop offset="0.1523" stop-color="#ebebeb"/><stop offset="0.1562" stop-color="#f1f1f1"/><stop offset="0.3027" stop-color="#eeeeee"/><stop offset="0.3057" stop-color="#e5e5e5"/><stop offset="0.3086" stop-color="#c9c9c9"/><stop offset="0.3105" stop-color="#a4a4a4"/><stop offset="0.3145" stop-color="#414141"/><stop offset="0.3154" stop-color="#343434"/><stop offset="0.3203" stop-color="#363636"/><stop offset="0.3242" stop-color="#999999"/><stop offset="0.3271" stop-color="#d0d0d0"/><stop offset="0.3301" stop-color="#e7e7e7"/><stop offset="0.335" stop-color="#efefef"/><stop offset="0.6045" stop-color="#ededed"/><stop offset="0.6084" stop-color="#e3e3e3"/><stop offset="0.6113" stop-color="#c7c7c7"/><stop offset="0.6133" stop-color="#a3a3a3"/><stop offset="0.6172" stop-color="#404040"/><stop offset="0.6182" stop-color="#343434"/><stop offset="0.623" stop-color="#363636"/><stop offset="0.627" stop-color="#989898"/><stop offset="0.6299" stop-color="#cecece"/><stop offset="0.6328" stop-color="#e5e5e5"/><stop offset="0.6367" stop-color="#ededed"/><stop offset="0.915" stop-color="#eaeaea"/><stop offset="0.9189" stop-color="#dedede"/><stop offset="0.9209" stop-color="#c7c7c7"/><stop offset="0.9229" stop-color="#9c9c9c"/><stop offset="0.9258" stop-color="#4b4b4b"/><stop offset="0.9268" stop-color="#424242"/><stop offset="0.9316" stop-color="#727272"/><stop offset="0.9346" stop-color="#bdbdbd"/><stop offset="0.9355" stop-color="#cdcdcd"/><stop offset="0.9375" stop-color="#dcdcdc"/><stop offset="0.9395" stop-color="#d5d5d5"/><stop offset="0.9404" stop-color="#cacaca"/><stop offset="0.9424" stop-color="#a5a5a5"/><stop offset="0.9453" stop-color="#5f5f5f"/><stop offset="0.9473" stop-color="#474747"/><stop offset="0.9492" stop-color="#565656"/><stop offset="0.9541" stop-color="#c3c3c3"/><stop offset="0.9561" stop-color="#dcdcdc"/><stop offset="0.958" stop-color="#e6e6e6"/><stop offset="1" stop-color="#ebebeb"/></linearGradient><linearGradient id="g50" gradientUnits="userSpaceOnUse" x1="0" x2="820.7" y1="0" y2="0"><stop offset="0" stop-color="#8b8b8b"/><stop offset="0.0098" stop-color="#717171"/><stop offset="0.0146" stop-color="#6d6d6d"/><stop offset="0.1416" stop-color="#686868"/><stop offset="0.1445" stop-color="#6c6c6c"/><stop offset="0.1465" stop-color="#767676"/><stop offset="0.1523" stop-color="#b4b4b4"/><stop offset="0.1553" stop-color="#c8c8c8"/><stop offset="0.1641" stop-color="#e3e3e3"/><stop offset="0.2402" stop-color="#e5e5e5"/><stop offset="0.3125" stop-color="#a8a8a8"/><stop offset="0.335" stop-color="#a4a4a4"/><stop offset="0.3457" stop-color="#afafaf"/><stop offset="0.3496" stop-color="#a2a2a2"/><stop offset="0.3545" stop-color="#7e7e7e"/><stop offset="0.3564" stop-color="#757575"/><stop offset="0.3594" stop-color="#727272"/><stop offset="0.4277" stop-color="#6e6e6e"/><stop offset="0.4297" stop-color="#727272"/><stop offset="0.4326" stop-color="#868686"/><stop offset="0.4355" stop-color="#a9a9a9"/><stop offset="0.4375" stop-color="#b7b7b7"/><stop offset="0.4414" stop-color="#c1c1c1"/><stop offset="0.4443" stop-color="#bcbcbc"/><stop offset="0.4463" stop-color="#afafaf"/><stop offset="0.4502" stop-color="#848484"/><stop offset="0.4531" stop-color="#717171"/><stop offset="0.4551" stop-color="#6d6d6d"/><stop offset="0.4893" stop-color="#6d6d6d"/><stop offset="0.5029" stop-color="#838383"/><stop offset="0.5195" stop-color="#7e7e7e"/><stop offset="0.5273" stop-color="#666666"/><stop offset="0.5322" stop-color="#606060"/><stop offset="0.6484" stop-color="#5e5e5e"/><stop offset="0.6514" stop-color="#686868"/><stop offset="0.6572" stop-color="#a7a7a7"/><stop offset="0.6592" stop-color="#aaaaaa"/><stop offset="0.6611" stop-color="#9c9c9c"/><stop offset="0.665" stop-color="#737373"/><stop offset="0.668" stop-color="#666666"/><stop offset="0.7773" stop-color="#6b6b6b"/><stop offset="0.7832" stop-color="#727272"/><stop offset="0.7959" stop-color="#959595"/><stop offset="0.8203" stop-color="#969696"/><stop offset="0.8252" stop-color="#8d8d8d"/><stop offset="0.8311" stop-color="#676767"/><stop offset="0.833" stop-color="#606060"/><stop offset="0.8418" stop-color="#5c5c5c"/><stop offset="0.8457" stop-color="#636363"/><stop offset="0.8516" stop-color="#7c7c7c"/><stop offset="0.8555" stop-color="#828282"/><stop offset="0.8848" stop-color="#828282"/><stop offset="0.8945" stop-color="#717171"/><stop offset="0.8975" stop-color="#707070"/><stop offset="0.9053" stop-color="#999999"/><stop offset="0.9092" stop-color="#a0a0a0"/><stop offset="0.9316" stop-color="#9e9e9e"/><stop offset="0.9346" stop-color="#939393"/><stop offset="0.9404" stop-color="#6e6e6e"/><stop offset="0.9453" stop-color="#666666"/><stop offset="1" stop-color="#666666"/></linearGradient><linearGradient id="g51" gradientUnits="userSpaceOnUse" x1="0" x2="820.7" y1="0" y2="0"><stop offset="0" stop-color="#8a8a8a"/><stop offset="0.0098" stop-color="#707070"/><stop offset="0.0146" stop-color="#6b6b6b"/><stop offset="0.1416" stop-color="#676767"/><stop offset="0.1445" stop-color="#6b6b6b"/><stop offset="0.1465" stop-color="#757575"/><stop offset="0.1523" stop-color="#b3b3b3"/><stop offset="0.1553" stop-color="#c8c8c8"/><stop offset="0.1641" stop-color="#e3e3e3"/><stop offset="0.2402" stop-color="#e5e5e5"/><stop offset="0.3125" stop-color="#a6a6a6"/><stop offset="0.335" stop-color="#a1a1a1"/><stop offset="0.3457" stop-color="#acacac"/><stop offset="0.3496" stop-color="#9f9f9f"/><stop offset="0.3545" stop-color="#7b7b7b"/><stop offset="0.3564" stop-color="#737373"/><stop offset="0.3594" stop-color="#6f6f6f"/><stop offset="0.4277" stop-color="#6b6b6b"/><stop offset="0.4297" stop-color="#6f6f6f"/><stop offset="0.4326" stop-color="#838383"/><stop offset="0.4355" stop-color="#a6a6a6"/><stop offset="0.4375" stop-color="#b4b4b4"/><stop offset="0.4414" stop-color="#bfbfbf"/><stop offset="0.4443" stop-color="#b9b9b9"/><stop offset="0.4463" stop-color="#acacac"/><stop offset="0.4502" stop-color="#818181"/><stop offset="0.4531" stop-color="#6e6e6e"/><stop offset="0.4551" stop-color="#6a6a6a"/><stop offset="0.4893" stop-color="#6a6a6a"/><stop offset="0.5029" stop-color="#808080"/><stop offset="0.5195" stop-color="#7b7b7b"/><stop offset="0.5273" stop-color="#646464"/><stop offset="0.5322" stop-color="#5e5e5e"/><stop offset="0.6484" stop-color="#5b5b5b"/><stop offset="0.6514" stop-color="#656565"/><stop offset="0.6572" stop-color="#a4a4a4"/><stop offset="0.6592" stop-color="#a8a8a8"/><stop offset="0.6611" stop-color="#999999"/><stop offset="0.665" stop-color="#707070"/><stop offset="0.668" stop-color="#636363"/><stop offset="0.7773" stop-color="#686868"/><stop offset="0.7822" stop-color="#6d6d6d"/><stop offset="0.792" stop-color="#8d8d8d"/><stop offset="0.7959" stop-color="#949494"/><stop offset="0.8203" stop-color="#959595"/><stop offset="0.8252" stop-color="#8c8c8c"/><stop offset="0.8311" stop-color="#666666"/><stop offset="0.833" stop-color="#5e5e5e"/><stop offset="0.8418" stop-color="#5a5a5a"/><stop offset="0.8457" stop-color="#616161"/><stop offset="0.8506" stop-color="#777777"/><stop offset="0.8545" stop-color="#808080"/><stop offset="0.8848" stop-color="#808080"/><stop offset="0.8965" stop-color="#6e6e6e"/><stop offset="0.8994" stop-color="#757575"/><stop offset="0.9043" stop-color="#939393"/><stop offset="0.9072" stop-color="#9d9d9d"/><stop offset="0.9287" stop-color="#9f9f9f"/><stop offset="0.9336" stop-color="#979797"/><stop offset="0.9404" stop-color="#6b6b6b"/><stop offset="0.9443" stop-color="#626262"/><stop offset="1" stop-color="#616161"/></linearGradient><linearGradient id="g52" gradientUnits="userSpaceOnUse" x1="0" x2="820.7" y1="0" y2="0"><stop offset="0" stop-color="#8a8a8a"/><stop offset="0.0098" stop-color="#6f6f6f"/><stop offset="0.0146" stop-color="#6b6b6b"/><stop offset="0.1416" stop-color="#666666"/><stop offset="0.1445" stop-color="#6a6a6a"/><stop offset="0.1465" stop-color="#757575"/><stop offset="0.1523" stop-color="#b3b3b3"/><stop offset="0.1553" stop-color="#c8c8c8"/><stop offset="0.1641" stop-color="#e3e3e3"/><stop offset="0.2402" stop-color="#e5e5e5"/><stop offset="0.3125" stop-color="#a5a5a5"/><stop offset="0.335" stop-color="#a0a0a0"/><stop offset="0.3457" stop-color="#ababab"/><stop offset="0.3496" stop-color="#9e9e9e"/><stop offset="0.3545" stop-color="#7b7b7b"/><stop offset="0.3564" stop-color="#727272"/><stop offset="0.3594" stop-color="#6e6e6e"/><stop offset="0.4277" stop-color="#6a6a6a"/><stop offset="0.4297" stop-color="#6f6f6f"/><stop offset="0.4326" stop-color="#828282"/><stop offset="0.4355" stop-color="#a5a5a5"/><stop offset="0.4375" stop-color="#b4b4b4"/><stop offset="0.4414" stop-color="#bebebe"/><stop offset="0.4443" stop-color="#b9b9b9"/><stop offset="0.4463" stop-color="#ababab"/><stop offset="0.4502" stop-color="#808080"/><stop offset="0.4531" stop-color="#6e6e6e"/><stop offset="0.4551" stop-color="#6a6a6a"/><stop offset="0.4893" stop-color="#6a6a6a"/><stop offset="0.5029" stop-color="#808080"/><stop offset="0.5195" stop-color="#7b7b7b"/><stop offset="0.5273" stop-color="#636363"/><stop offset="0.5322" stop-color="#5d5d5d"/><stop offset="0.6484" stop-color="#5b5b5b"/><stop offset="0.6514" stop-color="#646464"/><stop offset="0.6572" stop-color="#a4a4a4"/><stop offset="0.6592" stop-color="#a7a7a7"/><stop offset="0.6611" stop-color="#989898"/><stop offset="0.665" stop-color="#707070"/><stop offset="0.668" stop-color="#626262"/><stop offset="0.7773" stop-color="#676767"/><stop offset="0.7822" stop-color="#6d6d6d"/><stop offset="0.792" stop-color="#8d8d8d"/><stop offset="0.7959" stop-color="#949494"/><stop offset="0.8203" stop-color="#949494"/><stop offset="0.8252" stop-color="#8c8c8c"/><stop offset="0.8311" stop-color="#656565"/><stop offset="0.833" stop-color="#5e5e5e"/><stop offset="0.8418" stop-color="#5a5a5a"/><stop offset="0.8457" stop-color="#616161"/><stop offset="0.8506" stop-color="#777777"/><stop offset="0.8545" stop-color="#7f7f7f"/><stop offset="0.8848" stop-color="#808080"/><stop offset="0.8965" stop-color="#6e6e6e"/><stop offset="0.8994" stop-color="#757575"/><stop offset="0.9043" stop-color="#939393"/><stop offset="0.9072" stop-color="#9d9d9d"/><stop offset="0.9287" stop-color="#9f9f9f"/><stop offset="0.9336" stop-color="#969696"/><stop offset="0.9404" stop-color="#6a6a6a"/><stop offset="0.9443" stop-color="#616161"/><stop offset="1" stop-color="#606060"/></linearGradient><linearGradient id="g53" gradientUnits="userSpaceOnUse" x1="0" x2="820.7" y1="0" y2="0"><stop offset="0" stop-color="#8a8a8a"/><stop offset="0.0098" stop-color="#6f6f6f"/><stop offset="0.0146" stop-color="#6b6b6b"/><stop offset="0.1416" stop-color="#666666"/><stop offset="0.1445" stop-color="#6a6a6a"/><stop offset="0.1465" stop-color="#747474"/><stop offset="0.1523" stop-color="#b3b3b3"/><stop offset="0.1553" stop-color="#c8c8c8"/><stop offset="0.1641" stop-color="#e3e3e3"/><stop offset="0.2402" stop-color="#e5e5e5"/><stop offset="0.3125" stop-color="#a5a5a5"/><stop offset="0.335" stop-color="#a0a0a0"/><stop offset="0.3457" stop-color="#ababab"/><stop offset="0.3496" stop-color="#9e9e9e"/><stop offset="0.3545" stop-color="#7a7a7a"/><stop offset="0.3564" stop-color="#717171"/><stop offset="0.3594" stop-color="#6e6e6e"/><stop offset="0.4277" stop-color="#6a6a6a"/><stop offset="0.4297" stop-color="#6e6e6e"/><stop offset="0.4326" stop-color="#828282"/><stop offset="0.4355" stop-color="#a5a5a5"/><stop offset="0.4375" stop-color="#b3b3b3"/><stop offset="0.4414" stop-color="#bdbdbd"/><stop offset="0.4443" stop-color="#b8b8b8"/><stop offset="0.4463" stop-color="#ababab"/><stop offset="0.4502" stop-color="#808080"/><stop offset="0.4531" stop-color="#6d6d6d"/><stop offset="0.4551" stop-color="#696969"/><stop offset="0.4893" stop-color="#696969"/><stop offset="0.5029" stop-color="#7f7f7f"/><stop offset="0.5195" stop-color="#7a7a7a"/><stop offset="0.5273" stop-color="#626262"/><stop offset="0.5322" stop-color="#5c5c5c"/><stop offset="0.6484" stop-color="#5a5a5a"/><stop offset="0.6514" stop-color="#646464"/><stop offset="0.6572" stop-color="#a3a3a3"/><stop offset="0.6592" stop-color="#a6a6a6"/><stop offset="0.6611" stop-color="#989898"/><stop offset="0.665" stop-color="#6f6f6f"/><stop offset="0.668" stop-color="#626262"/><stop offset="0.7773" stop-color="#676767"/><stop offset="0.7822" stop-color="#6c6c6c"/><stop offset="0.792" stop-color="#8c8c8c"/><stop offset="0.7959" stop-color="#939393"/><stop offset="0.8203" stop-color="#949494"/><stop offset="0.8252" stop-color="#8b8b8b"/><stop offset="0.8311" stop-color="#656565"/><stop offset="0.833" stop-color="#5e5e5e"/><stop offset="0.8418" stop-color="#5a5a5a"/><stop offset="0.8457" stop-color="#616161"/><stop offset="0.8506" stop-color="#777777"/><stop offset="0.8545" stop-color="#7f7f7f"/><stop offset="0.8848" stop-color="#808080"/><stop offset="0.8965" stop-color="#6e6e6e"/><stop offset="0.8994" stop-color="#757575"/><stop offset="0.9043" stop-color="#939393"/><stop offset="0.9072" stop-color="#9c9c9c"/><stop offset="0.9287" stop-color="#9e9e9e"/><stop offset="0.9336" stop-color="#969696"/><stop offset="0.9404" stop-color="#6a6a6a"/><stop offset="0.9443" stop-color="#606060"/><stop offset="1" stop-color="#606060"/></linearGradient><linearGradient id="g54" gradientUnits="userSpaceOnUse" x1="0" x2="820.7" y1="0" y2="0"><stop offset="0" stop-color="#898989"/><stop offset="0.0098" stop-color="#6f6f6f"/><stop offset="0.0146" stop-color="#6b6b6b"/><stop offset="0.1416" stop-color="#666666"/><stop offset="0.1445" stop-color="#6a6a6a"/><stop offset="0.1465" stop-color="#747474"/><stop offset="0.1523" stop-color="#b3b3b3"/><stop offset="0.1553" stop-color="#c8c8c8"/><stop offset="0.1641" stop-color="#e3e3e3"/><stop offset="0.2402" stop-color="#e5e5e5"/><stop offset="0.3125" stop-color="#a4a4a4"/><stop offset="0.335" stop-color="#a0a0a0"/><stop offset="0.3457" stop-color="#ababab"/><stop offset="0.3496" stop-color="#9d9d9d"/><stop offset="0.3545" stop-color="#7a7a7a"/><stop offset="0.3564" stop-color="#717171"/><stop offset="0.3594" stop-color="#6e6e6e"/><stop offset="0.4277" stop-color="#696969"/><stop offset="0.4297" stop-color="#6e6e6e"/><stop offset="0.4326" stop-color="#828282"/><stop offset="0.4355" stop-color="#a4a4a4"/><stop offset="0.4375" stop-color="#b3b3b3"/><stop offset="0.4414" stop-color="#bdbdbd"/><stop offset="0.4443" stop-color="#b8b8b8"/><stop offset="0.4463" stop-color="#aaaaaa"/><stop offset="0.4502" stop-color="#808080"/><stop offset="0.4531" stop-color="#6d6d6d"/><stop offset="0.4551" stop-color="#696969"/><stop offset="0.4893" stop-color="#696969"/><stop offset="0.5029" stop-color="#7f7f7f"/><stop offset="0.5195" stop-color="#7a7a7a"/><stop offset="0.5273" stop-color="#626262"/><stop offset="0.5322" stop-color="#5c5c5c"/><stop offset="0.6484" stop-color="#5a5a5a"/><stop offset="0.6514" stop-color="#646464"/><stop offset="0.6572" stop-color="#a3a3a3"/><stop offset="0.6592" stop-color="#a6a6a6"/><stop offset="0.6611" stop-color="#989898"/><stop offset="0.665" stop-color="#6f6f6f"/><stop offset="0.668" stop-color="#616161"/><stop offset="0.7773" stop-color="#666666"/><stop offset="0.7822" stop-color="#6c6c6c"/><stop offset="0.792" stop-color="#8c8c8c"/><stop offset="0.7959" stop-color="#939393"/><stop offset="0.8203" stop-color="#949494"/><stop offset="0.8252" stop-color="#8b8b8b"/><stop offset="0.8311" stop-color="#656565"/><stop offset="0.833" stop-color="#5d5d5d"/><stop offset="0.8418" stop-color="#5a5a5a"/><stop offset="0.8457" stop-color="#606060"/><stop offset="0.8506" stop-color="#777777"/><stop offset="0.8545" stop-color="#7f7f7f"/><stop offset="0.8848" stop-color="#808080"/><stop offset="0.8965" stop-color="#6d6d6d"/><stop offset="0.8994" stop-color="#757575"/><stop offset="0.9043" stop-color="#929292"/><stop offset="0.9072" stop-color="#9c9c9c"/><stop offset="0.9287" stop-color="#9e9e9e"/><stop offset="0.9336" stop-color="#969696"/><stop offset="0.9404" stop-color="#696969"/><stop offset="0.9443" stop-color="#606060"/><stop offset="1" stop-color="#5f5f5f"/></linearGradient><linearGradient id="g55" gradientUnits="userSpaceOnUse" x1="0" x2="820.7" y1="0" y2="0"><stop offset="0" stop-color="#898989"/><stop offset="0.0098" stop-color="#6f6f6f"/><stop offset="0.0146" stop-color="#6b6b6b"/><stop offset="0.1416" stop-color="#666666"/><stop offset="0.1445" stop-color="#6a6a6a"/><stop offset="0.1465" stop-color="#747474"/><stop offset="0.1523" stop-color="#b3b3b3"/><stop offset="0.1553" stop-color="#c8c8c8"/><stop offset="0.1641" stop-color="#e3e3e3"/><stop offset="0.2402" stop-color="#e5e5e5"/><stop offset="0.3125" stop-color="#a4a4a4"/><stop offset="0.335" stop-color="#a0a0a0"/><stop offset="0.3457" stop-color="#ababab"/><stop offset="0.3496" stop-color="#9e9e9e"/><stop offset="0.3545" stop-color="#7a7a7a"/><stop offset="0.3564" stop-color="#717171"/><stop offset="0.3594" stop-color="#6e6e6e"/><stop offset="0.4277" stop-color="#696969"/><stop offset="0.4297" stop-color="#6e6e6e"/><stop offset="0.4326" stop-color="#828282"/><stop offset="0.4355" stop-color="#a4a4a4"/><stop offset="0.4375" stop-color="#b3b3b3"/><stop offset="0.4414" stop-color="#bdbdbd"/><stop offset="0.4443" stop-color="#b8b8b8"/><stop offset="0.4463" stop-color="#aaaaaa"/><stop offset="0.4502" stop-color="#808080"/><stop offset="0.4531" stop-color="#6d6d6d"/><stop offset="0.4551" stop-color="#696969"/><stop offset="0.4893" stop-color="#696969"/><stop offset="0.5029" stop-color="#7f7f7f"/><stop offset="0.5195" stop-color="#7a7a7a"/><stop offset="0.5273" stop-color="#626262"/><stop offset="0.5322" stop-color="#5c5c5c"/><stop offset="0.6484" stop-color="#5a5a5a"/><stop offset="0.6514" stop-color="#646464"/><stop offset="0.6572" stop-color="#a3a3a3"/><stop offset="0.6592" stop-color="#a6a6a6"/><stop offset="0.6611" stop-color="#989898"/><stop offset="0.665" stop-color="#6f6f6f"/><stop offset="0.668" stop-color="#626262"/><stop offset="0.7773" stop-color="#666666"/><stop offset="0.7822" stop-color="#6c6c6c"/><stop offset="0.792" stop-color="#8c8c8c"/><stop offset="0.7959" stop-color="#939393"/><stop offset="0.8203" stop-color="#949494"/><stop offset="0.8252" stop-color="#8b8b8b"/><stop offset="0.8311" stop-color="#656565"/><stop offset="0.833" stop-color="#5e5e5e"/><stop offset="0.8418" stop-color="#5a5a5a"/><stop offset="0.8457" stop-color="#606060"/><stop offset="0.8506" stop-color="#777777"/><stop offset="0.8545" stop-color="#7f7f7f"/><stop offset="0.8848" stop-color="#808080"/><stop offset="0.8965" stop-color="#6e6e6e"/><stop offset="0.8994" stop-color="#757575"/><stop offset="0.9043" stop-color="#929292"/><stop offset="0.9072" stop-color="#9c9c9c"/><stop offset="0.9287" stop-color="#9e9e9e"/><stop offset="0.9336" stop-color="#969696"/><stop offset="0.9404" stop-color="#696969"/><stop offset="0.9443" stop-color="#606060"/><stop offset="1" stop-color="#5f5f5f"/></linearGradient><linearGradient id="g56" gradientUnits="userSpaceOnUse" x1="0" x2="820.7" y1="0" y2="0"><stop offset="0" stop-color="#8a8a8a"/><stop offset="0.0098" stop-color="#707070"/><stop offset="0.0146" stop-color="#6c6c6c"/><stop offset="0.1416" stop-color="#676767"/><stop offset="0.1445" stop-color="#6b6b6b"/><stop offset="0.1465" stop-color="#757575"/><stop offset="0.1523" stop-color="#b3b3b3"/><stop offset="0.1553" stop-color="#c8c8c8"/><stop offset="0.1641" stop-color="#e3e3e3"/><stop offset="0.2402" stop-color="#e5e5e5"/><stop offset="0.3125" stop-color="#a6a6a6"/><stop offset="0.335" stop-color="#a2a2a2"/><stop offset="0.3457" stop-color="#adadad"/><stop offset="0.3496" stop-color="#9f9f9f"/><stop offset="0.3545" stop-color="#7c7c7c"/><stop offset="0.3564" stop-color="#737373"/><stop offset="0.3594" stop-color="#707070"/><stop offset="0.4277" stop-color="#6b6b6b"/><stop offset="0.4297" stop-color="#707070"/><stop offset="0.4326" stop-color="#848484"/><stop offset="0.4355" stop-color="#a6a6a6"/><stop offset="0.4375" stop-color="#b5b5b5"/><stop offset="0.4414" stop-color="#bfbfbf"/><stop offset="0.4443" stop-color="#bababa"/><stop offset="0.4463" stop-color="#acacac"/><stop offset="0.4502" stop-color="#828282"/><stop offset="0.4531" stop-color="#6f6f6f"/><stop offset="0.4551" stop-color="#6b6b6b"/><stop offset="0.4893" stop-color="#6b6b6b"/><stop offset="0.5029" stop-color="#818181"/><stop offset="0.5195" stop-color="#7c7c7c"/><stop offset="0.5273" stop-color="#646464"/><stop offset="0.5322" stop-color="#5e5e5e"/><stop offset="0.6484" stop-color="#5c5c5c"/><stop offset="0.6514" stop-color="#666666"/><stop offset="0.6572" stop-color="#a5a5a5"/><stop offset="0.6592" stop-color="#a8a8a8"/><stop offset="0.6611" stop-color="#9a9a9a"/><stop offset="0.665" stop-color="#717171"/><stop offset="0.668" stop-color="#636363"/><stop offset="0.7773" stop-color="#686868"/><stop offset="0.7822" stop-color="#6e6e6e"/><stop offset="0.792" stop-color="#8d8d8d"/><stop offset="0.7959" stop-color="#949494"/><stop offset="0.8203" stop-color="#959595"/><stop offset="0.8252" stop-color="#8c8c8c"/><stop offset="0.8311" stop-color="#666666"/><stop offset="0.833" stop-color="#5e5e5e"/><stop offset="0.8418" stop-color="#5b5b5b"/><stop offset="0.8457" stop-color="#616161"/><stop offset="0.8506" stop-color="#787878"/><stop offset="0.8545" stop-color="#808080"/><stop offset="0.8848" stop-color="#818181"/><stop offset="0.8965" stop-color="#6e6e6e"/><stop offset="0.8994" stop-color="#767676"/><stop offset="0.9043" stop-color="#939393"/><stop offset="0.9072" stop-color="#9d9d9d"/><stop offset="0.9287" stop-color="#9f9f9f"/><stop offset="0.9336" stop-color="#979797"/><stop offset="0.9404" stop-color="#6c6c6c"/><stop offset="0.9443" stop-color="#636363"/><stop offset="1" stop-color="#626262"/></linearGradient><linearGradient id="g57" gradientUnits="userSpaceOnUse" x1="0" x2="820.7" y1="0" y2="0"><stop offset="0" stop-color="#8b8b8b"/><stop offset="0.0098" stop-color="#717171"/><stop offset="0.0146" stop-color="#6c6c6c"/><stop offset="0.1416" stop-color="#686868"/><stop offset="0.1445" stop-color="#6c6c6c"/><stop offset="0.1465" stop-color="#767676"/><stop offset="0.1523" stop-color="#b4b4b4"/><stop offset="0.1553" stop-color="#c8c8c8"/><stop offset="0.1641" stop-color="#e3e3e3"/><stop offset="0.2402" stop-color="#e5e5e5"/><stop offset="0.3125" stop-color="#a8a8a8"/><stop offset="0.335" stop-color="#a3a3a3"/><stop offset="0.3457" stop-color="#afafaf"/><stop offset="0.3496" stop-color="#a1a1a1"/><stop offset="0.3545" stop-color="#7e7e7e"/><stop offset="0.3564" stop-color="#757575"/><stop offset="0.3594" stop-color="#727272"/><stop offset="0.4277" stop-color="#6d6d6d"/><stop offset="0.4297" stop-color="#727272"/><stop offset="0.4326" stop-color="#868686"/><stop offset="0.4355" stop-color="#a8a8a8"/><stop offset="0.4375" stop-color="#b7b7b7"/><stop offset="0.4414" stop-color="#c1c1c1"/><stop offset="0.4443" stop-color="#bcbcbc"/><stop offset="0.4463" stop-color="#aeaeae"/><stop offset="0.4502" stop-color="#848484"/><stop offset="0.4531" stop-color="#717171"/><stop offset="0.4551" stop-color="#6d6d6d"/><stop offset="0.4893" stop-color="#6d6d6d"/><stop offset="0.5029" stop-color="#838383"/><stop offset="0.5195" stop-color="#7e7e7e"/><stop offset="0.5273" stop-color="#666666"/><stop offset="0.5322" stop-color="#606060"/><stop offset="0.6484" stop-color="#5e5e5e"/><stop offset="0.6514" stop-color="#676767"/><stop offset="0.6572" stop-color="#a7a7a7"/><stop offset="0.6592" stop-color="#aaaaaa"/><stop offset="0.6611" stop-color="#9c9c9c"/><stop offset="0.665" stop-color="#737373"/><stop offset="0.668" stop-color="#656565"/><stop offset="0.7773" stop-color="#6a6a6a"/><stop offset="0.7832" stop-color="#727272"/><stop offset="0.7959" stop-color="#959595"/><stop offset="0.8203" stop-color="#969696"/><stop offset="0.8252" stop-color="#8d8d8d"/><stop offset="0.8311" stop-color="#676767"/><stop offset="0.833" stop-color="#5f5f5f"/><stop offset="0.8418" stop-color="#5c5c5c"/><stop offset="0.8457" stop-color="#626262"/><stop offset="0.8516" stop-color="#7c7c7c"/><stop offset="0.8555" stop-color="#828282"/><stop offset="0.8848" stop-color="#828282"/><stop offset="0.8945" stop-color="#707070"/><stop offset="0.8975" stop-color="#707070"/><stop offset="0.9053" stop-color="#999999"/><stop offset="0.9092" stop-color="#a0a0a0"/><stop offset="0.9316" stop-color="#9e9e9e"/><stop offset="0.9346" stop-color="#939393"/><stop offset="0.9404" stop-color="#6e6e6e"/><stop offset="0.9453" stop-color="#656565"/><stop offset="1" stop-color="#656565"/></linearGradient><linearGradient id="g58" gradientUnits="userSpaceOnUse" x1="0" x2="820.7" y1="0" y2="0"><stop offset="0" stop-color="#8d8d8d"/><stop offset="0.0098" stop-color="#737373"/><stop offset="0.0146" stop-color="#6f6f6f"/><stop offset="0.1416" stop-color="#6a6a6a"/><stop offset="0.1445" stop-color="#6e6e6e"/><stop offset="0.1465" stop-color="#787878"/><stop offset="0.1523" stop-color="#b5b5b5"/><stop offset="0.1553" stop-color="#c8c8c8"/><stop offset="0.1641" stop-color="#e3e3e3"/><stop offset="0.2402" stop-color="#e5e5e5"/><stop offset="0.3135" stop-color="#acacac"/><stop offset="0.335" stop-color="#a9a9a9"/><stop offset="0.3457" stop-color="#b4b4b4"/><stop offset="0.3496" stop-color="#a7a7a7"/><stop offset="0.3545" stop-color="#838383"/><stop offset="0.3564" stop-color="#7a7a7a"/><stop offset="0.3594" stop-color="#777777"/><stop offset="0.4277" stop-color="#727272"/><stop offset="0.4297" stop-color="#777777"/><stop offset="0.4326" stop-color="#8b8b8b"/><stop offset="0.4355" stop-color="#aeaeae"/><stop offset="0.4375" stop-color="#bcbcbc"/><stop offset="0.4414" stop-color="#c6c6c6"/><stop offset="0.4443" stop-color="#c1c1c1"/><stop offset="0.4463" stop-color="#b4b4b4"/><stop offset="0.4502" stop-color="#898989"/><stop offset="0.4531" stop-color="#767676"/><stop offset="0.4551" stop-color="#727272"/><stop offset="0.4893" stop-color="#727272"/><stop offset="0.5029" stop-color="#888888"/><stop offset="0.5195" stop-color="#838383"/><stop offset="0.5273" stop-color="#6b6b6b"/><stop offset="0.5322" stop-color="#656565"/><stop offset="0.6484" stop-color="#636363"/><stop offset="0.6514" stop-color="#6d6d6d"/><stop offset="0.6572" stop-color="#acacac"/><stop offset="0.6592" stop-color="#afafaf"/><stop offset="0.6611" stop-color="#a1a1a1"/><stop offset="0.665" stop-color="#787878"/><stop offset="0.668" stop-color="#6b6b6b"/><stop offset="0.7773" stop-color="#707070"/><stop offset="0.7832" stop-color="#777777"/><stop offset="0.7959" stop-color="#989898"/><stop offset="0.8203" stop-color="#999999"/><stop offset="0.8252" stop-color="#909090"/><stop offset="0.8311" stop-color="#696969"/><stop offset="0.833" stop-color="#626262"/><stop offset="0.8418" stop-color="#5e5e5e"/><stop offset="0.8457" stop-color="#656565"/><stop offset="0.8516" stop-color="#7f7f7f"/><stop offset="0.8555" stop-color="#848484"/><stop offset="0.8848" stop-color="#848484"/><stop offset="0.8945" stop-color="#737373"/><stop offset="0.8975" stop-color="#737373"/><stop offset="0.9053" stop-color="#9b9b9b"/><stop offset="0.9092" stop-color="#a3a3a3"/><stop offset="0.9316" stop-color="#a1a1a1"/><stop offset="0.9336" stop-color="#9b9b9b"/><stop offset="0.9404" stop-color="#747474"/><stop offset="0.9453" stop-color="#6e6e6e"/><stop offset="1" stop-color="#6e6e6e"/></linearGradient><linearGradient id="g59" gradientUnits="userSpaceOnUse" x1="0" x2="820.7" y1="0" y2="0"><stop offset="0" stop-color="#909090"/><stop offset="0.0098" stop-color="#757575"/><stop offset="0.0146" stop-color="#717171"/><stop offset="0.1416" stop-color="#6d6d6d"/><stop offset="0.1445" stop-color="#707070"/><stop offset="0.1465" stop-color="#7b7b7b"/><stop offset="0.1523" stop-color="#b6b6b6"/><stop offset="0.1553" stop-color="#c9c9c9"/><stop offset="0.1641" stop-color="#e3e3e3"/><stop offset="0.2393" stop-color="#e5e5e5"/><stop offset="0.3135" stop-color="#b2b2b2"/><stop offset="0.335" stop-color="#aeaeae"/><stop offset="0.3457" stop-color="#bababa"/><stop offset="0.3496" stop-color="#adadad"/><stop offset="0.3545" stop-color="#898989"/><stop offset="0.3564" stop-color="#818181"/><stop offset="0.3594" stop-color="#7d7d7d"/><stop offset="0.4277" stop-color="#797979"/><stop offset="0.4297" stop-color="#7d7d7d"/><stop offset="0.4326" stop-color="#919191"/><stop offset="0.4355" stop-color="#b4b4b4"/><stop offset="0.4375" stop-color="#c2c2c2"/><stop offset="0.4414" stop-color="#cccccc"/><stop offset="0.4443" stop-color="#c7c7c7"/><stop offset="0.4463" stop-color="#bababa"/><stop offset="0.4502" stop-color="#8f8f8f"/><stop offset="0.4531" stop-color="#7c7c7c"/><stop offset="0.4551" stop-color="#787878"/><stop offset="0.4893" stop-color="#787878"/><stop offset="0.5029" stop-color="#8e8e8e"/><stop offset="0.5195" stop-color="#898989"/><stop offset="0.5273" stop-color="#727272"/><stop offset="0.5322" stop-color="#6b6b6b"/><stop offset="0.6484" stop-color="#696969"/><stop offset="0.6514" stop-color="#737373"/><stop offset="0.6572" stop-color="#b2b2b2"/><stop offset="0.6592" stop-color="#b5b5b5"/><stop offset="0.6611" stop-color="#a7a7a7"/><stop offset="0.665" stop-color="#7e7e7e"/><stop offset="0.668" stop-color="#717171"/><stop offset="0.7773" stop-color="#767676"/><stop offset="0.7832" stop-color="#7c7c7c"/><stop offset="0.7959" stop-color="#9b9b9b"/><stop offset="0.8203" stop-color="#9c9c9c"/><stop offset="0.8252" stop-color="#939393"/><stop offset="0.8311" stop-color="#6d6d6d"/><stop offset="0.833" stop-color="#656565"/><stop offset="0.8418" stop-color="#616161"/><stop offset="0.8457" stop-color="#686868"/><stop offset="0.8516" stop-color="#828282"/><stop offset="0.8555" stop-color="#878787"/><stop offset="0.8848" stop-color="#878787"/><stop offset="0.8945" stop-color="#767676"/><stop offset="0.8975" stop-color="#767676"/><stop offset="0.9053" stop-color="#9e9e9e"/><stop offset="0.9092" stop-color="#a6a6a6"/><stop offset="0.9316" stop-color="#a4a4a4"/><stop offset="0.9336" stop-color="#9e9e9e"/><stop offset="0.9385" stop-color="#808080"/><stop offset="0.9404" stop-color="#7b7b7b"/><stop offset="1" stop-color="#797979"/></linearGradient><linearGradient id="g60" gradientUnits="userSpaceOnUse" x1="0" x2="820.7" y1="0" y2="0"><stop offset="0" stop-color="#929292"/><stop offset="0.0098" stop-color="#787878"/><stop offset="0.0146" stop-color="#747474"/><stop offset="0.1416" stop-color="#6f6f6f"/><stop offset="0.1445" stop-color="#737373"/><stop offset="0.1465" stop-color="#7d7d7d"/><stop offset="0.1523" stop-color="#b7b7b7"/><stop offset="0.1543" stop-color="#c4c4c4"/><stop offset="0.1641" stop-color="#e3e3e3"/><stop offset="0.2393" stop-color="#e5e5e5"/><stop offset="0.3145" stop-color="#b7b7b7"/><stop offset="0.335" stop-color="#b4b4b4"/><stop offset="0.3457" stop-color="#c0c0c0"/><stop offset="0.3496" stop-color="#b3b3b3"/><stop offset="0.3545" stop-color="#8f8f8f"/><stop offset="0.3564" stop-color="#878787"/><stop offset="0.3594" stop-color="#838383"/><stop offset="0.4277" stop-color="#7f7f7f"/><stop offset="0.4297" stop-color="#838383"/><stop offset="0.4326" stop-color="#979797"/><stop offset="0.4355" stop-color="#bababa"/><stop offset="0.4375" stop-color="#c8c8c8"/><stop offset="0.4414" stop-color="#d2d2d2"/><stop offset="0.4443" stop-color="#cdcdcd"/><stop offset="0.4463" stop-color="#c0c0c0"/><stop offset="0.4502" stop-color="#959595"/><stop offset="0.4531" stop-color="#828282"/><stop offset="0.4551" stop-color="#7e7e7e"/><stop offset="0.4893" stop-color="#7e7e7e"/><stop offset="0.5029" stop-color="#949494"/><stop offset="0.5195" stop-color="#8f8f8f"/><stop offset="0.5273" stop-color="#787878"/><stop offset="0.5322" stop-color="#717171"/><stop offset="0.6484" stop-color="#6f6f6f"/><stop offset="0.6514" stop-color="#797979"/><stop offset="0.6572" stop-color="#b8b8b8"/><stop offset="0.6592" stop-color="#bbbbbb"/><stop offset="0.6611" stop-color="#adadad"/><stop offset="0.665" stop-color="#848484"/><stop offset="0.668" stop-color="#777777"/><stop offset="0.7773" stop-color="#7c7c7c"/><stop offset="0.7842" stop-color="#848484"/><stop offset="0.7959" stop-color="#9e9e9e"/><stop offset="0.8203" stop-color="#9f9f9f"/><stop offset="0.8252" stop-color="#969696"/><stop offset="0.8311" stop-color="#707070"/><stop offset="0.833" stop-color="#686868"/><stop offset="0.8408" stop-color="#646464"/><stop offset="0.8447" stop-color="#696969"/><stop offset="0.8516" stop-color="#858585"/><stop offset="0.8555" stop-color="#8a8a8a"/><stop offset="0.8848" stop-color="#8a8a8a"/><stop offset="0.8945" stop-color="#797979"/><stop offset="0.8975" stop-color="#797979"/><stop offset="0.9053" stop-color="#a1a1a1"/><stop offset="0.9092" stop-color="#a9a9a9"/><stop offset="0.9316" stop-color="#a7a7a7"/><stop offset="0.9336" stop-color="#a1a1a1"/><stop offset="0.9375" stop-color="#878787"/><stop offset="0.9404" stop-color="#828282"/><stop offset="1" stop-color="#838383"/></linearGradient><linearGradient id="g61" gradientUnits="userSpaceOnUse" x1="0" x2="820.7" y1="0" y2="0"><stop offset="0" stop-color="#959595"/><stop offset="0.0098" stop-color="#7a7a7a"/><stop offset="0.0146" stop-color="#767676"/><stop offset="0.1416" stop-color="#727272"/><stop offset="0.1445" stop-color="#757575"/><stop offset="0.1465" stop-color="#808080"/><stop offset="0.1523" stop-color="#b8b8b8"/><stop offset="0.1543" stop-color="#c5c5c5"/><stop offset="0.1641" stop-color="#e3e3e3"/><stop offset="0.2393" stop-color="#e5e5e5"/><stop offset="0.293" stop-color="#cccccc"/><stop offset="0.3145" stop-color="#bcbcbc"/><stop offset="0.335" stop-color="#bababa"/><stop offset="0.3457" stop-color="#c6c6c6"/><stop offset="0.3496" stop-color="#b9b9b9"/><stop offset="0.3545" stop-color="#959595"/><stop offset="0.3564" stop-color="#8c8c8c"/><stop offset="0.3594" stop-color="#898989"/><stop offset="0.4277" stop-color="#858585"/><stop offset="0.4307" stop-color="#8e8e8e"/><stop offset="0.4326" stop-color="#9d9d9d"/><stop offset="0.4355" stop-color="#c0c0c0"/><stop offset="0.4385" stop-color="#d4d4d4"/><stop offset="0.4404" stop-color="#d8d8d8"/><stop offset="0.4443" stop-color="#d3d3d3"/><stop offset="0.4463" stop-color="#c6c6c6"/><stop offset="0.4502" stop-color="#9b9b9b"/><stop offset="0.4531" stop-color="#888888"/><stop offset="0.4551" stop-color="#848484"/><stop offset="0.4893" stop-color="#848484"/><stop offset="0.5029" stop-color="#9a9a9a"/><stop offset="0.5195" stop-color="#959595"/><stop offset="0.5273" stop-color="#7d7d7d"/><stop offset="0.5322" stop-color="#777777"/><stop offset="0.6484" stop-color="#757575"/><stop offset="0.6514" stop-color="#7f7f7f"/><stop offset="0.6572" stop-color="#bebebe"/><stop offset="0.6592" stop-color="#c1c1c1"/><stop offset="0.6611" stop-color="#b3b3b3"/><stop offset="0.665" stop-color="#8a8a8a"/><stop offset="0.668" stop-color="#7d7d7d"/><stop offset="0.7773" stop-color="#828282"/><stop offset="0.7842" stop-color="#898989"/><stop offset="0.7959" stop-color="#a1a1a1"/><stop offset="0.8203" stop-color="#a2a2a2"/><stop offset="0.8252" stop-color="#999999"/><stop offset="0.8311" stop-color="#727272"/><stop offset="0.833" stop-color="#6b6b6b"/><stop offset="0.8408" stop-color="#676767"/><stop offset="0.8447" stop-color="#6c6c6c"/><stop offset="0.8516" stop-color="#888888"/><stop offset="0.8555" stop-color="#8d8d8d"/><stop offset="0.8848" stop-color="#8d8d8d"/><stop offset="0.8945" stop-color="#7c7c7c"/><stop offset="0.8975" stop-color="#7c7c7c"/><stop offset="0.9053" stop-color="#a4a4a4"/><stop offset="0.9092" stop-color="#acacac"/><stop offset="0.9316" stop-color="#aaaaaa"/><stop offset="0.9385" stop-color="#888888"/><stop offset="0.9424" stop-color="#8f8f8f"/><stop offset="1" stop-color="#8c8c8c"/></linearGradient><linearGradient id="g62" gradientUnits="userSpaceOnUse" x1="0" x2="820.7" y1="0" y2="0"><stop offset="0" stop-color="#959595"/><stop offset="0.0098" stop-color="#7b7b7b"/><stop offset="0.0146" stop-color="#777777"/><stop offset="0.1416" stop-color="#727272"/><stop offset="0.1445" stop-color="#767676"/><stop offset="0.1465" stop-color="#808080"/><stop offset="0.1523" stop-color="#b8b8b8"/><stop offset="0.1543" stop-color="#c5c5c5"/><stop offset="0.1641" stop-color="#e3e3e3"/><stop offset="0.2393" stop-color="#e5e5e5"/><stop offset="0.293" stop-color="#cdcdcd"/><stop offset="0.3145" stop-color="#bdbdbd"/><stop offset="0.335" stop-color="#bbbbbb"/><stop offset="0.3457" stop-color="#c7c7c7"/><stop offset="0.3496" stop-color="#bababa"/><stop offset="0.3545" stop-color="#969696"/><stop offset="0.3564" stop-color="#8e8e8e"/><stop offset="0.3594" stop-color="#8a8a8a"/><stop offset="0.4277" stop-color="#868686"/><stop offset="0.4307" stop-color="#909090"/><stop offset="0.4326" stop-color="#9e9e9e"/><stop offset="0.4355" stop-color="#c1c1c1"/><stop offset="0.4385" stop-color="#d5d5d5"/><stop offset="0.4404" stop-color="#dadada"/><stop offset="0.4443" stop-color="#d4d4d4"/><stop offset="0.4463" stop-color="#c7c7c7"/><stop offset="0.4502" stop-color="#9c9c9c"/><stop offset="0.4531" stop-color="#8a8a8a"/><stop offset="0.4551" stop-color="#858585"/><stop offset="0.4893" stop-color="#868686"/><stop offset="0.5029" stop-color="#9b9b9b"/><stop offset="0.5195" stop-color="#979797"/><stop offset="0.5273" stop-color="#7f7f7f"/><stop offset="0.5322" stop-color="#797979"/><stop offset="0.6484" stop-color="#767676"/><stop offset="0.6514" stop-color="#808080"/><stop offset="0.6572" stop-color="#bfbfbf"/><stop offset="0.6592" stop-color="#c3c3c3"/><stop offset="0.6611" stop-color="#b4b4b4"/><stop offset="0.665" stop-color="#8b8b8b"/><stop offset="0.668" stop-color="#7e7e7e"/><stop offset="0.7773" stop-color="#838383"/><stop offset="0.7842" stop-color="#8a8a8a"/><stop offset="0.7959" stop-color="#a1a1a1"/><stop offset="0.8203" stop-color="#a2a2a2"/><stop offset="0.8252" stop-color="#999999"/><stop offset="0.8311" stop-color="#737373"/><stop offset="0.833" stop-color="#6c6c6c"/><stop offset="0.8408" stop-color="#686868"/><stop offset="0.8447" stop-color="#6c6c6c"/><stop offset="0.8516" stop-color="#888888"/><stop offset="0.8555" stop-color="#8e8e8e"/><stop offset="0.8848" stop-color="#8e8e8e"/><stop offset="0.8945" stop-color="#7d7d7d"/><stop offset="0.8975" stop-color="#7c7c7c"/><stop offset="0.9053" stop-color="#a5a5a5"/><stop offset="0.9092" stop-color="#adadad"/><stop offset="0.9316" stop-color="#aaaaaa"/><stop offset="0.9385" stop-color="#898989"/><stop offset="0.9424" stop-color="#919191"/><stop offset="1" stop-color="#8e8e8e"/></linearGradient><linearGradient id="g63" gradientUnits="userSpaceOnUse" x1="0" x2="820.7" y1="0" y2="0"><stop offset="0" stop-color="#949494"/><stop offset="0.0098" stop-color="#797979"/><stop offset="0.0146" stop-color="#757575"/><stop offset="0.1416" stop-color="#717171"/><stop offset="0.1445" stop-color="#747474"/><stop offset="0.1465" stop-color="#7f7f7f"/><stop offset="0.1523" stop-color="#b7b7b7"/><stop offset="0.1543" stop-color="#c5c5c5"/><stop offset="0.1641" stop-color="#e3e3e3"/><stop offset="0.2393" stop-color="#e5e5e5"/><stop offset="0.293" stop-color="#cacaca"/><stop offset="0.3145" stop-color="#bababa"/><stop offset="0.335" stop-color="#b8b8b8"/><stop offset="0.3457" stop-color="#c3c3c3"/><stop offset="0.3496" stop-color="#b6b6b6"/><stop offset="0.3545" stop-color="#939393"/><stop offset="0.3564" stop-color="#8a8a8a"/><stop offset="0.3594" stop-color="#878787"/><stop offset="0.4277" stop-color="#828282"/><stop offset="0.4307" stop-color="#8c8c8c"/><stop offset="0.4326" stop-color="#9b9b9b"/><stop offset="0.4355" stop-color="#bdbdbd"/><stop offset="0.4385" stop-color="#d1d1d1"/><stop offset="0.4404" stop-color="#d6d6d6"/><stop offset="0.4443" stop-color="#d1d1d1"/><stop offset="0.4463" stop-color="#c3c3c3"/><stop offset="0.4502" stop-color="#999999"/><stop offset="0.4531" stop-color="#868686"/><stop offset="0.4551" stop-color="#828282"/><stop offset="0.4893" stop-color="#828282"/><stop offset="0.5029" stop-color="#989898"/><stop offset="0.5195" stop-color="#939393"/><stop offset="0.5273" stop-color="#7b7b7b"/><stop offset="0.5322" stop-color="#757575"/><stop offset="0.6484" stop-color="#737373"/><stop offset="0.6514" stop-color="#7d7d7d"/><stop offset="0.6572" stop-color="#bcbcbc"/><stop offset="0.6592" stop-color="#bfbfbf"/><stop offset="0.6611" stop-color="#b1b1b1"/><stop offset="0.665" stop-color="#888888"/><stop offset="0.668" stop-color="#7a7a7a"/><stop offset="0.7773" stop-color="#7f7f7f"/><stop offset="0.7842" stop-color="#878787"/><stop offset="0.7959" stop-color="#a0a0a0"/><stop offset="0.8203" stop-color="#a1a1a1"/><stop offset="0.8252" stop-color="#989898"/><stop offset="0.8311" stop-color="#717171"/><stop offset="0.833" stop-color="#6a6a6a"/><stop offset="0.8408" stop-color="#666666"/><stop offset="0.8438" stop-color="#686868"/><stop offset="0.8516" stop-color="#868686"/><stop offset="0.8555" stop-color="#8c8c8c"/><stop offset="0.8848" stop-color="#8c8c8c"/><stop offset="0.8945" stop-color="#7b7b7b"/><stop offset="0.8975" stop-color="#7b7b7b"/><stop offset="0.9053" stop-color="#a3a3a3"/><stop offset="0.9092" stop-color="#ababab"/><stop offset="0.9316" stop-color="#a9a9a9"/><stop offset="0.9385" stop-color="#868686"/><stop offset="0.9424" stop-color="#8b8b8b"/><stop offset="1" stop-color="#898989"/></linearGradient><linearGradient id="g64" gradientUnits="userSpaceOnUse" x1="0" x2="820.7" y1="0" y2="0"><stop offset="0" stop-color="#919191"/><stop offset="0.0098" stop-color="#777777"/><stop offset="0.0146" stop-color="#727272"/><stop offset="0.1416" stop-color="#6e6e6e"/><stop offset="0.1445" stop-color="#717171"/><stop offset="0.1465" stop-color="#7c7c7c"/><stop offset="0.1523" stop-color="#b6b6b6"/><stop offset="0.1543" stop-color="#c4c4c4"/><stop offset="0.1641" stop-color="#e3e3e3"/><stop offset="0.2393" stop-color="#e5e5e5"/><stop offset="0.3145" stop-color="#b4b4b4"/><stop offset="0.335" stop-color="#b1b1b1"/><stop offset="0.3457" stop-color="#bcbcbc"/><stop offset="0.3496" stop-color="#afafaf"/><stop offset="0.3545" stop-color="#8c8c8c"/><stop offset="0.3564" stop-color="#838383"/><stop offset="0.3594" stop-color="#808080"/><stop offset="0.4277" stop-color="#7b7b7b"/><stop offset="0.4297" stop-color="#808080"/><stop offset="0.4326" stop-color="#949494"/><stop offset="0.4355" stop-color="#b6b6b6"/><stop offset="0.4375" stop-color="#c5c5c5"/><stop offset="0.4414" stop-color="#cfcfcf"/><stop offset="0.4443" stop-color="#cacaca"/><stop offset="0.4463" stop-color="#bcbcbc"/><stop offset="0.4502" stop-color="#929292"/><stop offset="0.4531" stop-color="#7f7f7f"/><stop offset="0.4551" stop-color="#7b7b7b"/><stop offset="0.4893" stop-color="#7b7b7b"/><stop offset="0.5029" stop-color="#919191"/><stop offset="0.5195" stop-color="#8c8c8c"/><stop offset="0.5273" stop-color="#747474"/><stop offset="0.5322" stop-color="#6e6e6e"/><stop offset="0.6484" stop-color="#6c6c6c"/><stop offset="0.6514" stop-color="#767676"/><stop offset="0.6572" stop-color="#b5b5b5"/><stop offset="0.6592" stop-color="#b8b8b8"/><stop offset="0.6611" stop-color="#aaaaaa"/><stop offset="0.665" stop-color="#818181"/><stop offset="0.668" stop-color="#747474"/><stop offset="0.7773" stop-color="#787878"/><stop offset="0.7832" stop-color="#7f7f7f"/><stop offset="0.7959" stop-color="#9c9c9c"/><stop offset="0.8203" stop-color="#9d9d9d"/><stop offset="0.8252" stop-color="#949494"/><stop offset="0.8311" stop-color="#6e6e6e"/><stop offset="0.833" stop-color="#676767"/><stop offset="0.8408" stop-color="#626262"/><stop offset="0.8447" stop-color="#676767"/><stop offset="0.8516" stop-color="#838383"/><stop offset="0.8555" stop-color="#898989"/><stop offset="0.8848" stop-color="#898989"/><stop offset="0.8945" stop-color="#777777"/><stop offset="0.8975" stop-color="#777777"/><stop offset="0.9053" stop-color="#a0a0a0"/><stop offset="0.9092" stop-color="#a7a7a7"/><stop offset="0.9316" stop-color="#a5a5a5"/><stop offset="0.9336" stop-color="#9f9f9f"/><stop offset="0.9375" stop-color="#868686"/><stop offset="0.9404" stop-color="#7e7e7e"/><stop offset="1" stop-color="#7d7d7d"/></linearGradient><linearGradient id="g65" gradientUnits="userSpaceOnUse" x1="0" x2="820.7" y1="0" y2="0"><stop offset="0" stop-color="#8f8f8f"/><stop offset="0.0098" stop-color="#747474"/><stop offset="0.0146" stop-color="#707070"/><stop offset="0.1416" stop-color="#6b6b6b"/><stop offset="0.1445" stop-color="#6f6f6f"/><stop offset="0.1465" stop-color="#797979"/><stop offset="0.1523" stop-color="#b5b5b5"/><stop offset="0.1553" stop-color="#c9c9c9"/><stop offset="0.1641" stop-color="#e3e3e3"/><stop offset="0.2393" stop-color="#e5e5e5"/><stop offset="0.3135" stop-color="#afafaf"/><stop offset="0.335" stop-color="#acacac"/><stop offset="0.3457" stop-color="#b7b7b7"/><stop offset="0.3496" stop-color="#aaaaaa"/><stop offset="0.3545" stop-color="#868686"/><stop offset="0.3564" stop-color="#7e7e7e"/><stop offset="0.3594" stop-color="#7a7a7a"/><stop offset="0.4277" stop-color="#767676"/><stop offset="0.4297" stop-color="#7a7a7a"/><stop offset="0.4326" stop-color="#8e8e8e"/><stop offset="0.4355" stop-color="#b1b1b1"/><stop offset="0.4375" stop-color="#bfbfbf"/><stop offset="0.4414" stop-color="#c9c9c9"/><stop offset="0.4443" stop-color="#c4c4c4"/><stop offset="0.4463" stop-color="#b7b7b7"/><stop offset="0.4502" stop-color="#8c8c8c"/><stop offset="0.4531" stop-color="#797979"/><stop offset="0.4551" stop-color="#757575"/><stop offset="0.4893" stop-color="#757575"/><stop offset="0.5029" stop-color="#8b8b8b"/><stop offset="0.5195" stop-color="#868686"/><stop offset="0.5273" stop-color="#6e6e6e"/><stop offset="0.5322" stop-color="#686868"/><stop offset="0.6484" stop-color="#666666"/><stop offset="0.6514" stop-color="#707070"/><stop offset="0.6572" stop-color="#afafaf"/><stop offset="0.6592" stop-color="#b2b2b2"/><stop offset="0.6611" stop-color="#a4a4a4"/><stop offset="0.665" stop-color="#7b7b7b"/><stop offset="0.668" stop-color="#6e6e6e"/><stop offset="0.7773" stop-color="#737373"/><stop offset="0.7832" stop-color="#7a7a7a"/><stop offset="0.7959" stop-color="#999999"/><stop offset="0.8203" stop-color="#9a9a9a"/><stop offset="0.8252" stop-color="#919191"/><stop offset="0.8311" stop-color="#6b6b6b"/><stop offset="0.833" stop-color="#646464"/><stop offset="0.8418" stop-color="#606060"/><stop offset="0.8457" stop-color="#676767"/><stop offset="0.8516" stop-color="#808080"/><stop offset="0.8555" stop-color="#868686"/><stop offset="0.8848" stop-color="#868686"/><stop offset="0.8945" stop-color="#757575"/><stop offset="0.8975" stop-color="#747474"/><stop offset="0.9053" stop-color="#9d9d9d"/><stop offset="0.9092" stop-color="#a4a4a4"/><stop offset="0.9316" stop-color="#a2a2a2"/><stop offset="0.9336" stop-color="#9c9c9c"/><stop offset="0.9385" stop-color="#7e7e7e"/><stop offset="0.9453" stop-color="#747474"/><stop offset="1" stop-color="#747474"/></linearGradient><linearGradient id="g66" gradientUnits="userSpaceOnUse" x1="0" x2="820.7" y1="0" y2="0"><stop offset="0" stop-color="#a9a9a9"/><stop offset="0.0098" stop-color="#8f8f8f"/><stop offset="0.0146" stop-color="#8b8b8b"/><stop offset="0.1416" stop-color="#868686"/><stop offset="0.1465" stop-color="#949494"/><stop offset="0.1543" stop-color="#c9c9c9"/><stop offset="0.1631" stop-color="#e1e1e1"/><stop offset="0.1689" stop-color="#e5e5e5"/><stop offset="0.2422" stop-color="#e5e5e5"/><stop offset="0.2539" stop-color="#dcdcdc"/><stop offset="0.2676" stop-color="#e3e3e3"/><stop offset="0.332" stop-color="#d4d4d4"/><stop offset="0.3447" stop-color="#dbdbdb"/><stop offset="0.3496" stop-color="#d3d3d3"/><stop offset="0.3584" stop-color="#b3b3b3"/><stop offset="0.4277" stop-color="#aeaeae"/><stop offset="0.4297" stop-color="#b3b3b3"/><stop offset="0.4375" stop-color="#e0e0e0"/><stop offset="0.4414" stop-color="#e6e6e6"/><stop offset="0.4463" stop-color="#dbdbdb"/><stop offset="0.4521" stop-color="#b7b7b7"/><stop offset="0.4551" stop-color="#aeaeae"/><stop offset="0.4893" stop-color="#aeaeae"/><stop offset="0.5" stop-color="#c0c0c0"/><stop offset="0.5166" stop-color="#bfbfbf"/><stop offset="0.5215" stop-color="#bbbbbb"/><stop offset="0.5273" stop-color="#a7a7a7"/><stop offset="0.5322" stop-color="#a1a1a1"/><stop offset="0.6484" stop-color="#9f9f9f"/><stop offset="0.6514" stop-color="#a9a9a9"/><stop offset="0.6553" stop-color="#cccccc"/><stop offset="0.6592" stop-color="#d9d9d9"/><stop offset="0.668" stop-color="#a6a6a6"/><stop offset="0.7764" stop-color="#ababab"/><stop offset="0.7979" stop-color="#bababa"/><stop offset="0.8213" stop-color="#bababa"/><stop offset="0.8252" stop-color="#b1b1b1"/><stop offset="0.832" stop-color="#878787"/><stop offset="0.8359" stop-color="#808080"/><stop offset="0.8438" stop-color="#828282"/><stop offset="0.8516" stop-color="#a0a0a0"/><stop offset="0.8555" stop-color="#a6a6a6"/><stop offset="0.8848" stop-color="#a6a6a6"/><stop offset="0.8975" stop-color="#959595"/><stop offset="0.9053" stop-color="#bdbdbd"/><stop offset="0.9092" stop-color="#c5c5c5"/><stop offset="0.9316" stop-color="#c2c2c2"/><stop offset="0.9375" stop-color="#a3a3a3"/><stop offset="0.9395" stop-color="#b2b2b2"/><stop offset="0.9424" stop-color="#bababa"/><stop offset="1" stop-color="#b8b8b8"/></linearGradient><linearGradient id="g67" gradientUnits="userSpaceOnUse" x1="0" x2="820.7" y1="0" y2="0"><stop offset="0" stop-color="#c6c6c6"/><stop offset="0.0098" stop-color="#acacac"/><stop offset="0.0146" stop-color="#a8a8a8"/><stop offset="0.1416" stop-color="#a3a3a3"/><stop offset="0.1445" stop-color="#a7a7a7"/><stop offset="0.1523" stop-color="#cdcdcd"/><stop offset="0.1562" stop-color="#cecece"/><stop offset="0.166" stop-color="#e5e5e5"/><stop offset="0.2402" stop-color="#e5e5e5"/><stop offset="0.2539" stop-color="#dcdcdc"/><stop offset="0.2676" stop-color="#f7f7f7"/><stop offset="0.3545" stop-color="#f7f7f7"/><stop offset="0.3594" stop-color="#ededed"/><stop offset="0.4277" stop-color="#e8e8e8"/><stop offset="0.4316" stop-color="#f7f7f7"/><stop offset="0.4512" stop-color="#f7f7f7"/><stop offset="0.4551" stop-color="#e8e8e8"/><stop offset="0.4893" stop-color="#e8e8e8"/><stop offset="0.498" stop-color="#f7f7f7"/><stop offset="0.5205" stop-color="#f7f7f7"/><stop offset="0.5273" stop-color="#e1e1e1"/><stop offset="0.5322" stop-color="#dbdbdb"/><stop offset="0.6484" stop-color="#d9d9d9"/><stop offset="0.6514" stop-color="#e3e3e3"/><stop offset="0.6533" stop-color="#f7f7f7"/><stop offset="0.6631" stop-color="#f7f7f7"/><stop offset="0.668" stop-color="#e1e1e1"/><stop offset="0.7764" stop-color="#e5e5e5"/><stop offset="0.7842" stop-color="#ececec"/><stop offset="0.791" stop-color="#d4d4d4"/><stop offset="0.7979" stop-color="#dddddd"/><stop offset="0.8213" stop-color="#dddddd"/><stop offset="0.8252" stop-color="#d4d4d4"/><stop offset="0.833" stop-color="#a7a7a7"/><stop offset="0.8408" stop-color="#a3a3a3"/><stop offset="0.8438" stop-color="#a5a5a5"/><stop offset="0.8516" stop-color="#c3c3c3"/><stop offset="0.8555" stop-color="#c9c9c9"/><stop offset="0.8848" stop-color="#c9c9c9"/><stop offset="0.8975" stop-color="#b7b7b7"/><stop offset="0.9053" stop-color="#e0e0e0"/><stop offset="0.9092" stop-color="#e8e8e8"/><stop offset="0.9316" stop-color="#e5e5e5"/><stop offset="0.9375" stop-color="#c6c6c6"/><stop offset="0.9395" stop-color="#ececec"/><stop offset="0.9424" stop-color="#f4f4f4"/><stop offset="1" stop-color="#f2f2f2"/></linearGradient><linearGradient id="g68" gradientUnits="userSpaceOnUse" x1="0" x2="820.7" y1="0" y2="0"><stop offset="0" stop-color="#252525"/><stop offset="0.1357" stop-color="#252525"/><stop offset="0.1416" stop-color="#171717"/><stop offset="0.1484" stop-color="#252525"/><stop offset="0.1895" stop-color="#252525"/><stop offset="0.1953" stop-color="#191919"/><stop offset="0.2012" stop-color="#252525"/><stop offset="0.2246" stop-color="#242424"/><stop offset="0.2295" stop-color="#191919"/><stop offset="0.2354" stop-color="#252525"/><stop offset="0.252" stop-color="#252525"/><stop offset="0.2617" stop-color="#121212"/><stop offset="0.2676" stop-color="#232323"/><stop offset="0.2725" stop-color="#252525"/><stop offset="0.3496" stop-color="#252525"/><stop offset="0.3564" stop-color="#1e1e1e"/><stop offset="0.3643" stop-color="#252525"/><stop offset="0.458" stop-color="#252525"/><stop offset="0.4668" stop-color="#171717"/><stop offset="0.4756" stop-color="#252525"/><stop offset="0.4844" stop-color="#242424"/><stop offset="0.4883" stop-color="#191919"/><stop offset="0.4961" stop-color="#252525"/><stop offset="0.9199" stop-color="#252525"/><stop offset="0.9248" stop-color="#222222"/><stop offset="0.9307" stop-color="#121212"/><stop offset="0.9395" stop-color="#252525"/><stop offset="1" stop-color="#252525"/></linearGradient><linearGradient id="g69" gradientUnits="userSpaceOnUse" x1="0" x2="820.7" y1="0" y2="0"><stop offset="0" stop-color="#606060"/><stop offset="0.1357" stop-color="#5f5f5f"/><stop offset="0.1387" stop-color="#525252"/><stop offset="0.1416" stop-color="#2c2c2c"/><stop offset="0.1426" stop-color="#2f2f2f"/><stop offset="0.1455" stop-color="#575757"/><stop offset="0.1484" stop-color="#5f5f5f"/><stop offset="0.1895" stop-color="#5f5f5f"/><stop offset="0.1924" stop-color="#545454"/><stop offset="0.1953" stop-color="#343434"/><stop offset="0.1963" stop-color="#373737"/><stop offset="0.1992" stop-color="#585858"/><stop offset="0.2012" stop-color="#5f5f5f"/><stop offset="0.2246" stop-color="#5e5e5e"/><stop offset="0.2266" stop-color="#545454"/><stop offset="0.2295" stop-color="#343434"/><stop offset="0.2305" stop-color="#373737"/><stop offset="0.2334" stop-color="#585858"/><stop offset="0.2354" stop-color="#5f5f5f"/><stop offset="0.252" stop-color="#5f5f5f"/><stop offset="0.2559" stop-color="#555555"/><stop offset="0.2598" stop-color="#252525"/><stop offset="0.2617" stop-color="#1a1a1a"/><stop offset="0.2676" stop-color="#585858"/><stop offset="0.2725" stop-color="#606060"/><stop offset="0.3496" stop-color="#5f5f5f"/><stop offset="0.3525" stop-color="#595959"/><stop offset="0.3564" stop-color="#464646"/><stop offset="0.3613" stop-color="#5b5b5b"/><stop offset="0.3643" stop-color="#5f5f5f"/><stop offset="0.458" stop-color="#606060"/><stop offset="0.4619" stop-color="#575757"/><stop offset="0.4658" stop-color="#2e2e2e"/><stop offset="0.4668" stop-color="#2c2c2c"/><stop offset="0.4717" stop-color="#5a5a5a"/><stop offset="0.4756" stop-color="#606060"/><stop offset="0.4844" stop-color="#5b5b5b"/><stop offset="0.4883" stop-color="#343434"/><stop offset="0.4893" stop-color="#373737"/><stop offset="0.4922" stop-color="#585858"/><stop offset="0.4961" stop-color="#606060"/><stop offset="0.9199" stop-color="#606060"/><stop offset="0.9248" stop-color="#555555"/><stop offset="0.9287" stop-color="#252525"/><stop offset="0.9307" stop-color="#1a1a1a"/><stop offset="0.9316" stop-color="#202020"/><stop offset="0.9355" stop-color="#515151"/><stop offset="0.9395" stop-color="#5f5f5f"/><stop offset="1" stop-color="#606060"/></linearGradient><linearGradient id="g70" gradientUnits="userSpaceOnUse" x1="0" x2="820.7" y1="0" y2="0"><stop offset="0" stop-color="#acacac"/><stop offset="0.1357" stop-color="#acacac"/><stop offset="0.1377" stop-color="#a2a2a2"/><stop offset="0.1387" stop-color="#919191"/><stop offset="0.1406" stop-color="#585858"/><stop offset="0.1416" stop-color="#474747"/><stop offset="0.1426" stop-color="#4d4d4d"/><stop offset="0.1455" stop-color="#9b9b9b"/><stop offset="0.1465" stop-color="#a6a6a6"/><stop offset="0.1484" stop-color="#acacac"/><stop offset="0.1895" stop-color="#acacac"/><stop offset="0.1914" stop-color="#a3a3a3"/><stop offset="0.1924" stop-color="#969696"/><stop offset="0.1943" stop-color="#666666"/><stop offset="0.1953" stop-color="#585858"/><stop offset="0.1963" stop-color="#5d5d5d"/><stop offset="0.1992" stop-color="#9e9e9e"/><stop offset="0.2012" stop-color="#ababab"/><stop offset="0.2246" stop-color="#aaaaaa"/><stop offset="0.2266" stop-color="#969696"/><stop offset="0.2285" stop-color="#666666"/><stop offset="0.2295" stop-color="#585858"/><stop offset="0.2305" stop-color="#5d5d5d"/><stop offset="0.2334" stop-color="#9e9e9e"/><stop offset="0.2354" stop-color="#ababab"/><stop offset="0.252" stop-color="#acacac"/><stop offset="0.2539" stop-color="#a8a8a8"/><stop offset="0.2559" stop-color="#979797"/><stop offset="0.2568" stop-color="#858585"/><stop offset="0.2598" stop-color="#393939"/><stop offset="0.2607" stop-color="#282828"/><stop offset="0.2617" stop-color="#242424"/><stop offset="0.2627" stop-color="#2f2f2f"/><stop offset="0.2656" stop-color="#7a7a7a"/><stop offset="0.2676" stop-color="#9d9d9d"/><stop offset="0.2695" stop-color="#a9a9a9"/><stop offset="0.2725" stop-color="#acacac"/><stop offset="0.3496" stop-color="#acacac"/><stop offset="0.3525" stop-color="#a0a0a0"/><stop offset="0.3564" stop-color="#797979"/><stop offset="0.3574" stop-color="#7b7b7b"/><stop offset="0.3613" stop-color="#a4a4a4"/><stop offset="0.3643" stop-color="#acacac"/><stop offset="0.458" stop-color="#acacac"/><stop offset="0.46" stop-color="#aaaaaa"/><stop offset="0.4619" stop-color="#9c9c9c"/><stop offset="0.4658" stop-color="#4b4b4b"/><stop offset="0.4668" stop-color="#474747"/><stop offset="0.4678" stop-color="#525252"/><stop offset="0.4707" stop-color="#949494"/><stop offset="0.4717" stop-color="#a1a1a1"/><stop offset="0.4756" stop-color="#acacac"/><stop offset="0.4824" stop-color="#acacac"/><stop offset="0.4844" stop-color="#a3a3a3"/><stop offset="0.4883" stop-color="#585858"/><stop offset="0.4893" stop-color="#5d5d5d"/><stop offset="0.4922" stop-color="#9e9e9e"/><stop offset="0.4941" stop-color="#ababab"/><stop offset="0.4961" stop-color="#acacac"/><stop offset="0.9199" stop-color="#acacac"/><stop offset="0.9229" stop-color="#a8a8a8"/><stop offset="0.9248" stop-color="#979797"/><stop offset="0.9258" stop-color="#858585"/><stop offset="0.9287" stop-color="#393939"/><stop offset="0.9297" stop-color="#282828"/><stop offset="0.9307" stop-color="#242424"/><stop offset="0.9316" stop-color="#2f2f2f"/><stop offset="0.9355" stop-color="#8f8f8f"/><stop offset="0.9375" stop-color="#a5a5a5"/><stop offset="0.9395" stop-color="#ababab"/><stop offset="1" stop-color="#acacac"/></linearGradient><linearGradient id="g71" gradientUnits="userSpaceOnUse" x1="0" x2="820.7" y1="0" y2="0"><stop offset="0" stop-color="#c2c2c2"/><stop offset="0.1357" stop-color="#c1c1c1"/><stop offset="0.1377" stop-color="#b6b6b6"/><stop offset="0.1387" stop-color="#a3a3a3"/><stop offset="0.1406" stop-color="#626262"/><stop offset="0.1416" stop-color="#4e4e4e"/><stop offset="0.1426" stop-color="#555555"/><stop offset="0.1455" stop-color="#aeaeae"/><stop offset="0.1465" stop-color="#bbbbbb"/><stop offset="0.1484" stop-color="#c1c1c1"/><stop offset="0.1895" stop-color="#c1c1c1"/><stop offset="0.1914" stop-color="#b8b8b8"/><stop offset="0.1924" stop-color="#a8a8a8"/><stop offset="0.1943" stop-color="#727272"/><stop offset="0.1953" stop-color="#626262"/><stop offset="0.1963" stop-color="#676767"/><stop offset="0.1992" stop-color="#b1b1b1"/><stop offset="0.2012" stop-color="#c0c0c0"/><stop offset="0.2246" stop-color="#bfbfbf"/><stop offset="0.2266" stop-color="#a8a8a8"/><stop offset="0.2285" stop-color="#727272"/><stop offset="0.2295" stop-color="#626262"/><stop offset="0.2305" stop-color="#676767"/><stop offset="0.2334" stop-color="#b1b1b1"/><stop offset="0.2354" stop-color="#c0c0c0"/><stop offset="0.252" stop-color="#c1c1c1"/><stop offset="0.2539" stop-color="#bcbcbc"/><stop offset="0.2559" stop-color="#a9a9a9"/><stop offset="0.2568" stop-color="#969696"/><stop offset="0.2598" stop-color="#3f3f3f"/><stop offset="0.2607" stop-color="#2c2c2c"/><stop offset="0.2617" stop-color="#272727"/><stop offset="0.2627" stop-color="#343434"/><stop offset="0.2656" stop-color="#898989"/><stop offset="0.2676" stop-color="#b0b0b0"/><stop offset="0.2695" stop-color="#bebebe"/><stop offset="0.2725" stop-color="#c2c2c2"/><stop offset="0.3496" stop-color="#c1c1c1"/><stop offset="0.3525" stop-color="#b4b4b4"/><stop offset="0.3564" stop-color="#888888"/><stop offset="0.3574" stop-color="#8a8a8a"/><stop offset="0.3613" stop-color="#b8b8b8"/><stop offset="0.3643" stop-color="#c1c1c1"/><stop offset="0.458" stop-color="#c2c2c2"/><stop offset="0.46" stop-color="#bfbfbf"/><stop offset="0.4619" stop-color="#afafaf"/><stop offset="0.4658" stop-color="#535353"/><stop offset="0.4668" stop-color="#4e4e4e"/><stop offset="0.4678" stop-color="#5b5b5b"/><stop offset="0.4707" stop-color="#a6a6a6"/><stop offset="0.4717" stop-color="#b5b5b5"/><stop offset="0.4756" stop-color="#c2c2c2"/><stop offset="0.4824" stop-color="#c1c1c1"/><stop offset="0.4844" stop-color="#b8b8b8"/><stop offset="0.4854" stop-color="#a8a8a8"/><stop offset="0.4873" stop-color="#727272"/><stop offset="0.4883" stop-color="#626262"/><stop offset="0.4893" stop-color="#676767"/><stop offset="0.4922" stop-color="#b1b1b1"/><stop offset="0.4941" stop-color="#c0c0c0"/><stop offset="0.4961" stop-color="#c2c2c2"/><stop offset="0.9199" stop-color="#c2c2c2"/><stop offset="0.9229" stop-color="#bcbcbc"/><stop offset="0.9248" stop-color="#a9a9a9"/><stop offset="0.9258" stop-color="#969696"/><stop offset="0.9287" stop-color="#3f3f3f"/><stop offset="0.9297" stop-color="#2c2c2c"/><stop offset="0.9307" stop-color="#272727"/><stop offset="0.9316" stop-color="#343434"/><stop offset="0.9355" stop-color="#a0a0a0"/><stop offset="0.9375" stop-color="#b9b9b9"/><stop offset="0.9395" stop-color="#c0c0c0"/><stop offset="1" stop-color="#c2c2c2"/></linearGradient><linearGradient id="g72" gradientUnits="userSpaceOnUse" x1="0" x2="820.7" y1="0" y2="0"><stop offset="0" stop-color="#2a2a2a"/><stop offset="0.1357" stop-color="#2a2a2a"/><stop offset="0.1416" stop-color="#161616"/><stop offset="0.1484" stop-color="#2a2a2a"/><stop offset="0.1895" stop-color="#2a2a2a"/><stop offset="0.1953" stop-color="#1c1c1c"/><stop offset="0.2012" stop-color="#2a2a2a"/><stop offset="0.2246" stop-color="#292929"/><stop offset="0.2295" stop-color="#1c1c1c"/><stop offset="0.2354" stop-color="#2a2a2a"/><stop offset="0.252" stop-color="#2a2a2a"/><stop offset="0.2559" stop-color="#262626"/><stop offset="0.2617" stop-color="#101010"/><stop offset="0.2676" stop-color="#272727"/><stop offset="0.2725" stop-color="#2a2a2a"/><stop offset="0.458" stop-color="#2a2a2a"/><stop offset="0.4619" stop-color="#272727"/><stop offset="0.4668" stop-color="#161616"/><stop offset="0.4717" stop-color="#282828"/><stop offset="0.4756" stop-color="#2a2a2a"/><stop offset="0.4844" stop-color="#282828"/><stop offset="0.4883" stop-color="#1c1c1c"/><stop offset="0.4961" stop-color="#2a2a2a"/><stop offset="0.9199" stop-color="#2a2a2a"/><stop offset="0.9248" stop-color="#262626"/><stop offset="0.9307" stop-color="#101010"/><stop offset="0.9355" stop-color="#242424"/><stop offset="0.9395" stop-color="#2a2a2a"/><stop offset="1" stop-color="#2a2a2a"/></linearGradient><linearGradient id="g73" gradientUnits="userSpaceOnUse" x1="0" x2="820.7" y1="0" y2="0"><stop offset="0" stop-color="#7e7e7e"/><stop offset="0.1357" stop-color="#7e7e7e"/><stop offset="0.1377" stop-color="#767676"/><stop offset="0.1387" stop-color="#686868"/><stop offset="0.1406" stop-color="#3a3a3a"/><stop offset="0.1416" stop-color="#2c2c2c"/><stop offset="0.1426" stop-color="#313131"/><stop offset="0.1455" stop-color="#707070"/><stop offset="0.1484" stop-color="#7e7e7e"/><stop offset="0.1895" stop-color="#7e7e7e"/><stop offset="0.1924" stop-color="#6e6e6e"/><stop offset="0.1953" stop-color="#434343"/><stop offset="0.1963" stop-color="#474747"/><stop offset="0.1992" stop-color="#747474"/><stop offset="0.2012" stop-color="#7d7d7d"/><stop offset="0.2246" stop-color="#7c7c7c"/><stop offset="0.2266" stop-color="#6e6e6e"/><stop offset="0.2295" stop-color="#434343"/><stop offset="0.2305" stop-color="#474747"/><stop offset="0.2334" stop-color="#747474"/><stop offset="0.2354" stop-color="#7d7d7d"/><stop offset="0.252" stop-color="#7e7e7e"/><stop offset="0.2559" stop-color="#6d6d6d"/><stop offset="0.2598" stop-color="#242424"/><stop offset="0.2607" stop-color="#171717"/><stop offset="0.2617" stop-color="#141414"/><stop offset="0.2627" stop-color="#1c1c1c"/><stop offset="0.2656" stop-color="#575757"/><stop offset="0.2676" stop-color="#727272"/><stop offset="0.2725" stop-color="#7e7e7e"/><stop offset="0.458" stop-color="#7e7e7e"/><stop offset="0.4619" stop-color="#717171"/><stop offset="0.4658" stop-color="#2f2f2f"/><stop offset="0.4668" stop-color="#2c2c2c"/><stop offset="0.4678" stop-color="#353535"/><stop offset="0.4707" stop-color="#6b6b6b"/><stop offset="0.4717" stop-color="#757575"/><stop offset="0.4756" stop-color="#7e7e7e"/><stop offset="0.4844" stop-color="#787878"/><stop offset="0.4883" stop-color="#434343"/><stop offset="0.4893" stop-color="#474747"/><stop offset="0.4922" stop-color="#747474"/><stop offset="0.4961" stop-color="#7e7e7e"/><stop offset="0.9199" stop-color="#7e7e7e"/><stop offset="0.9229" stop-color="#7a7a7a"/><stop offset="0.9248" stop-color="#6d6d6d"/><stop offset="0.9287" stop-color="#242424"/><stop offset="0.9297" stop-color="#171717"/><stop offset="0.9307" stop-color="#141414"/><stop offset="0.9316" stop-color="#1c1c1c"/><stop offset="0.9355" stop-color="#676767"/><stop offset="0.9375" stop-color="#787878"/><stop offset="0.9395" stop-color="#7d7d7d"/><stop offset="1" stop-color="#7e7e7e"/></linearGradient><linearGradient id="g74" gradientUnits="userSpaceOnUse" x1="0" x2="820.7" y1="0" y2="0"><stop offset="0" stop-color="#ededed"/><stop offset="0.1357" stop-color="#ececec"/><stop offset="0.1377" stop-color="#dcdcdc"/><stop offset="0.1387" stop-color="#c1c1c1"/><stop offset="0.1406" stop-color="#656565"/><stop offset="0.1416" stop-color="#484848"/><stop offset="0.1426" stop-color="#525252"/><stop offset="0.1445" stop-color="#adadad"/><stop offset="0.1455" stop-color="#d1d1d1"/><stop offset="0.1465" stop-color="#e3e3e3"/><stop offset="0.1484" stop-color="#ededed"/><stop offset="0.1895" stop-color="#ececec"/><stop offset="0.1914" stop-color="#e1e1e1"/><stop offset="0.1924" stop-color="#cdcdcd"/><stop offset="0.1943" stop-color="#8c8c8c"/><stop offset="0.1953" stop-color="#777777"/><stop offset="0.1963" stop-color="#7f7f7f"/><stop offset="0.1992" stop-color="#d9d9d9"/><stop offset="0.2012" stop-color="#ebebeb"/><stop offset="0.2246" stop-color="#e9e9e9"/><stop offset="0.2256" stop-color="#e1e1e1"/><stop offset="0.2266" stop-color="#cdcdcd"/><stop offset="0.2285" stop-color="#8c8c8c"/><stop offset="0.2295" stop-color="#777777"/><stop offset="0.2305" stop-color="#7f7f7f"/><stop offset="0.2334" stop-color="#d9d9d9"/><stop offset="0.2354" stop-color="#ebebeb"/><stop offset="0.252" stop-color="#ececec"/><stop offset="0.2539" stop-color="#e6e6e6"/><stop offset="0.2559" stop-color="#cbcbcb"/><stop offset="0.2568" stop-color="#b0b0b0"/><stop offset="0.2598" stop-color="#393939"/><stop offset="0.2607" stop-color="#1e1e1e"/><stop offset="0.2617" stop-color="#181818"/><stop offset="0.2627" stop-color="#292929"/><stop offset="0.2656" stop-color="#9f9f9f"/><stop offset="0.2666" stop-color="#bfbfbf"/><stop offset="0.2676" stop-color="#d5d5d5"/><stop offset="0.2695" stop-color="#e8e8e8"/><stop offset="0.2725" stop-color="#ededed"/><stop offset="0.458" stop-color="#ededed"/><stop offset="0.46" stop-color="#e9e9e9"/><stop offset="0.4619" stop-color="#d2d2d2"/><stop offset="0.4629" stop-color="#b7b7b7"/><stop offset="0.4648" stop-color="#6b6b6b"/><stop offset="0.4658" stop-color="#4e4e4e"/><stop offset="0.4668" stop-color="#484848"/><stop offset="0.4678" stop-color="#5b5b5b"/><stop offset="0.4707" stop-color="#c6c6c6"/><stop offset="0.4717" stop-color="#dbdbdb"/><stop offset="0.4736" stop-color="#ebebeb"/><stop offset="0.4756" stop-color="#ededed"/><stop offset="0.4824" stop-color="#ececec"/><stop offset="0.4844" stop-color="#e1e1e1"/><stop offset="0.4854" stop-color="#cdcdcd"/><stop offset="0.4873" stop-color="#8c8c8c"/><stop offset="0.4883" stop-color="#777777"/><stop offset="0.4893" stop-color="#7f7f7f"/><stop offset="0.4922" stop-color="#d9d9d9"/><stop offset="0.4941" stop-color="#ebebeb"/><stop offset="0.4961" stop-color="#ededed"/><stop offset="0.9199" stop-color="#ededed"/><stop offset="0.9229" stop-color="#e6e6e6"/><stop offset="0.9248" stop-color="#cbcbcb"/><stop offset="0.9258" stop-color="#b0b0b0"/><stop offset="0.9287" stop-color="#393939"/><stop offset="0.9297" stop-color="#1e1e1e"/><stop offset="0.9307" stop-color="#181818"/><stop offset="0.9316" stop-color="#292929"/><stop offset="0.9346" stop-color="#9f9f9f"/><stop offset="0.9355" stop-color="#bfbfbf"/><stop offset="0.9375" stop-color="#e2e2e2"/><stop offset="0.9395" stop-color="#ebebeb"/><stop offset="1" stop-color="#ededed"/></linearGradient><linearGradient id="g75" gradientUnits="userSpaceOnUse" x1="0" x2="820.7" y1="0" y2="0"><stop offset="0" stop-color="#2a2a2a"/><stop offset="0.8818" stop-color="#2a2a2a"/><stop offset="0.8916" stop-color="#1f1f1f"/><stop offset="0.8994" stop-color="#2a2a2a"/><stop offset="1" stop-color="#2a2a2a"/></linearGradient><linearGradient id="g76" gradientUnits="userSpaceOnUse" x1="0" x2="820.7" y1="0" y2="0"><stop offset="0" stop-color="#747474"/><stop offset="0.8818" stop-color="#747474"/><stop offset="0.8867" stop-color="#6d6d6d"/><stop offset="0.8906" stop-color="#4b4b4b"/><stop offset="0.8916" stop-color="#494949"/><stop offset="0.8965" stop-color="#707070"/><stop offset="0.8994" stop-color="#747474"/><stop offset="1" stop-color="#747474"/></linearGradient><linearGradient id="g77" gradientUnits="userSpaceOnUse" x1="0" x2="820.7" y1="0" y2="0"><stop offset="0" stop-color="#d5d5d5"/><stop offset="0.8818" stop-color="#d5d5d5"/><stop offset="0.8848" stop-color="#d3d3d3"/><stop offset="0.8867" stop-color="#c7c7c7"/><stop offset="0.8906" stop-color="#848484"/><stop offset="0.8916" stop-color="#818181"/><stop offset="0.8926" stop-color="#8a8a8a"/><stop offset="0.8955" stop-color="#c1c1c1"/><stop offset="0.8965" stop-color="#cbcbcb"/><stop offset="0.8994" stop-color="#d4d4d4"/><stop offset="1" stop-color="#d5d5d5"/></linearGradient><linearGradient id="g78" gradientUnits="userSpaceOnUse" x1="0" x2="820.7" y1="0" y2="0"><stop offset="0" stop-color="#f0f0f0"/><stop offset="0.8818" stop-color="#f0f0f0"/><stop offset="0.8848" stop-color="#ededed"/><stop offset="0.8867" stop-color="#e0e0e0"/><stop offset="0.8906" stop-color="#949494"/><stop offset="0.8916" stop-color="#909090"/><stop offset="0.8926" stop-color="#9b9b9b"/><stop offset="0.8955" stop-color="#d9d9d9"/><stop offset="0.8965" stop-color="#e5e5e5"/><stop offset="0.8994" stop-color="#efefef"/><stop offset="1" stop-color="#f0f0f0"/></linearGradient><linearGradient id="g79" gradientUnits="userSpaceOnUse" x1="0" x2="820.7" y1="0" y2="0"><stop offset="0" stop-color="#323232"/><stop offset="0.0322" stop-color="#323232"/><stop offset="0.0391" stop-color="#292929"/><stop offset="0.0488" stop-color="#323232"/><stop offset="0.0859" stop-color="#323232"/><stop offset="0.0928" stop-color="#2b2b2b"/><stop offset="0.0996" stop-color="#323232"/><stop offset="0.1436" stop-color="#323232"/><stop offset="0.1514" stop-color="#292929"/><stop offset="0.1602" stop-color="#323232"/><stop offset="0.2656" stop-color="#323232"/><stop offset="0.2734" stop-color="#292929"/><stop offset="0.2803" stop-color="#323232"/><stop offset="0.3242" stop-color="#323232"/><stop offset="0.332" stop-color="#292929"/><stop offset="0.3408" stop-color="#323232"/><stop offset="0.5625" stop-color="#323232"/><stop offset="0.5713" stop-color="#292929"/><stop offset="0.5791" stop-color="#323232"/><stop offset="0.6729" stop-color="#323232"/><stop offset="0.6836" stop-color="#262626"/><stop offset="0.6943" stop-color="#323232"/><stop offset="1" stop-color="#323232"/></linearGradient><linearGradient id="g80" gradientUnits="userSpaceOnUse" x1="0" x2="820.7" y1="0" y2="0"><stop offset="0" stop-color="#6c6c6c"/><stop offset="0.0322" stop-color="#6b6b6b"/><stop offset="0.0352" stop-color="#636363"/><stop offset="0.0391" stop-color="#474747"/><stop offset="0.0439" stop-color="#666666"/><stop offset="0.0488" stop-color="#6c6c6c"/><stop offset="0.0859" stop-color="#6c6c6c"/><stop offset="0.0889" stop-color="#656565"/><stop offset="0.0928" stop-color="#515151"/><stop offset="0.0996" stop-color="#6b6b6b"/><stop offset="0.1436" stop-color="#6c6c6c"/><stop offset="0.1465" stop-color="#686868"/><stop offset="0.1514" stop-color="#474747"/><stop offset="0.1562" stop-color="#666666"/><stop offset="0.1602" stop-color="#6c6c6c"/><stop offset="0.2656" stop-color="#6c6c6c"/><stop offset="0.2686" stop-color="#686868"/><stop offset="0.2734" stop-color="#474747"/><stop offset="0.2803" stop-color="#6b6b6b"/><stop offset="0.3242" stop-color="#6c6c6c"/><stop offset="0.3271" stop-color="#686868"/><stop offset="0.332" stop-color="#474747"/><stop offset="0.3369" stop-color="#666666"/><stop offset="0.3408" stop-color="#6c6c6c"/><stop offset="0.5625" stop-color="#6c6c6c"/><stop offset="0.5664" stop-color="#686868"/><stop offset="0.5713" stop-color="#474747"/><stop offset="0.5762" stop-color="#666666"/><stop offset="0.5791" stop-color="#6c6c6c"/><stop offset="0.6729" stop-color="#6c6c6c"/><stop offset="0.6777" stop-color="#676767"/><stop offset="0.6836" stop-color="#3e3e3e"/><stop offset="0.6855" stop-color="#454545"/><stop offset="0.6895" stop-color="#656565"/><stop offset="0.6943" stop-color="#6c6c6c"/><stop offset="1" stop-color="#6c6c6c"/></linearGradient><linearGradient id="g81" gradientUnits="userSpaceOnUse" x1="0" x2="820.7" y1="0" y2="0"><stop offset="0" stop-color="#b7b7b7"/><stop offset="0.0322" stop-color="#b6b6b6"/><stop offset="0.0352" stop-color="#a6a6a6"/><stop offset="0.0381" stop-color="#787878"/><stop offset="0.0391" stop-color="#707070"/><stop offset="0.04" stop-color="#727272"/><stop offset="0.0439" stop-color="#ababab"/><stop offset="0.0459" stop-color="#b5b5b5"/><stop offset="0.0488" stop-color="#b7b7b7"/><stop offset="0.0859" stop-color="#b6b6b6"/><stop offset="0.0889" stop-color="#aaaaaa"/><stop offset="0.0928" stop-color="#818181"/><stop offset="0.0938" stop-color="#848484"/><stop offset="0.0977" stop-color="#aeaeae"/><stop offset="0.0996" stop-color="#b6b6b6"/><stop offset="0.1436" stop-color="#b7b7b7"/><stop offset="0.1465" stop-color="#afafaf"/><stop offset="0.1514" stop-color="#707070"/><stop offset="0.1523" stop-color="#727272"/><stop offset="0.1562" stop-color="#ababab"/><stop offset="0.1602" stop-color="#b7b7b7"/><stop offset="0.2656" stop-color="#b7b7b7"/><stop offset="0.2686" stop-color="#afafaf"/><stop offset="0.2734" stop-color="#707070"/><stop offset="0.2744" stop-color="#727272"/><stop offset="0.2783" stop-color="#ababab"/><stop offset="0.2803" stop-color="#b5b5b5"/><stop offset="0.3242" stop-color="#b7b7b7"/><stop offset="0.3271" stop-color="#afafaf"/><stop offset="0.332" stop-color="#707070"/><stop offset="0.333" stop-color="#727272"/><stop offset="0.3369" stop-color="#ababab"/><stop offset="0.3408" stop-color="#b7b7b7"/><stop offset="0.5625" stop-color="#b7b7b7"/><stop offset="0.5664" stop-color="#afafaf"/><stop offset="0.5713" stop-color="#707070"/><stop offset="0.5723" stop-color="#727272"/><stop offset="0.5762" stop-color="#ababab"/><stop offset="0.5791" stop-color="#b6b6b6"/><stop offset="0.6729" stop-color="#b7b7b7"/><stop offset="0.6777" stop-color="#adadad"/><stop offset="0.6797" stop-color="#969696"/><stop offset="0.6826" stop-color="#656565"/><stop offset="0.6836" stop-color="#5e5e5e"/><stop offset="0.6855" stop-color="#6b6b6b"/><stop offset="0.6895" stop-color="#a9a9a9"/><stop offset="0.6914" stop-color="#b4b4b4"/><stop offset="0.6943" stop-color="#b7b7b7"/><stop offset="1" stop-color="#b7b7b7"/></linearGradient><linearGradient id="g82" gradientUnits="userSpaceOnUse" x1="0" x2="820.7" y1="0" y2="0"><stop offset="0" stop-color="#cccccc"/><stop offset="0.0322" stop-color="#cbcbcb"/><stop offset="0.0352" stop-color="#b9b9b9"/><stop offset="0.0381" stop-color="#848484"/><stop offset="0.0391" stop-color="#7b7b7b"/><stop offset="0.04" stop-color="#7e7e7e"/><stop offset="0.0439" stop-color="#bfbfbf"/><stop offset="0.0459" stop-color="#cacaca"/><stop offset="0.0488" stop-color="#cccccc"/><stop offset="0.0859" stop-color="#cbcbcb"/><stop offset="0.0889" stop-color="#bebebe"/><stop offset="0.0928" stop-color="#8f8f8f"/><stop offset="0.0938" stop-color="#919191"/><stop offset="0.0977" stop-color="#c2c2c2"/><stop offset="0.0996" stop-color="#cacaca"/><stop offset="0.1436" stop-color="#cccccc"/><stop offset="0.1465" stop-color="#c3c3c3"/><stop offset="0.1475" stop-color="#b9b9b9"/><stop offset="0.1504" stop-color="#848484"/><stop offset="0.1514" stop-color="#7b7b7b"/><stop offset="0.1523" stop-color="#7e7e7e"/><stop offset="0.1562" stop-color="#bfbfbf"/><stop offset="0.1602" stop-color="#cccccc"/><stop offset="0.2656" stop-color="#cccccc"/><stop offset="0.2686" stop-color="#c3c3c3"/><stop offset="0.2695" stop-color="#b9b9b9"/><stop offset="0.2725" stop-color="#848484"/><stop offset="0.2734" stop-color="#7b7b7b"/><stop offset="0.2744" stop-color="#7e7e7e"/><stop offset="0.2783" stop-color="#bfbfbf"/><stop offset="0.2803" stop-color="#cacaca"/><stop offset="0.3242" stop-color="#cccccc"/><stop offset="0.3271" stop-color="#c3c3c3"/><stop offset="0.3281" stop-color="#b9b9b9"/><stop offset="0.3311" stop-color="#848484"/><stop offset="0.332" stop-color="#7b7b7b"/><stop offset="0.333" stop-color="#7e7e7e"/><stop offset="0.3369" stop-color="#bfbfbf"/><stop offset="0.3408" stop-color="#cccccc"/><stop offset="0.5625" stop-color="#cccccc"/><stop offset="0.5664" stop-color="#c3c3c3"/><stop offset="0.5674" stop-color="#b9b9b9"/><stop offset="0.5703" stop-color="#848484"/><stop offset="0.5713" stop-color="#7b7b7b"/><stop offset="0.5723" stop-color="#7e7e7e"/><stop offset="0.5762" stop-color="#bfbfbf"/><stop offset="0.5791" stop-color="#cbcbcb"/><stop offset="0.6729" stop-color="#cccccc"/><stop offset="0.6777" stop-color="#c0c0c0"/><stop offset="0.6797" stop-color="#a7a7a7"/><stop offset="0.6826" stop-color="#6e6e6e"/><stop offset="0.6836" stop-color="#666666"/><stop offset="0.6855" stop-color="#767676"/><stop offset="0.6895" stop-color="#bcbcbc"/><stop offset="0.6914" stop-color="#c8c8c8"/><stop offset="0.6943" stop-color="#cccccc"/><stop offset="1" stop-color="#cccccc"/></linearGradient><linearGradient id="g83" gradientUnits="userSpaceOnUse" x1="0" x2="820.7" y1="0" y2="0"><stop offset="0" stop-color="#343434"/><stop offset="0.1729" stop-color="#343434"/><stop offset="0.1777" stop-color="#383838"/><stop offset="0.1826" stop-color="#4b4b4b"/><stop offset="0.1846" stop-color="#4e4e4e"/><stop offset="0.1904" stop-color="#393939"/><stop offset="0.1943" stop-color="#353535"/><stop offset="0.291" stop-color="#343434"/><stop offset="0.2959" stop-color="#3a3a3a"/><stop offset="0.3008" stop-color="#565656"/><stop offset="0.3027" stop-color="#5a5a5a"/><stop offset="0.3047" stop-color="#535353"/><stop offset="0.3086" stop-color="#3c3c3c"/><stop offset="0.3125" stop-color="#353535"/><stop offset="0.4102" stop-color="#343434"/><stop offset="0.416" stop-color="#3a3a3a"/><stop offset="0.4219" stop-color="#585858"/><stop offset="0.4238" stop-color="#5e5e5e"/><stop offset="0.4258" stop-color="#5a5a5a"/><stop offset="0.4326" stop-color="#393939"/><stop offset="0.4385" stop-color="#343434"/><stop offset="0.5391" stop-color="#353535"/><stop offset="0.5439" stop-color="#3b3b3b"/><stop offset="0.5498" stop-color="#575757"/><stop offset="0.5518" stop-color="#5a5a5a"/><stop offset="0.5537" stop-color="#555555"/><stop offset="0.5596" stop-color="#3a3a3a"/><stop offset="0.5645" stop-color="#353535"/><stop offset="0.665" stop-color="#353535"/><stop offset="0.6699" stop-color="#3d3d3d"/><stop offset="0.6748" stop-color="#555555"/><stop offset="0.6768" stop-color="#5a5a5a"/><stop offset="0.6787" stop-color="#575757"/><stop offset="0.6846" stop-color="#3b3b3b"/><stop offset="0.6895" stop-color="#353535"/><stop offset="0.7969" stop-color="#343434"/><stop offset="0.8018" stop-color="#3b3b3b"/><stop offset="0.8066" stop-color="#595959"/><stop offset="0.8086" stop-color="#5e5e5e"/><stop offset="0.8105" stop-color="#565656"/><stop offset="0.8145" stop-color="#3d3d3d"/><stop offset="0.8193" stop-color="#353535"/><stop offset="0.9316" stop-color="#353535"/><stop offset="0.9355" stop-color="#393939"/><stop offset="0.9404" stop-color="#505050"/><stop offset="0.9424" stop-color="#545454"/><stop offset="0.9482" stop-color="#3b3b3b"/><stop offset="0.9512" stop-color="#353535"/><stop offset="1" stop-color="#343434"/></linearGradient><linearGradient id="g84" gradientUnits="userSpaceOnUse" x1="0" x2="820.7" y1="0" y2="0"><stop offset="0" stop-color="#343434"/><stop offset="0.1895" stop-color="#343434"/><stop offset="0.1943" stop-color="#393939"/><stop offset="0.2002" stop-color="#4e4e4e"/><stop offset="0.2021" stop-color="#4b4b4b"/><stop offset="0.207" stop-color="#383838"/><stop offset="0.2119" stop-color="#343434"/><stop offset="0.4023" stop-color="#353535"/><stop offset="0.4072" stop-color="#3a3a3a"/><stop offset="0.4111" stop-color="#474747"/><stop offset="0.4141" stop-color="#5c5c5c"/><stop offset="0.4209" stop-color="#a1a1a1"/><stop offset="0.4238" stop-color="#adadad"/><stop offset="0.4258" stop-color="#aaaaaa"/><stop offset="0.4277" stop-color="#9d9d9d"/><stop offset="0.4336" stop-color="#616161"/><stop offset="0.4375" stop-color="#454545"/><stop offset="0.4414" stop-color="#393939"/><stop offset="0.4463" stop-color="#353535"/><stop offset="0.6553" stop-color="#353535"/><stop offset="0.6592" stop-color="#3a3a3a"/><stop offset="0.6621" stop-color="#454545"/><stop offset="0.665" stop-color="#5d5d5d"/><stop offset="0.6699" stop-color="#969696"/><stop offset="0.6729" stop-color="#a7a7a7"/><stop offset="0.6738" stop-color="#a6a6a6"/><stop offset="0.6758" stop-color="#9b9b9b"/><stop offset="0.6807" stop-color="#636363"/><stop offset="0.6836" stop-color="#484848"/><stop offset="0.6865" stop-color="#3b3b3b"/><stop offset="0.6914" stop-color="#353535"/><stop offset="1" stop-color="#343434"/></linearGradient><linearGradient id="g85" gradientUnits="userSpaceOnUse" x1="0" x2="820.7" y1="0" y2="0"><stop offset="0" stop-color="#484848"/><stop offset="0.1826" stop-color="#484848"/><stop offset="0.1934" stop-color="#383838"/><stop offset="0.2021" stop-color="#555555"/><stop offset="0.2119" stop-color="#484848"/><stop offset="0.4023" stop-color="#494949"/><stop offset="0.4111" stop-color="#575757"/><stop offset="0.415" stop-color="#6e6e6e"/><stop offset="0.4209" stop-color="#a1a1a1"/><stop offset="0.4238" stop-color="#adadad"/><stop offset="0.4277" stop-color="#9d9d9d"/><stop offset="0.4365" stop-color="#4a4a4a"/><stop offset="0.4404" stop-color="#444444"/><stop offset="0.5186" stop-color="#434343"/><stop offset="0.5303" stop-color="#343434"/><stop offset="0.542" stop-color="#434343"/><stop offset="0.6436" stop-color="#434343"/><stop offset="0.6572" stop-color="#373737"/><stop offset="0.6602" stop-color="#3c3c3c"/><stop offset="0.6631" stop-color="#4c4c4c"/><stop offset="0.6699" stop-color="#969696"/><stop offset="0.6729" stop-color="#a7a7a7"/><stop offset="0.6758" stop-color="#9b9b9b"/><stop offset="0.6797" stop-color="#6f6f6f"/><stop offset="0.6836" stop-color="#505050"/><stop offset="0.6875" stop-color="#434343"/><stop offset="0.6924" stop-color="#404040"/><stop offset="1" stop-color="#3e3e3e"/></linearGradient><linearGradient id="g86" gradientUnits="userSpaceOnUse" x1="0" x2="820.7" y1="0" y2="0"><stop offset="0" stop-color="#717171"/><stop offset="0.1826" stop-color="#707070"/><stop offset="0.1875" stop-color="#696969"/><stop offset="0.1943" stop-color="#393939"/><stop offset="0.1982" stop-color="#494949"/><stop offset="0.2021" stop-color="#6a6a6a"/><stop offset="0.2051" stop-color="#717171"/><stop offset="0.4082" stop-color="#737373"/><stop offset="0.416" stop-color="#848484"/><stop offset="0.4238" stop-color="#adadad"/><stop offset="0.4277" stop-color="#9d9d9d"/><stop offset="0.4365" stop-color="#4a4a4a"/><stop offset="0.4463" stop-color="#616161"/><stop offset="0.5176" stop-color="#616161"/><stop offset="0.5225" stop-color="#5a5a5a"/><stop offset="0.5283" stop-color="#383838"/><stop offset="0.5303" stop-color="#343434"/><stop offset="0.5371" stop-color="#595959"/><stop offset="0.542" stop-color="#616161"/><stop offset="0.6426" stop-color="#616161"/><stop offset="0.6494" stop-color="#5c5c5c"/><stop offset="0.6582" stop-color="#383838"/><stop offset="0.6631" stop-color="#4c4c4c"/><stop offset="0.6699" stop-color="#969696"/><stop offset="0.6729" stop-color="#a7a7a7"/><stop offset="0.6748" stop-color="#a2a2a2"/><stop offset="0.6797" stop-color="#717171"/><stop offset="0.6816" stop-color="#686868"/><stop offset="0.6865" stop-color="#5a5a5a"/><stop offset="0.6934" stop-color="#555555"/><stop offset="1" stop-color="#525252"/></linearGradient><linearGradient id="g87" gradientUnits="userSpaceOnUse" x1="0" x2="820.7" y1="0" y2="0"><stop offset="0" stop-color="#999999"/><stop offset="0.1826" stop-color="#999999"/><stop offset="0.1875" stop-color="#8c8c8c"/><stop offset="0.1895" stop-color="#797979"/><stop offset="0.1934" stop-color="#3e3e3e"/><stop offset="0.1943" stop-color="#393939"/><stop offset="0.1982" stop-color="#494949"/><stop offset="0.2031" stop-color="#898989"/><stop offset="0.208" stop-color="#989898"/><stop offset="0.4053" stop-color="#999999"/><stop offset="0.4189" stop-color="#8f8f8f"/><stop offset="0.4219" stop-color="#a7a7a7"/><stop offset="0.4238" stop-color="#adadad"/><stop offset="0.4277" stop-color="#9d9d9d"/><stop offset="0.4365" stop-color="#4a4a4a"/><stop offset="0.4424" stop-color="#767676"/><stop offset="0.4463" stop-color="#7f7f7f"/><stop offset="0.5166" stop-color="#7f7f7f"/><stop offset="0.5225" stop-color="#747474"/><stop offset="0.5293" stop-color="#343434"/><stop offset="0.5312" stop-color="#373737"/><stop offset="0.5381" stop-color="#767676"/><stop offset="0.5459" stop-color="#808080"/><stop offset="0.6455" stop-color="#7e7e7e"/><stop offset="0.6504" stop-color="#727272"/><stop offset="0.6582" stop-color="#383838"/><stop offset="0.6631" stop-color="#4c4c4c"/><stop offset="0.6699" stop-color="#969696"/><stop offset="0.6729" stop-color="#a7a7a7"/><stop offset="0.6758" stop-color="#9b9b9b"/><stop offset="0.6797" stop-color="#737373"/><stop offset="0.6934" stop-color="#6b6b6b"/><stop offset="1" stop-color="#666666"/></linearGradient><linearGradient id="g88" gradientUnits="userSpaceOnUse" x1="0" x2="820.7" y1="0" y2="0"><stop offset="0" stop-color="#646464"/><stop offset="0.1826" stop-color="#646464"/><stop offset="0.1885" stop-color="#5c5c5c"/><stop offset="0.1953" stop-color="#3c3c3c"/><stop offset="0.207" stop-color="#5d5d5d"/><stop offset="0.2139" stop-color="#646464"/><stop offset="0.4023" stop-color="#646464"/><stop offset="0.4111" stop-color="#727272"/><stop offset="0.4209" stop-color="#b5b5b5"/><stop offset="0.4238" stop-color="#bfbfbf"/><stop offset="0.4277" stop-color="#b2b2b2"/><stop offset="0.4355" stop-color="#797979"/><stop offset="0.4414" stop-color="#676767"/><stop offset="0.5" stop-color="#636363"/><stop offset="0.5107" stop-color="#3f3f3f"/><stop offset="0.5176" stop-color="#5c5c5c"/><stop offset="0.5234" stop-color="#626262"/><stop offset="0.5283" stop-color="#5a5a5a"/><stop offset="0.5371" stop-color="#343434"/><stop offset="0.54" stop-color="#3a3a3a"/><stop offset="0.5469" stop-color="#5c5c5c"/><stop offset="0.5518" stop-color="#626262"/><stop offset="0.6572" stop-color="#636363"/><stop offset="0.6631" stop-color="#727272"/><stop offset="0.6699" stop-color="#aaaaaa"/><stop offset="0.6729" stop-color="#b7b7b7"/><stop offset="0.6758" stop-color="#adadad"/><stop offset="0.6836" stop-color="#707070"/><stop offset="0.6914" stop-color="#616161"/><stop offset="0.8691" stop-color="#5c5c5c"/><stop offset="0.875" stop-color="#555555"/><stop offset="0.8828" stop-color="#343434"/><stop offset="0.8857" stop-color="#343434"/><stop offset="0.8926" stop-color="#535353"/><stop offset="0.8984" stop-color="#5c5c5c"/><stop offset="0.9482" stop-color="#595959"/><stop offset="0.9688" stop-color="#343434"/><stop offset="0.9756" stop-color="#343434"/><stop offset="0.9893" stop-color="#525252"/><stop offset="1" stop-color="#5a5a5a"/></linearGradient><linearGradient id="g89" gradientUnits="userSpaceOnUse" x1="0" x2="820.7" y1="0" y2="0"><stop offset="0" stop-color="#f5f5f5"/><stop offset="0.1826" stop-color="#f2f2f2"/><stop offset="0.1855" stop-color="#ebebeb"/><stop offset="0.1885" stop-color="#d3d3d3"/><stop offset="0.1904" stop-color="#b2b2b2"/><stop offset="0.1943" stop-color="#4e4e4e"/><stop offset="0.1953" stop-color="#3c3c3c"/><stop offset="0.2012" stop-color="#4d4d4d"/><stop offset="0.2021" stop-color="#5b5b5b"/><stop offset="0.2061" stop-color="#bbbbbb"/><stop offset="0.209" stop-color="#e2e2e2"/><stop offset="0.2119" stop-color="#f0f0f0"/><stop offset="0.2158" stop-color="#f3f3f3"/><stop offset="0.4971" stop-color="#f1f1f1"/><stop offset="0.501" stop-color="#eaeaea"/><stop offset="0.5029" stop-color="#dbdbdb"/><stop offset="0.5049" stop-color="#bebebe"/><stop offset="0.5088" stop-color="#6e6e6e"/><stop offset="0.5107" stop-color="#616161"/><stop offset="0.5127" stop-color="#757575"/><stop offset="0.5176" stop-color="#d4d4d4"/><stop offset="0.5195" stop-color="#e6e6e6"/><stop offset="0.5225" stop-color="#ededed"/><stop offset="0.5254" stop-color="#e6e6e6"/><stop offset="0.5283" stop-color="#cdcdcd"/><stop offset="0.5303" stop-color="#adadad"/><stop offset="0.5352" stop-color="#424242"/><stop offset="0.5361" stop-color="#363636"/><stop offset="0.5371" stop-color="#343434"/><stop offset="0.5391" stop-color="#3b3b3b"/><stop offset="0.54" stop-color="#4b4b4b"/><stop offset="0.5439" stop-color="#a2a2a2"/><stop offset="0.5469" stop-color="#d2d2d2"/><stop offset="0.5498" stop-color="#e7e7e7"/><stop offset="0.5537" stop-color="#ededed"/><stop offset="0.8682" stop-color="#d6d6d6"/><stop offset="0.8721" stop-color="#cecece"/><stop offset="0.875" stop-color="#b7b7b7"/><stop offset="0.877" stop-color="#9a9a9a"/><stop offset="0.8809" stop-color="#4b4b4b"/><stop offset="0.8828" stop-color="#343434"/><stop offset="0.8857" stop-color="#353535"/><stop offset="0.8926" stop-color="#b0b0b0"/><stop offset="0.8955" stop-color="#cacaca"/><stop offset="0.8984" stop-color="#d2d2d2"/><stop offset="0.9375" stop-color="#d1d1d1"/><stop offset="0.9482" stop-color="#c7c7c7"/><stop offset="0.9521" stop-color="#bababa"/><stop offset="0.9561" stop-color="#a3a3a3"/><stop offset="0.9658" stop-color="#474747"/><stop offset="0.9688" stop-color="#343434"/><stop offset="0.9756" stop-color="#343434"/><stop offset="0.9893" stop-color="#ababab"/><stop offset="0.9941" stop-color="#c0c0c0"/><stop offset="1" stop-color="#c9c9c9"/></linearGradient><linearGradient id="g90" gradientUnits="userSpaceOnUse" x1="0" x2="820.7" y1="0" y2="0"><stop offset="0" stop-color="#6e6e6e"/><stop offset="0.2051" stop-color="#717171"/><stop offset="0.208" stop-color="#777777"/><stop offset="0.2129" stop-color="#a2a2a2"/><stop offset="0.2158" stop-color="#b4b4b4"/><stop offset="0.2227" stop-color="#bbbbbb"/><stop offset="0.2256" stop-color="#b6b6b6"/><stop offset="0.2275" stop-color="#a9a9a9"/><stop offset="0.2314" stop-color="#838383"/><stop offset="0.2354" stop-color="#737373"/><stop offset="0.3418" stop-color="#787878"/><stop offset="0.4033" stop-color="#8b8b8b"/><stop offset="0.4619" stop-color="#b3b3b3"/><stop offset="0.4902" stop-color="#d6d6d6"/><stop offset="0.5518" stop-color="#d6d6d6"/><stop offset="0.5566" stop-color="#d2d2d2"/><stop offset="0.5703" stop-color="#9f9f9f"/><stop offset="0.5938" stop-color="#646464"/><stop offset="0.6006" stop-color="#585858"/><stop offset="0.7285" stop-color="#535353"/><stop offset="0.7354" stop-color="#585858"/><stop offset="0.7598" stop-color="#828282"/><stop offset="0.7793" stop-color="#bebebe"/><stop offset="0.7852" stop-color="#c5c5c5"/><stop offset="0.8848" stop-color="#c5c5c5"/><stop offset="0.9033" stop-color="#b9b9b9"/><stop offset="1" stop-color="#b4b4b4"/></linearGradient><linearGradient id="g91" gradientUnits="userSpaceOnUse" x1="0" x2="820.7" y1="0" y2="0"><stop offset="0" stop-color="#6b6b6b"/><stop offset="0.2051" stop-color="#6d6d6d"/><stop offset="0.208" stop-color="#747474"/><stop offset="0.21" stop-color="#818181"/><stop offset="0.2129" stop-color="#a0a0a0"/><stop offset="0.2158" stop-color="#b3b3b3"/><stop offset="0.2227" stop-color="#b9b9b9"/><stop offset="0.2256" stop-color="#b3b3b3"/><stop offset="0.2275" stop-color="#a6a6a6"/><stop offset="0.2314" stop-color="#808080"/><stop offset="0.2354" stop-color="#707070"/><stop offset="0.3418" stop-color="#757575"/><stop offset="0.4033" stop-color="#888888"/><stop offset="0.4619" stop-color="#b2b2b2"/><stop offset="0.4902" stop-color="#d6d6d6"/><stop offset="0.5518" stop-color="#d6d6d6"/><stop offset="0.5566" stop-color="#d2d2d2"/><stop offset="0.5703" stop-color="#9f9f9f"/><stop offset="0.5938" stop-color="#636363"/><stop offset="0.6006" stop-color="#585858"/><stop offset="0.7285" stop-color="#525252"/><stop offset="0.7354" stop-color="#575757"/><stop offset="0.7598" stop-color="#828282"/><stop offset="0.7793" stop-color="#bdbdbd"/><stop offset="0.7852" stop-color="#c5c5c5"/><stop offset="0.8848" stop-color="#c5c5c5"/><stop offset="0.9033" stop-color="#b8b8b8"/><stop offset="1" stop-color="#b3b3b3"/></linearGradient><linearGradient id="g92" gradientUnits="userSpaceOnUse" x1="0" x2="820.7" y1="0" y2="0"><stop offset="0" stop-color="#6a6a6a"/><stop offset="0.2051" stop-color="#6c6c6c"/><stop offset="0.208" stop-color="#737373"/><stop offset="0.21" stop-color="#808080"/><stop offset="0.2129" stop-color="#a0a0a0"/><stop offset="0.2158" stop-color="#b3b3b3"/><stop offset="0.2227" stop-color="#b8b8b8"/><stop offset="0.2256" stop-color="#b2b2b2"/><stop offset="0.2275" stop-color="#a6a6a6"/><stop offset="0.2314" stop-color="#7f7f7f"/><stop offset="0.2354" stop-color="#6f6f6f"/><stop offset="0.3428" stop-color="#747474"/><stop offset="0.4033" stop-color="#888888"/><stop offset="0.4619" stop-color="#b2b2b2"/><stop offset="0.4902" stop-color="#d6d6d6"/><stop offset="0.5518" stop-color="#d6d6d6"/><stop offset="0.5566" stop-color="#d2d2d2"/><stop offset="0.5703" stop-color="#9f9f9f"/><stop offset="0.5938" stop-color="#636363"/><stop offset="0.6006" stop-color="#585858"/><stop offset="0.7285" stop-color="#525252"/><stop offset="0.7354" stop-color="#575757"/><stop offset="0.7598" stop-color="#818181"/><stop offset="0.7793" stop-color="#bdbdbd"/><stop offset="0.7852" stop-color="#c4c4c4"/><stop offset="0.8848" stop-color="#c5c5c5"/><stop offset="0.9033" stop-color="#b8b8b8"/><stop offset="1" stop-color="#b3b3b3"/></linearGradient><linearGradient id="g93" gradientUnits="userSpaceOnUse" x1="0" x2="820.7" y1="0" y2="0"><stop offset="0" stop-color="#696969"/><stop offset="0.2051" stop-color="#6c6c6c"/><stop offset="0.208" stop-color="#727272"/><stop offset="0.21" stop-color="#808080"/><stop offset="0.2129" stop-color="#9f9f9f"/><stop offset="0.2158" stop-color="#b3b3b3"/><stop offset="0.2227" stop-color="#b8b8b8"/><stop offset="0.2256" stop-color="#b2b2b2"/><stop offset="0.2275" stop-color="#a5a5a5"/><stop offset="0.2314" stop-color="#7f7f7f"/><stop offset="0.2354" stop-color="#6f6f6f"/><stop offset="0.3428" stop-color="#747474"/><stop offset="0.4033" stop-color="#878787"/><stop offset="0.4619" stop-color="#b1b1b1"/><stop offset="0.4902" stop-color="#d6d6d6"/><stop offset="0.5518" stop-color="#d6d6d6"/><stop offset="0.5566" stop-color="#d2d2d2"/><stop offset="0.5703" stop-color="#9f9f9f"/><stop offset="0.5938" stop-color="#636363"/><stop offset="0.6006" stop-color="#575757"/><stop offset="0.7285" stop-color="#525252"/><stop offset="0.7354" stop-color="#575757"/><stop offset="0.7598" stop-color="#818181"/><stop offset="0.7793" stop-color="#bdbdbd"/><stop offset="0.7852" stop-color="#c4c4c4"/><stop offset="0.8848" stop-color="#c4c4c4"/><stop offset="0.9033" stop-color="#b8b8b8"/><stop offset="1" stop-color="#b3b3b3"/></linearGradient><linearGradient id="g94" gradientUnits="userSpaceOnUse" x1="0" x2="820.7" y1="0" y2="0"><stop offset="0" stop-color="#696969"/><stop offset="0.2051" stop-color="#6b6b6b"/><stop offset="0.208" stop-color="#727272"/><stop offset="0.21" stop-color="#7f7f7f"/><stop offset="0.2139" stop-color="#a7a7a7"/><stop offset="0.2178" stop-color="#b8b8b8"/><stop offset="0.2236" stop-color="#b7b7b7"/><stop offset="0.2256" stop-color="#b2b2b2"/><stop offset="0.2275" stop-color="#a5a5a5"/><stop offset="0.2314" stop-color="#7f7f7f"/><stop offset="0.2354" stop-color="#6e6e6e"/><stop offset="0.3428" stop-color="#737373"/><stop offset="0.4033" stop-color="#878787"/><stop offset="0.4619" stop-color="#b1b1b1"/><stop offset="0.4902" stop-color="#d6d6d6"/><stop offset="0.5518" stop-color="#d6d6d6"/><stop offset="0.5566" stop-color="#d2d2d2"/><stop offset="0.5703" stop-color="#9f9f9f"/><stop offset="0.5938" stop-color="#636363"/><stop offset="0.6006" stop-color="#575757"/><stop offset="0.7285" stop-color="#525252"/><stop offset="0.7354" stop-color="#575757"/><stop offset="0.7598" stop-color="#818181"/><stop offset="0.7793" stop-color="#bcbcbc"/><stop offset="0.7852" stop-color="#c4c4c4"/><stop offset="0.8848" stop-color="#c4c4c4"/><stop offset="0.9033" stop-color="#b7b7b7"/><stop offset="1" stop-color="#b3b3b3"/></linearGradient><linearGradient id="g95" gradientUnits="userSpaceOnUse" x1="0" x2="820.7" y1="0" y2="0"><stop offset="0" stop-color="#696969"/><stop offset="0.2051" stop-color="#6c6c6c"/><stop offset="0.208" stop-color="#727272"/><stop offset="0.21" stop-color="#7f7f7f"/><stop offset="0.2139" stop-color="#a7a7a7"/><stop offset="0.2178" stop-color="#b8b8b8"/><stop offset="0.2236" stop-color="#b7b7b7"/><stop offset="0.2256" stop-color="#b2b2b2"/><stop offset="0.2275" stop-color="#a5a5a5"/><stop offset="0.2314" stop-color="#7f7f7f"/><stop offset="0.2354" stop-color="#6e6e6e"/><stop offset="0.3428" stop-color="#747474"/><stop offset="0.4033" stop-color="#878787"/><stop offset="0.4619" stop-color="#b1b1b1"/><stop offset="0.4902" stop-color="#d6d6d6"/><stop offset="0.5518" stop-color="#d6d6d6"/><stop offset="0.5566" stop-color="#d2d2d2"/><stop offset="0.5703" stop-color="#9f9f9f"/><stop offset="0.5938" stop-color="#636363"/><stop offset="0.6006" stop-color="#575757"/><stop offset="0.7285" stop-color="#525252"/><stop offset="0.7354" stop-color="#575757"/><stop offset="0.7598" stop-color="#818181"/><stop offset="0.7793" stop-color="#bcbcbc"/><stop offset="0.7852" stop-color="#c4c4c4"/><stop offset="0.8848" stop-color="#c4c4c4"/><stop offset="0.9033" stop-color="#b7b7b7"/><stop offset="1" stop-color="#b3b3b3"/></linearGradient><linearGradient id="g96" gradientUnits="userSpaceOnUse" x1="0" x2="820.7" y1="0" y2="0"><stop offset="0" stop-color="#6b6b6b"/><stop offset="0.2051" stop-color="#6e6e6e"/><stop offset="0.208" stop-color="#747474"/><stop offset="0.21" stop-color="#828282"/><stop offset="0.2129" stop-color="#a0a0a0"/><stop offset="0.2158" stop-color="#b4b4b4"/><stop offset="0.2227" stop-color="#b9b9b9"/><stop offset="0.2256" stop-color="#b3b3b3"/><stop offset="0.2275" stop-color="#a7a7a7"/><stop offset="0.2314" stop-color="#818181"/><stop offset="0.2354" stop-color="#707070"/><stop offset="0.3418" stop-color="#757575"/><stop offset="0.4033" stop-color="#898989"/><stop offset="0.4619" stop-color="#b2b2b2"/><stop offset="0.4902" stop-color="#d6d6d6"/><stop offset="0.5518" stop-color="#d6d6d6"/><stop offset="0.5566" stop-color="#d2d2d2"/><stop offset="0.5703" stop-color="#9f9f9f"/><stop offset="0.5938" stop-color="#636363"/><stop offset="0.6006" stop-color="#585858"/><stop offset="0.7285" stop-color="#525252"/><stop offset="0.7354" stop-color="#575757"/><stop offset="0.7598" stop-color="#828282"/><stop offset="0.7793" stop-color="#bdbdbd"/><stop offset="0.7852" stop-color="#c5c5c5"/><stop offset="0.8848" stop-color="#c5c5c5"/><stop offset="0.9033" stop-color="#b8b8b8"/><stop offset="1" stop-color="#b3b3b3"/></linearGradient><linearGradient id="g97" gradientUnits="userSpaceOnUse" x1="0" x2="820.7" y1="0" y2="0"><stop offset="0" stop-color="#6e6e6e"/><stop offset="0.2051" stop-color="#707070"/><stop offset="0.208" stop-color="#767676"/><stop offset="0.21" stop-color="#848484"/><stop offset="0.2129" stop-color="#a2a2a2"/><stop offset="0.2158" stop-color="#b4b4b4"/><stop offset="0.2227" stop-color="#bbbbbb"/><stop offset="0.2256" stop-color="#b5b5b5"/><stop offset="0.2275" stop-color="#a9a9a9"/><stop offset="0.2314" stop-color="#838383"/><stop offset="0.2354" stop-color="#727272"/><stop offset="0.3418" stop-color="#777777"/><stop offset="0.4033" stop-color="#8b8b8b"/><stop offset="0.4619" stop-color="#b3b3b3"/><stop offset="0.4902" stop-color="#d6d6d6"/><stop offset="0.5518" stop-color="#d6d6d6"/><stop offset="0.5566" stop-color="#d2d2d2"/><stop offset="0.5703" stop-color="#9f9f9f"/><stop offset="0.5938" stop-color="#636363"/><stop offset="0.6006" stop-color="#585858"/><stop offset="0.7285" stop-color="#535353"/><stop offset="0.7354" stop-color="#585858"/><stop offset="0.7598" stop-color="#828282"/><stop offset="0.7793" stop-color="#bdbdbd"/><stop offset="0.7852" stop-color="#c5c5c5"/><stop offset="0.8848" stop-color="#c5c5c5"/><stop offset="0.9033" stop-color="#b8b8b8"/><stop offset="1" stop-color="#b4b4b4"/></linearGradient><linearGradient id="g98" gradientUnits="userSpaceOnUse" x1="0" x2="820.7" y1="0" y2="0"><stop offset="0" stop-color="#747474"/><stop offset="0.2051" stop-color="#767676"/><stop offset="0.208" stop-color="#7d7d7d"/><stop offset="0.2129" stop-color="#a6a6a6"/><stop offset="0.2158" stop-color="#b6b6b6"/><stop offset="0.2227" stop-color="#bfbfbf"/><stop offset="0.2256" stop-color="#bababa"/><stop offset="0.2275" stop-color="#aeaeae"/><stop offset="0.2314" stop-color="#898989"/><stop offset="0.2354" stop-color="#787878"/><stop offset="0.3418" stop-color="#7d7d7d"/><stop offset="0.4023" stop-color="#8f8f8f"/><stop offset="0.4639" stop-color="#b7b7b7"/><stop offset="0.4902" stop-color="#d6d6d6"/><stop offset="0.5518" stop-color="#d6d6d6"/><stop offset="0.5566" stop-color="#d2d2d2"/><stop offset="0.5703" stop-color="#a0a0a0"/><stop offset="0.5938" stop-color="#656565"/><stop offset="0.6006" stop-color="#5a5a5a"/><stop offset="0.7285" stop-color="#545454"/><stop offset="0.7354" stop-color="#595959"/><stop offset="0.7598" stop-color="#848484"/><stop offset="0.7793" stop-color="#bfbfbf"/><stop offset="0.7852" stop-color="#c6c6c6"/><stop offset="0.8848" stop-color="#c7c7c7"/><stop offset="0.9033" stop-color="#bababa"/><stop offset="1" stop-color="#b5b5b5"/></linearGradient><linearGradient id="g99" gradientUnits="userSpaceOnUse" x1="0" x2="820.7" y1="0" y2="0"><stop offset="0" stop-color="#7b7b7b"/><stop offset="0.2051" stop-color="#7d7d7d"/><stop offset="0.208" stop-color="#848484"/><stop offset="0.2129" stop-color="#aaaaaa"/><stop offset="0.2158" stop-color="#b8b8b8"/><stop offset="0.2178" stop-color="#bfbfbf"/><stop offset="0.2236" stop-color="#c3c3c3"/><stop offset="0.2256" stop-color="#bfbfbf"/><stop offset="0.2275" stop-color="#b4b4b4"/><stop offset="0.2314" stop-color="#8f8f8f"/><stop offset="0.2354" stop-color="#7f7f7f"/><stop offset="0.3418" stop-color="#838383"/><stop offset="0.4014" stop-color="#949494"/><stop offset="0.4639" stop-color="#bababa"/><stop offset="0.4902" stop-color="#d6d6d6"/><stop offset="0.5518" stop-color="#d6d6d6"/><stop offset="0.5566" stop-color="#d2d2d2"/><stop offset="0.5703" stop-color="#a0a0a0"/><stop offset="0.5938" stop-color="#666666"/><stop offset="0.6006" stop-color="#5b5b5b"/><stop offset="0.7285" stop-color="#565656"/><stop offset="0.7354" stop-color="#5b5b5b"/><stop offset="0.7598" stop-color="#858585"/><stop offset="0.7793" stop-color="#c0c0c0"/><stop offset="0.7852" stop-color="#c8c8c8"/><stop offset="0.8848" stop-color="#c8c8c8"/><stop offset="0.9033" stop-color="#bbbbbb"/><stop offset="1" stop-color="#b6b6b6"/></linearGradient><linearGradient id="g100" gradientUnits="userSpaceOnUse" x1="0" x2="820.7" y1="0" y2="0"><stop offset="0" stop-color="#828282"/><stop offset="0.2051" stop-color="#848484"/><stop offset="0.208" stop-color="#8b8b8b"/><stop offset="0.2129" stop-color="#aeaeae"/><stop offset="0.2168" stop-color="#bfbfbf"/><stop offset="0.2236" stop-color="#c8c8c8"/><stop offset="0.2275" stop-color="#bababa"/><stop offset="0.2314" stop-color="#969696"/><stop offset="0.2354" stop-color="#858585"/><stop offset="0.3418" stop-color="#898989"/><stop offset="0.4004" stop-color="#9a9a9a"/><stop offset="0.4395" stop-color="#b5b5b5"/><stop offset="0.4639" stop-color="#bdbdbd"/><stop offset="0.4902" stop-color="#d6d6d6"/><stop offset="0.5518" stop-color="#d6d6d6"/><stop offset="0.5566" stop-color="#d2d2d2"/><stop offset="0.5693" stop-color="#a3a3a3"/><stop offset="0.5938" stop-color="#676767"/><stop offset="0.6006" stop-color="#5d5d5d"/><stop offset="0.7285" stop-color="#575757"/><stop offset="0.7354" stop-color="#5c5c5c"/><stop offset="0.7598" stop-color="#878787"/><stop offset="0.7793" stop-color="#c2c2c2"/><stop offset="0.7852" stop-color="#cacaca"/><stop offset="0.8848" stop-color="#cacaca"/><stop offset="0.9033" stop-color="#bdbdbd"/><stop offset="1" stop-color="#b8b8b8"/></linearGradient><linearGradient id="g101" gradientUnits="userSpaceOnUse" x1="0" x2="820.7" y1="0" y2="0"><stop offset="0" stop-color="#898989"/><stop offset="0.2051" stop-color="#8b8b8b"/><stop offset="0.208" stop-color="#929292"/><stop offset="0.2129" stop-color="#b2b2b2"/><stop offset="0.2178" stop-color="#c5c5c5"/><stop offset="0.2236" stop-color="#cccccc"/><stop offset="0.2275" stop-color="#bfbfbf"/><stop offset="0.2314" stop-color="#9c9c9c"/><stop offset="0.2354" stop-color="#8c8c8c"/><stop offset="0.3418" stop-color="#8e8e8e"/><stop offset="0.4004" stop-color="#9f9f9f"/><stop offset="0.4395" stop-color="#bababa"/><stop offset="0.4639" stop-color="#c0c0c0"/><stop offset="0.4902" stop-color="#d6d6d6"/><stop offset="0.5518" stop-color="#d6d6d6"/><stop offset="0.5566" stop-color="#d2d2d2"/><stop offset="0.5693" stop-color="#a3a3a3"/><stop offset="0.5986" stop-color="#5f5f5f"/><stop offset="0.7285" stop-color="#595959"/><stop offset="0.7354" stop-color="#5e5e5e"/><stop offset="0.7598" stop-color="#888888"/><stop offset="0.7793" stop-color="#c3c3c3"/><stop offset="0.7852" stop-color="#cbcbcb"/><stop offset="0.8848" stop-color="#cbcbcb"/><stop offset="0.9033" stop-color="#bebebe"/><stop offset="1" stop-color="#b9b9b9"/></linearGradient><linearGradient id="g102" gradientUnits="userSpaceOnUse" x1="0" x2="820.7" y1="0" y2="0"><stop offset="0" stop-color="#8a8a8a"/><stop offset="0.2051" stop-color="#8d8d8d"/><stop offset="0.208" stop-color="#939393"/><stop offset="0.2129" stop-color="#b3b3b3"/><stop offset="0.2178" stop-color="#c5c5c5"/><stop offset="0.2236" stop-color="#cdcdcd"/><stop offset="0.2275" stop-color="#c0c0c0"/><stop offset="0.2314" stop-color="#9d9d9d"/><stop offset="0.2354" stop-color="#8d8d8d"/><stop offset="0.3418" stop-color="#909090"/><stop offset="0.4004" stop-color="#a0a0a0"/><stop offset="0.4395" stop-color="#bbbbbb"/><stop offset="0.4639" stop-color="#c0c0c0"/><stop offset="0.4902" stop-color="#d6d6d6"/><stop offset="0.5518" stop-color="#d6d6d6"/><stop offset="0.5566" stop-color="#d2d2d2"/><stop offset="0.5693" stop-color="#a3a3a3"/><stop offset="0.5986" stop-color="#606060"/><stop offset="0.7285" stop-color="#595959"/><stop offset="0.7354" stop-color="#5e5e5e"/><stop offset="0.7598" stop-color="#888888"/><stop offset="0.7793" stop-color="#c4c4c4"/><stop offset="0.7852" stop-color="#cbcbcb"/><stop offset="0.8848" stop-color="#cccccc"/><stop offset="0.9033" stop-color="#bfbfbf"/><stop offset="1" stop-color="#bababa"/></linearGradient><linearGradient id="g103" gradientUnits="userSpaceOnUse" x1="0" x2="820.7" y1="0" y2="0"><stop offset="0" stop-color="#868686"/><stop offset="0.2051" stop-color="#898989"/><stop offset="0.208" stop-color="#8f8f8f"/><stop offset="0.2129" stop-color="#b1b1b1"/><stop offset="0.2168" stop-color="#c0c0c0"/><stop offset="0.2236" stop-color="#cacaca"/><stop offset="0.2275" stop-color="#bdbdbd"/><stop offset="0.2314" stop-color="#9a9a9a"/><stop offset="0.2354" stop-color="#898989"/><stop offset="0.3418" stop-color="#8c8c8c"/><stop offset="0.4004" stop-color="#9d9d9d"/><stop offset="0.4395" stop-color="#b8b8b8"/><stop offset="0.4639" stop-color="#bfbfbf"/><stop offset="0.4902" stop-color="#d6d6d6"/><stop offset="0.5518" stop-color="#d6d6d6"/><stop offset="0.5576" stop-color="#cfcfcf"/><stop offset="0.5713" stop-color="#9e9e9e"/><stop offset="0.5938" stop-color="#686868"/><stop offset="0.6006" stop-color="#5e5e5e"/><stop offset="0.7285" stop-color="#585858"/><stop offset="0.7354" stop-color="#5d5d5d"/><stop offset="0.7598" stop-color="#878787"/><stop offset="0.7793" stop-color="#c3c3c3"/><stop offset="0.7852" stop-color="#cacaca"/><stop offset="0.8848" stop-color="#cbcbcb"/><stop offset="0.9033" stop-color="#bebebe"/><stop offset="1" stop-color="#b9b9b9"/></linearGradient><linearGradient id="g104" gradientUnits="userSpaceOnUse" x1="0" x2="820.7" y1="0" y2="0"><stop offset="0" stop-color="#7e7e7e"/><stop offset="0.2051" stop-color="#818181"/><stop offset="0.208" stop-color="#878787"/><stop offset="0.2129" stop-color="#acacac"/><stop offset="0.2168" stop-color="#bdbdbd"/><stop offset="0.2236" stop-color="#c5c5c5"/><stop offset="0.2275" stop-color="#b6b6b6"/><stop offset="0.2314" stop-color="#929292"/><stop offset="0.2354" stop-color="#828282"/><stop offset="0.3418" stop-color="#858585"/><stop offset="0.4014" stop-color="#979797"/><stop offset="0.4395" stop-color="#b2b2b2"/><stop offset="0.4639" stop-color="#bcbcbc"/><stop offset="0.4902" stop-color="#d6d6d6"/><stop offset="0.5518" stop-color="#d6d6d6"/><stop offset="0.5566" stop-color="#d2d2d2"/><stop offset="0.5703" stop-color="#a0a0a0"/><stop offset="0.5938" stop-color="#666666"/><stop offset="0.6006" stop-color="#5c5c5c"/><stop offset="0.7285" stop-color="#565656"/><stop offset="0.7354" stop-color="#5b5b5b"/><stop offset="0.7598" stop-color="#868686"/><stop offset="0.7793" stop-color="#c1c1c1"/><stop offset="0.7852" stop-color="#c9c9c9"/><stop offset="0.8848" stop-color="#c9c9c9"/><stop offset="0.9033" stop-color="#bcbcbc"/><stop offset="1" stop-color="#b7b7b7"/></linearGradient><linearGradient id="g105" gradientUnits="userSpaceOnUse" x1="0" x2="820.7" y1="0" y2="0"><stop offset="0" stop-color="#777777"/><stop offset="0.2051" stop-color="#7a7a7a"/><stop offset="0.208" stop-color="#808080"/><stop offset="0.2129" stop-color="#a8a8a8"/><stop offset="0.2158" stop-color="#b7b7b7"/><stop offset="0.2227" stop-color="#c1c1c1"/><stop offset="0.2256" stop-color="#bdbdbd"/><stop offset="0.2275" stop-color="#b1b1b1"/><stop offset="0.2314" stop-color="#8c8c8c"/><stop offset="0.2354" stop-color="#7c7c7c"/><stop offset="0.3418" stop-color="#808080"/><stop offset="0.4023" stop-color="#929292"/><stop offset="0.4639" stop-color="#b9b9b9"/><stop offset="0.4902" stop-color="#d6d6d6"/><stop offset="0.5518" stop-color="#d6d6d6"/><stop offset="0.5566" stop-color="#d2d2d2"/><stop offset="0.5703" stop-color="#a0a0a0"/><stop offset="0.5938" stop-color="#656565"/><stop offset="0.6006" stop-color="#5a5a5a"/><stop offset="0.7285" stop-color="#555555"/><stop offset="0.7354" stop-color="#5a5a5a"/><stop offset="0.7598" stop-color="#848484"/><stop offset="0.7793" stop-color="#c0c0c0"/><stop offset="0.7852" stop-color="#c7c7c7"/><stop offset="0.8848" stop-color="#c8c8c8"/><stop offset="0.9033" stop-color="#bbbbbb"/><stop offset="1" stop-color="#b6b6b6"/></linearGradient><linearGradient id="g106" gradientUnits="userSpaceOnUse" x1="0" x2="820.7" y1="0" y2="0"><stop offset="0" stop-color="#b3b3b3"/><stop offset="0.2051" stop-color="#b5b5b5"/><stop offset="0.2129" stop-color="#cfcfcf"/><stop offset="0.2148" stop-color="#cacaca"/><stop offset="0.2178" stop-color="#dadada"/><stop offset="0.2236" stop-color="#dfdfdf"/><stop offset="0.2275" stop-color="#d7d7d7"/><stop offset="0.2354" stop-color="#b6b6b6"/><stop offset="0.3418" stop-color="#b8b8b8"/><stop offset="0.4404" stop-color="#d4d4d4"/><stop offset="0.5518" stop-color="#d6d6d6"/><stop offset="0.5576" stop-color="#cfcfcf"/><stop offset="0.5703" stop-color="#a3a3a3"/><stop offset="0.5986" stop-color="#6b6b6b"/><stop offset="0.7285" stop-color="#656565"/><stop offset="0.7354" stop-color="#6a6a6a"/><stop offset="0.7598" stop-color="#949494"/><stop offset="0.7793" stop-color="#d0d0d0"/><stop offset="0.7852" stop-color="#d7d7d7"/><stop offset="0.8848" stop-color="#d8d8d8"/><stop offset="0.9033" stop-color="#cbcbcb"/><stop offset="1" stop-color="#c6c6c6"/></linearGradient><linearGradient id="g107" gradientUnits="userSpaceOnUse" x1="0" x2="820.7" y1="0" y2="0"><stop offset="0" stop-color="#ededed"/><stop offset="0.2051" stop-color="#f0f0f0"/><stop offset="0.2129" stop-color="#f7f7f7"/><stop offset="0.2139" stop-color="#f6f6f6"/><stop offset="0.2148" stop-color="#e4e4e4"/><stop offset="0.2178" stop-color="#f7f7f7"/><stop offset="0.2324" stop-color="#f7f7f7"/><stop offset="0.2354" stop-color="#f0f0f0"/><stop offset="0.4629" stop-color="#f7f7f7"/><stop offset="0.4883" stop-color="#d5d5d5"/><stop offset="0.5547" stop-color="#d5d5d5"/><stop offset="0.5693" stop-color="#a9a9a9"/><stop offset="0.5986" stop-color="#7c7c7c"/><stop offset="0.7275" stop-color="#777777"/><stop offset="0.7354" stop-color="#7b7b7b"/><stop offset="0.7598" stop-color="#a6a6a6"/><stop offset="0.7793" stop-color="#e1e1e1"/><stop offset="0.7852" stop-color="#e9e9e9"/><stop offset="0.8848" stop-color="#e9e9e9"/><stop offset="0.9033" stop-color="#dcdcdc"/><stop offset="1" stop-color="#d7d7d7"/></linearGradient><filter id="f00" filterUnits="userSpaceOnUse" x="-12" y="-3" width="846" height="70" color-interpolation-filters="sRGB"><feTurbulence type="fractalNoise" baseFrequency="1.3" numOctaves="1" seed="1"/><feColorMatrix type="matrix" values="1 0 0 0 0 1 0 0 0 0 1 0 0 0 0 0 0 0 0 1" result="n"/><feComposite in="SourceGraphic" in2="n" operator="arithmetic" k1="0" k2="1" k3="0.12" k4="-0.06"/><feComposite in2="SourceGraphic" operator="in"/><feComponentTransfer><feFuncR type="table" tableValues="0.05 0.106 0.149 0.193 0.228 0.268 0.3 0.338 0.369 0.406 0.436 0.466 0.501 0.529 0.563 0.59 0.621 0.646 0.675 0.697 0.719 0.744 0.764 0.787 0.805 0.827 0.843 0.863 0.878 0.893 0.91 0.923 0.938 0.949 0.961 0.97 0.979 0.985 0.99 0.993 0.995 0.993 0.99 0.984 0.976 0.964 0.952 0.94"/><feFuncG type="table" tableValues="0.03 0.024 0.021 0.018 0.016 0.013 0.01 0.006 0.003 0.001 0.001 0.005 0.014 0.028 0.052 0.073 0.099 0.121 0.147 0.17 0.192 0.218 0.24 0.267 0.289 0.316 0.338 0.365 0.388 0.411 0.439 0.463 0.493 0.518 0.549 0.575 0.608 0.635 0.664 0.699 0.729 0.765 0.797 0.835 0.868 0.908 0.942 0.975"/><feFuncB type="table" tableValues="0.528 0.551 0.571 0.59 0.605 0.62 0.632 0.643 0.651 0.657 0.66 0.66 0.657 0.652 0.642 0.63 0.614 0.599 0.579 0.561 0.543 0.521 0.502 0.48 0.462 0.441 0.424 0.404 0.387 0.37 0.35 0.333 0.313 0.296 0.275 0.258 0.238 0.221 0.205 0.186 0.172 0.157 0.148 0.143 0.143 0.149 0.153 0.131"/></feComponentTransfer></filter><filter id="f01" filterUnits="userSpaceOnUse" x="-12" y="-3" width="846" height="70" color-interpolation-filters="sRGB"><feTurbulence type="fractalNoise" baseFrequency="1.3" numOctaves="1" seed="2"/><feColorMatrix type="matrix" values="1 0 0 0 0 1 0 0 0 0 1 0 0 0 0 0 0 0 0 1" result="n"/><feComposite in="SourceGraphic" in2="n" operator="arithmetic" k1="0" k2="1" k3="0.12" k4="-0.06"/><feComposite in2="SourceGraphic" operator="in"/><feComponentTransfer><feFuncR type="table" tableValues="0.05 0.106 0.149 0.193 0.228 0.268 0.3 0.338 0.369 0.406 0.436 0.466 0.501 0.529 0.563 0.59 0.621 0.646 0.675 0.697 0.719 0.744 0.764 0.787 0.805 0.827 0.843 0.863 0.878 0.893 0.91 0.923 0.938 0.949 0.961 0.97 0.979 0.985 0.99 0.993 0.995 0.993 0.99 0.984 0.976 0.964 0.952 0.94"/><feFuncG type="table" tableValues="0.03 0.024 0.021 0.018 0.016 0.013 0.01 0.006 0.003 0.001 0.001 0.005 0.014 0.028 0.052 0.073 0.099 0.121 0.147 0.17 0.192 0.218 0.24 0.267 0.289 0.316 0.338 0.365 0.388 0.411 0.439 0.463 0.493 0.518 0.549 0.575 0.608 0.635 0.664 0.699 0.729 0.765 0.797 0.835 0.868 0.908 0.942 0.975"/><feFuncB type="table" tableValues="0.528 0.551 0.571 0.59 0.605 0.62 0.632 0.643 0.651 0.657 0.66 0.66 0.657 0.652 0.642 0.63 0.614 0.599 0.579 0.561 0.543 0.521 0.502 0.48 0.462 0.441 0.424 0.404 0.387 0.37 0.35 0.333 0.313 0.296 0.275 0.258 0.238 0.221 0.205 0.186 0.172 0.157 0.148 0.143 0.143 0.149 0.153 0.131"/></feComponentTransfer></filter><filter id="f02" filterUnits="userSpaceOnUse" x="-12" y="-3" width="846" height="70" color-interpolation-filters="sRGB"><feTurbulence type="fractalNoise" baseFrequency="1.3" numOctaves="1" seed="3"/><feColorMatrix type="matrix" values="1 0 0 0 0 1 0 0 0 0 1 0 0 0 0 0 0 0 0 1" result="n"/><feComposite in="SourceGraphic" in2="n" operator="arithmetic" k1="0" k2="1" k3="0.32" k4="-0.16"/><feComposite in2="SourceGraphic" operator="in"/><feComponentTransfer><feFuncR type="table" tableValues="0.05 0.106 0.149 0.193 0.228 0.268 0.3 0.338 0.369 0.406 0.436 0.466 0.501 0.529 0.563 0.59 0.621 0.646 0.675 0.697 0.719 0.744 0.764 0.787 0.805 0.827 0.843 0.863 0.878 0.893 0.91 0.923 0.938 0.949 0.961 0.97 0.979 0.985 0.99 0.993 0.995 0.993 0.99 0.984 0.976 0.964 0.952 0.94"/><feFuncG type="table" tableValues="0.03 0.024 0.021 0.018 0.016 0.013 0.01 0.006 0.003 0.001 0.001 0.005 0.014 0.028 0.052 0.073 0.099 0.121 0.147 0.17 0.192 0.218 0.24 0.267 0.289 0.316 0.338 0.365 0.388 0.411 0.439 0.463 0.493 0.518 0.549 0.575 0.608 0.635 0.664 0.699 0.729 0.765 0.797 0.835 0.868 0.908 0.942 0.975"/><feFuncB type="table" tableValues="0.528 0.551 0.571 0.59 0.605 0.62 0.632 0.643 0.651 0.657 0.66 0.66 0.657 0.652 0.642 0.63 0.614 0.599 0.579 0.561 0.543 0.521 0.502 0.48 0.462 0.441 0.424 0.404 0.387 0.37 0.35 0.333 0.313 0.296 0.275 0.258 0.238 0.221 0.205 0.186 0.172 0.157 0.148 0.143 0.143 0.149 0.153 0.131"/></feComponentTransfer></filter><filter id="f03" filterUnits="userSpaceOnUse" x="-12" y="-3" width="846" height="70" color-interpolation-filters="sRGB"><feTurbulence type="fractalNoise" baseFrequency="1.3" numOctaves="1" seed="4"/><feColorMatrix type="matrix" values="1 0 0 0 0 1 0 0 0 0 1 0 0 0 0 0 0 0 0 1" result="n"/><feComposite in="SourceGraphic" in2="n" operator="arithmetic" k1="0" k2="1" k3="1.1" k4="-0.55"/><feComposite in2="SourceGraphic" operator="in"/><feComponentTransfer><feFuncR type="table" tableValues="0.05 0.106 0.149 0.193 0.228 0.268 0.3 0.338 0.369 0.406 0.436 0.466 0.501 0.529 0.563 0.59 0.621 0.646 0.675 0.697 0.719 0.744 0.764 0.787 0.805 0.827 0.843 0.863 0.878 0.893 0.91 0.923 0.938 0.949 0.961 0.97 0.979 0.985 0.99 0.993 0.995 0.993 0.99 0.984 0.976 0.964 0.952 0.94"/><feFuncG type="table" tableValues="0.03 0.024 0.021 0.018 0.016 0.013 0.01 0.006 0.003 0.001 0.001 0.005 0.014 0.028 0.052 0.073 0.099 0.121 0.147 0.17 0.192 0.218 0.24 0.267 0.289 0.316 0.338 0.365 0.388 0.411 0.439 0.463 0.493 0.518 0.549 0.575 0.608 0.635 0.664 0.699 0.729 0.765 0.797 0.835 0.868 0.908 0.942 0.975"/><feFuncB type="table" tableValues="0.528 0.551 0.571 0.59 0.605 0.62 0.632 0.643 0.651 0.657 0.66 0.66 0.657 0.652 0.642 0.63 0.614 0.599 0.579 0.561 0.543 0.521 0.502 0.48 0.462 0.441 0.424 0.404 0.387 0.37 0.35 0.333 0.313 0.296 0.275 0.258 0.238 0.221 0.205 0.186 0.172 0.157 0.148 0.143 0.143 0.149 0.153 0.131"/></feComponentTransfer></filter><filter id="f04" filterUnits="userSpaceOnUse" x="-12" y="-3" width="846" height="70" color-interpolation-filters="sRGB"><feTurbulence type="fractalNoise" baseFrequency="1.3" numOctaves="1" seed="5"/><feColorMatrix type="matrix" values="1 0 0 0 0 1 0 0 0 0 1 0 0 0 0 0 0 0 0 1" result="n"/><feComposite in="SourceGraphic" in2="n" operator="arithmetic" k1="0" k2="1" k3="1.1" k4="-0.55"/><feComposite in2="SourceGraphic" operator="in"/><feComponentTransfer><feFuncR type="table" tableValues="0.05 0.106 0.149 0.193 0.228 0.268 0.3 0.338 0.369 0.406 0.436 0.466 0.501 0.529 0.563 0.59 0.621 0.646 0.675 0.697 0.719 0.744 0.764 0.787 0.805 0.827 0.843 0.863 0.878 0.893 0.91 0.923 0.938 0.949 0.961 0.97 0.979 0.985 0.99 0.993 0.995 0.993 0.99 0.984 0.976 0.964 0.952 0.94"/><feFuncG type="table" tableValues="0.03 0.024 0.021 0.018 0.016 0.013 0.01 0.006 0.003 0.001 0.001 0.005 0.014 0.028 0.052 0.073 0.099 0.121 0.147 0.17 0.192 0.218 0.24 0.267 0.289 0.316 0.338 0.365 0.388 0.411 0.439 0.463 0.493 0.518 0.549 0.575 0.608 0.635 0.664 0.699 0.729 0.765 0.797 0.835 0.868 0.908 0.942 0.975"/><feFuncB type="table" tableValues="0.528 0.551 0.571 0.59 0.605 0.62 0.632 0.643 0.651 0.657 0.66 0.66 0.657 0.652 0.642 0.63 0.614 0.599 0.579 0.561 0.543 0.521 0.502 0.48 0.462 0.441 0.424 0.404 0.387 0.37 0.35 0.333 0.313 0.296 0.275 0.258 0.238 0.221 0.205 0.186 0.172 0.157 0.148 0.143 0.143 0.149 0.153 0.131"/></feComponentTransfer></filter><filter id="f05" filterUnits="userSpaceOnUse" x="-12" y="-3" width="846" height="70" color-interpolation-filters="sRGB"><feTurbulence type="fractalNoise" baseFrequency="1.3" numOctaves="1" seed="6"/><feColorMatrix type="matrix" values="1 0 0 0 0 1 0 0 0 0 1 0 0 0 0 0 0 0 0 1" result="n"/><feComposite in="SourceGraphic" in2="n" operator="arithmetic" k1="0" k2="1" k3="1.25" k4="-0.625"/><feComposite in2="SourceGraphic" operator="in"/><feComponentTransfer><feFuncR type="table" tableValues="0.05 0.106 0.149 0.193 0.228 0.268 0.3 0.338 0.369 0.406 0.436 0.466 0.501 0.529 0.563 0.59 0.621 0.646 0.675 0.697 0.719 0.744 0.764 0.787 0.805 0.827 0.843 0.863 0.878 0.893 0.91 0.923 0.938 0.949 0.961 0.97 0.979 0.985 0.99 0.993 0.995 0.993 0.99 0.984 0.976 0.964 0.952 0.94"/><feFuncG type="table" tableValues="0.03 0.024 0.021 0.018 0.016 0.013 0.01 0.006 0.003 0.001 0.001 0.005 0.014 0.028 0.052 0.073 0.099 0.121 0.147 0.17 0.192 0.218 0.24 0.267 0.289 0.316 0.338 0.365 0.388 0.411 0.439 0.463 0.493 0.518 0.549 0.575 0.608 0.635 0.664 0.699 0.729 0.765 0.797 0.835 0.868 0.908 0.942 0.975"/><feFuncB type="table" tableValues="0.528 0.551 0.571 0.59 0.605 0.62 0.632 0.643 0.651 0.657 0.66 0.66 0.657 0.652 0.642 0.63 0.614 0.599 0.579 0.561 0.543 0.521 0.502 0.48 0.462 0.441 0.424 0.404 0.387 0.37 0.35 0.333 0.313 0.296 0.275 0.258 0.238 0.221 0.205 0.186 0.172 0.157 0.148 0.143 0.143 0.149 0.153 0.131"/></feComponentTransfer></filter><filter id="f10" filterUnits="userSpaceOnUse" x="-12" y="-3" width="846" height="70" color-interpolation-filters="sRGB"><feTurbulence type="fractalNoise" baseFrequency="1.3" numOctaves="1" seed="8"/><feColorMatrix type="matrix" values="1 0 0 0 0 1 0 0 0 0 1 0 0 0 0 0 0 0 0 1" result="n"/><feComposite in="SourceGraphic" in2="n" operator="arithmetic" k1="0" k2="1" k3="0.12" k4="-0.06"/><feComposite in2="SourceGraphic" operator="in"/><feComponentTransfer><feFuncR type="table" tableValues="0.05 0.106 0.149 0.193 0.228 0.268 0.3 0.338 0.369 0.406 0.436 0.466 0.501 0.529 0.563 0.59 0.621 0.646 0.675 0.697 0.719 0.744 0.764 0.787 0.805 0.827 0.843 0.863 0.878 0.893 0.91 0.923 0.938 0.949 0.961 0.97 0.979 0.985 0.99 0.993 0.995 0.993 0.99 0.984 0.976 0.964 0.952 0.94"/><feFuncG type="table" tableValues="0.03 0.024 0.021 0.018 0.016 0.013 0.01 0.006 0.003 0.001 0.001 0.005 0.014 0.028 0.052 0.073 0.099 0.121 0.147 0.17 0.192 0.218 0.24 0.267 0.289 0.316 0.338 0.365 0.388 0.411 0.439 0.463 0.493 0.518 0.549 0.575 0.608 0.635 0.664 0.699 0.729 0.765 0.797 0.835 0.868 0.908 0.942 0.975"/><feFuncB type="table" tableValues="0.528 0.551 0.571 0.59 0.605 0.62 0.632 0.643 0.651 0.657 0.66 0.66 0.657 0.652 0.642 0.63 0.614 0.599 0.579 0.561 0.543 0.521 0.502 0.48 0.462 0.441 0.424 0.404 0.387 0.37 0.35 0.333 0.313 0.296 0.275 0.258 0.238 0.221 0.205 0.186 0.172 0.157 0.148 0.143 0.143 0.149 0.153 0.131"/></feComponentTransfer></filter><filter id="f11" filterUnits="userSpaceOnUse" x="-12" y="-3" width="846" height="70" color-interpolation-filters="sRGB"><feTurbulence type="fractalNoise" baseFrequency="1.3" numOctaves="1" seed="9"/><feColorMatrix type="matrix" values="1 0 0 0 0 1 0 0 0 0 1 0 0 0 0 0 0 0 0 1" result="n"/><feComposite in="SourceGraphic" in2="n" operator="arithmetic" k1="0" k2="1" k3="0.12" k4="-0.06"/><feComposite in2="SourceGraphic" operator="in"/><feComponentTransfer><feFuncR type="table" tableValues="0.05 0.106 0.149 0.193 0.228 0.268 0.3 0.338 0.369 0.406 0.436 0.466 0.501 0.529 0.563 0.59 0.621 0.646 0.675 0.697 0.719 0.744 0.764 0.787 0.805 0.827 0.843 0.863 0.878 0.893 0.91 0.923 0.938 0.949 0.961 0.97 0.979 0.985 0.99 0.993 0.995 0.993 0.99 0.984 0.976 0.964 0.952 0.94"/><feFuncG type="table" tableValues="0.03 0.024 0.021 0.018 0.016 0.013 0.01 0.006 0.003 0.001 0.001 0.005 0.014 0.028 0.052 0.073 0.099 0.121 0.147 0.17 0.192 0.218 0.24 0.267 0.289 0.316 0.338 0.365 0.388 0.411 0.439 0.463 0.493 0.518 0.549 0.575 0.608 0.635 0.664 0.699 0.729 0.765 0.797 0.835 0.868 0.908 0.942 0.975"/><feFuncB type="table" tableValues="0.528 0.551 0.571 0.59 0.605 0.62 0.632 0.643 0.651 0.657 0.66 0.66 0.657 0.652 0.642 0.63 0.614 0.599 0.579 0.561 0.543 0.521 0.502 0.48 0.462 0.441 0.424 0.404 0.387 0.37 0.35 0.333 0.313 0.296 0.275 0.258 0.238 0.221 0.205 0.186 0.172 0.157 0.148 0.143 0.143 0.149 0.153 0.131"/></feComponentTransfer></filter><filter id="f12" filterUnits="userSpaceOnUse" x="-12" y="-3" width="846" height="70" color-interpolation-filters="sRGB"><feTurbulence type="fractalNoise" baseFrequency="1.3" numOctaves="1" seed="10"/><feColorMatrix type="matrix" values="1 0 0 0 0 1 0 0 0 0 1 0 0 0 0 0 0 0 0 1" result="n"/><feComposite in="SourceGraphic" in2="n" operator="arithmetic" k1="0" k2="1" k3="0.32" k4="-0.16"/><feComposite in2="SourceGraphic" operator="in"/><feComponentTransfer><feFuncR type="table" tableValues="0.05 0.106 0.149 0.193 0.228 0.268 0.3 0.338 0.369 0.406 0.436 0.466 0.501 0.529 0.563 0.59 0.621 0.646 0.675 0.697 0.719 0.744 0.764 0.787 0.805 0.827 0.843 0.863 0.878 0.893 0.91 0.923 0.938 0.949 0.961 0.97 0.979 0.985 0.99 0.993 0.995 0.993 0.99 0.984 0.976 0.964 0.952 0.94"/><feFuncG type="table" tableValues="0.03 0.024 0.021 0.018 0.016 0.013 0.01 0.006 0.003 0.001 0.001 0.005 0.014 0.028 0.052 0.073 0.099 0.121 0.147 0.17 0.192 0.218 0.24 0.267 0.289 0.316 0.338 0.365 0.388 0.411 0.439 0.463 0.493 0.518 0.549 0.575 0.608 0.635 0.664 0.699 0.729 0.765 0.797 0.835 0.868 0.908 0.942 0.975"/><feFuncB type="table" tableValues="0.528 0.551 0.571 0.59 0.605 0.62 0.632 0.643 0.651 0.657 0.66 0.66 0.657 0.652 0.642 0.63 0.614 0.599 0.579 0.561 0.543 0.521 0.502 0.48 0.462 0.441 0.424 0.404 0.387 0.37 0.35 0.333 0.313 0.296 0.275 0.258 0.238 0.221 0.205 0.186 0.172 0.157 0.148 0.143 0.143 0.149 0.153 0.131"/></feComponentTransfer></filter><filter id="f13" filterUnits="userSpaceOnUse" x="-12" y="-3" width="846" height="70" color-interpolation-filters="sRGB"><feTurbulence type="fractalNoise" baseFrequency="1.3" numOctaves="1" seed="11"/><feColorMatrix type="matrix" values="1 0 0 0 0 1 0 0 0 0 1 0 0 0 0 0 0 0 0 1" result="n"/><feComposite in="SourceGraphic" in2="n" operator="arithmetic" k1="0" k2="1" k3="1.1" k4="-0.55"/><feComposite in2="SourceGraphic" operator="in"/><feComponentTransfer><feFuncR type="table" tableValues="0.05 0.106 0.149 0.193 0.228 0.268 0.3 0.338 0.369 0.406 0.436 0.466 0.501 0.529 0.563 0.59 0.621 0.646 0.675 0.697 0.719 0.744 0.764 0.787 0.805 0.827 0.843 0.863 0.878 0.893 0.91 0.923 0.938 0.949 0.961 0.97 0.979 0.985 0.99 0.993 0.995 0.993 0.99 0.984 0.976 0.964 0.952 0.94"/><feFuncG type="table" tableValues="0.03 0.024 0.021 0.018 0.016 0.013 0.01 0.006 0.003 0.001 0.001 0.005 0.014 0.028 0.052 0.073 0.099 0.121 0.147 0.17 0.192 0.218 0.24 0.267 0.289 0.316 0.338 0.365 0.388 0.411 0.439 0.463 0.493 0.518 0.549 0.575 0.608 0.635 0.664 0.699 0.729 0.765 0.797 0.835 0.868 0.908 0.942 0.975"/><feFuncB type="table" tableValues="0.528 0.551 0.571 0.59 0.605 0.62 0.632 0.643 0.651 0.657 0.66 0.66 0.657 0.652 0.642 0.63 0.614 0.599 0.579 0.561 0.543 0.521 0.502 0.48 0.462 0.441 0.424 0.404 0.387 0.37 0.35 0.333 0.313 0.296 0.275 0.258 0.238 0.221 0.205 0.186 0.172 0.157 0.148 0.143 0.143 0.149 0.153 0.131"/></feComponentTransfer></filter><filter id="f14" filterUnits="userSpaceOnUse" x="-12" y="-3" width="846" height="70" color-interpolation-filters="sRGB"><feTurbulence type="fractalNoise" baseFrequency="1.3" numOctaves="1" seed="12"/><feColorMatrix type="matrix" values="1 0 0 0 0 1 0 0 0 0 1 0 0 0 0 0 0 0 0 1" result="n"/><feComposite in="SourceGraphic" in2="n" operator="arithmetic" k1="0" k2="1" k3="1.1" k4="-0.55"/><feComposite in2="SourceGraphic" operator="in"/><feComponentTransfer><feFuncR type="table" tableValues="0.05 0.106 0.149 0.193 0.228 0.268 0.3 0.338 0.369 0.406 0.436 0.466 0.501 0.529 0.563 0.59 0.621 0.646 0.675 0.697 0.719 0.744 0.764 0.787 0.805 0.827 0.843 0.863 0.878 0.893 0.91 0.923 0.938 0.949 0.961 0.97 0.979 0.985 0.99 0.993 0.995 0.993 0.99 0.984 0.976 0.964 0.952 0.94"/><feFuncG type="table" tableValues="0.03 0.024 0.021 0.018 0.016 0.013 0.01 0.006 0.003 0.001 0.001 0.005 0.014 0.028 0.052 0.073 0.099 0.121 0.147 0.17 0.192 0.218 0.24 0.267 0.289 0.316 0.338 0.365 0.388 0.411 0.439 0.463 0.493 0.518 0.549 0.575 0.608 0.635 0.664 0.699 0.729 0.765 0.797 0.835 0.868 0.908 0.942 0.975"/><feFuncB type="table" tableValues="0.528 0.551 0.571 0.59 0.605 0.62 0.632 0.643 0.651 0.657 0.66 0.66 0.657 0.652 0.642 0.63 0.614 0.599 0.579 0.561 0.543 0.521 0.502 0.48 0.462 0.441 0.424 0.404 0.387 0.37 0.35 0.333 0.313 0.296 0.275 0.258 0.238 0.221 0.205 0.186 0.172 0.157 0.148 0.143 0.143 0.149 0.153 0.131"/></feComponentTransfer></filter><filter id="f15" filterUnits="userSpaceOnUse" x="-12" y="-3" width="846" height="70" color-interpolation-filters="sRGB"><feTurbulence type="fractalNoise" baseFrequency="1.3" numOctaves="1" seed="13"/><feColorMatrix type="matrix" values="1 0 0 0 0 1 0 0 0 0 1 0 0 0 0 0 0 0 0 1" result="n"/><feComposite in="SourceGraphic" in2="n" operator="arithmetic" k1="0" k2="1" k3="1.25" k4="-0.625"/><feComposite in2="SourceGraphic" operator="in"/><feComponentTransfer><feFuncR type="table" tableValues="0.05 0.106 0.149 0.193 0.228 0.268 0.3 0.338 0.369 0.406 0.436 0.466 0.501 0.529 0.563 0.59 0.621 0.646 0.675 0.697 0.719 0.744 0.764 0.787 0.805 0.827 0.843 0.863 0.878 0.893 0.91 0.923 0.938 0.949 0.961 0.97 0.979 0.985 0.99 0.993 0.995 0.993 0.99 0.984 0.976 0.964 0.952 0.94"/><feFuncG type="table" tableValues="0.03 0.024 0.021 0.018 0.016 0.013 0.01 0.006 0.003 0.001 0.001 0.005 0.014 0.028 0.052 0.073 0.099 0.121 0.147 0.17 0.192 0.218 0.24 0.267 0.289 0.316 0.338 0.365 0.388 0.411 0.439 0.463 0.493 0.518 0.549 0.575 0.608 0.635 0.664 0.699 0.729 0.765 0.797 0.835 0.868 0.908 0.942 0.975"/><feFuncB type="table" tableValues="0.528 0.551 0.571 0.59 0.605 0.62 0.632 0.643 0.651 0.657 0.66 0.66 0.657 0.652 0.642 0.63 0.614 0.599 0.579 0.561 0.543 0.521 0.502 0.48 0.462 0.441 0.424 0.404 0.387 0.37 0.35 0.333 0.313 0.296 0.275 0.258 0.238 0.221 0.205 0.186 0.172 0.157 0.148 0.143 0.143 0.149 0.153 0.131"/></feComponentTransfer></filter><filter id="f20" filterUnits="userSpaceOnUse" x="-12" y="-3" width="846" height="70" color-interpolation-filters="sRGB"><feTurbulence type="fractalNoise" baseFrequency="1.3" numOctaves="1" seed="15"/><feColorMatrix type="matrix" values="1 0 0 0 0 1 0 0 0 0 1 0 0 0 0 0 0 0 0 1" result="n"/><feComposite in="SourceGraphic" in2="n" operator="arithmetic" k1="0" k2="1" k3="0.12" k4="-0.06"/><feComposite in2="SourceGraphic" operator="in"/><feComponentTransfer><feFuncR type="table" tableValues="0.05 0.106 0.149 0.193 0.228 0.268 0.3 0.338 0.369 0.406 0.436 0.466 0.501 0.529 0.563 0.59 0.621 0.646 0.675 0.697 0.719 0.744 0.764 0.787 0.805 0.827 0.843 0.863 0.878 0.893 0.91 0.923 0.938 0.949 0.961 0.97 0.979 0.985 0.99 0.993 0.995 0.993 0.99 0.984 0.976 0.964 0.952 0.94"/><feFuncG type="table" tableValues="0.03 0.024 0.021 0.018 0.016 0.013 0.01 0.006 0.003 0.001 0.001 0.005 0.014 0.028 0.052 0.073 0.099 0.121 0.147 0.17 0.192 0.218 0.24 0.267 0.289 0.316 0.338 0.365 0.388 0.411 0.439 0.463 0.493 0.518 0.549 0.575 0.608 0.635 0.664 0.699 0.729 0.765 0.797 0.835 0.868 0.908 0.942 0.975"/><feFuncB type="table" tableValues="0.528 0.551 0.571 0.59 0.605 0.62 0.632 0.643 0.651 0.657 0.66 0.66 0.657 0.652 0.642 0.63 0.614 0.599 0.579 0.561 0.543 0.521 0.502 0.48 0.462 0.441 0.424 0.404 0.387 0.37 0.35 0.333 0.313 0.296 0.275 0.258 0.238 0.221 0.205 0.186 0.172 0.157 0.148 0.143 0.143 0.149 0.153 0.131"/></feComponentTransfer></filter><filter id="f21" filterUnits="userSpaceOnUse" x="-12" y="-3" width="846" height="70" color-interpolation-filters="sRGB"><feTurbulence type="fractalNoise" baseFrequency="1.3" numOctaves="1" seed="16"/><feColorMatrix type="matrix" values="1 0 0 0 0 1 0 0 0 0 1 0 0 0 0 0 0 0 0 1" result="n"/><feComposite in="SourceGraphic" in2="n" operator="arithmetic" k1="0" k2="1" k3="0.12" k4="-0.06"/><feComposite in2="SourceGraphic" operator="in"/><feComponentTransfer><feFuncR type="table" tableValues="0.05 0.106 0.149 0.193 0.228 0.268 0.3 0.338 0.369 0.406 0.436 0.466 0.501 0.529 0.563 0.59 0.621 0.646 0.675 0.697 0.719 0.744 0.764 0.787 0.805 0.827 0.843 0.863 0.878 0.893 0.91 0.923 0.938 0.949 0.961 0.97 0.979 0.985 0.99 0.993 0.995 0.993 0.99 0.984 0.976 0.964 0.952 0.94"/><feFuncG type="table" tableValues="0.03 0.024 0.021 0.018 0.016 0.013 0.01 0.006 0.003 0.001 0.001 0.005 0.014 0.028 0.052 0.073 0.099 0.121 0.147 0.17 0.192 0.218 0.24 0.267 0.289 0.316 0.338 0.365 0.388 0.411 0.439 0.463 0.493 0.518 0.549 0.575 0.608 0.635 0.664 0.699 0.729 0.765 0.797 0.835 0.868 0.908 0.942 0.975"/><feFuncB type="table" tableValues="0.528 0.551 0.571 0.59 0.605 0.62 0.632 0.643 0.651 0.657 0.66 0.66 0.657 0.652 0.642 0.63 0.614 0.599 0.579 0.561 0.543 0.521 0.502 0.48 0.462 0.441 0.424 0.404 0.387 0.37 0.35 0.333 0.313 0.296 0.275 0.258 0.238 0.221 0.205 0.186 0.172 0.157 0.148 0.143 0.143 0.149 0.153 0.131"/></feComponentTransfer></filter><filter id="f22" filterUnits="userSpaceOnUse" x="-12" y="-3" width="846" height="70" color-interpolation-filters="sRGB"><feTurbulence type="fractalNoise" baseFrequency="1.3" numOctaves="1" seed="17"/><feColorMatrix type="matrix" values="1 0 0 0 0 1 0 0 0 0 1 0 0 0 0 0 0 0 0 1" result="n"/><feComposite in="SourceGraphic" in2="n" operator="arithmetic" k1="0" k2="1" k3="0.32" k4="-0.16"/><feComposite in2="SourceGraphic" operator="in"/><feComponentTransfer><feFuncR type="table" tableValues="0.05 0.106 0.149 0.193 0.228 0.268 0.3 0.338 0.369 0.406 0.436 0.466 0.501 0.529 0.563 0.59 0.621 0.646 0.675 0.697 0.719 0.744 0.764 0.787 0.805 0.827 0.843 0.863 0.878 0.893 0.91 0.923 0.938 0.949 0.961 0.97 0.979 0.985 0.99 0.993 0.995 0.993 0.99 0.984 0.976 0.964 0.952 0.94"/><feFuncG type="table" tableValues="0.03 0.024 0.021 0.018 0.016 0.013 0.01 0.006 0.003 0.001 0.001 0.005 0.014 0.028 0.052 0.073 0.099 0.121 0.147 0.17 0.192 0.218 0.24 0.267 0.289 0.316 0.338 0.365 0.388 0.411 0.439 0.463 0.493 0.518 0.549 0.575 0.608 0.635 0.664 0.699 0.729 0.765 0.797 0.835 0.868 0.908 0.942 0.975"/><feFuncB type="table" tableValues="0.528 0.551 0.571 0.59 0.605 0.62 0.632 0.643 0.651 0.657 0.66 0.66 0.657 0.652 0.642 0.63 0.614 0.599 0.579 0.561 0.543 0.521 0.502 0.48 0.462 0.441 0.424 0.404 0.387 0.37 0.35 0.333 0.313 0.296 0.275 0.258 0.238 0.221 0.205 0.186 0.172 0.157 0.148 0.143 0.143 0.149 0.153 0.131"/></feComponentTransfer></filter><filter id="f23" filterUnits="userSpaceOnUse" x="-12" y="-3" width="846" height="70" color-interpolation-filters="sRGB"><feTurbulence type="fractalNoise" baseFrequency="1.3" numOctaves="1" seed="18"/><feColorMatrix type="matrix" values="1 0 0 0 0 1 0 0 0 0 1 0 0 0 0 0 0 0 0 1" result="n"/><feComposite in="SourceGraphic" in2="n" operator="arithmetic" k1="0" k2="1" k3="1.1" k4="-0.55"/><feComposite in2="SourceGraphic" operator="in"/><feComponentTransfer><feFuncR type="table" tableValues="0.05 0.106 0.149 0.193 0.228 0.268 0.3 0.338 0.369 0.406 0.436 0.466 0.501 0.529 0.563 0.59 0.621 0.646 0.675 0.697 0.719 0.744 0.764 0.787 0.805 0.827 0.843 0.863 0.878 0.893 0.91 0.923 0.938 0.949 0.961 0.97 0.979 0.985 0.99 0.993 0.995 0.993 0.99 0.984 0.976 0.964 0.952 0.94"/><feFuncG type="table" tableValues="0.03 0.024 0.021 0.018 0.016 0.013 0.01 0.006 0.003 0.001 0.001 0.005 0.014 0.028 0.052 0.073 0.099 0.121 0.147 0.17 0.192 0.218 0.24 0.267 0.289 0.316 0.338 0.365 0.388 0.411 0.439 0.463 0.493 0.518 0.549 0.575 0.608 0.635 0.664 0.699 0.729 0.765 0.797 0.835 0.868 0.908 0.942 0.975"/><feFuncB type="table" tableValues="0.528 0.551 0.571 0.59 0.605 0.62 0.632 0.643 0.651 0.657 0.66 0.66 0.657 0.652 0.642 0.63 0.614 0.599 0.579 0.561 0.543 0.521 0.502 0.48 0.462 0.441 0.424 0.404 0.387 0.37 0.35 0.333 0.313 0.296 0.275 0.258 0.238 0.221 0.205 0.186 0.172 0.157 0.148 0.143 0.143 0.149 0.153 0.131"/></feComponentTransfer></filter><filter id="f24" filterUnits="userSpaceOnUse" x="-12" y="-3" width="846" height="70" color-interpolation-filters="sRGB"><feTurbulence type="fractalNoise" baseFrequency="1.3" numOctaves="1" seed="19"/><feColorMatrix type="matrix" values="1 0 0 0 0 1 0 0 0 0 1 0 0 0 0 0 0 0 0 1" result="n"/><feComposite in="SourceGraphic" in2="n" operator="arithmetic" k1="0" k2="1" k3="1.1" k4="-0.55"/><feComposite in2="SourceGraphic" operator="in"/><feComponentTransfer><feFuncR type="table" tableValues="0.05 0.106 0.149 0.193 0.228 0.268 0.3 0.338 0.369 0.406 0.436 0.466 0.501 0.529 0.563 0.59 0.621 0.646 0.675 0.697 0.719 0.744 0.764 0.787 0.805 0.827 0.843 0.863 0.878 0.893 0.91 0.923 0.938 0.949 0.961 0.97 0.979 0.985 0.99 0.993 0.995 0.993 0.99 0.984 0.976 0.964 0.952 0.94"/><feFuncG type="table" tableValues="0.03 0.024 0.021 0.018 0.016 0.013 0.01 0.006 0.003 0.001 0.001 0.005 0.014 0.028 0.052 0.073 0.099 0.121 0.147 0.17 0.192 0.218 0.24 0.267 0.289 0.316 0.338 0.365 0.388 0.411 0.439 0.463 0.493 0.518 0.549 0.575 0.608 0.635 0.664 0.699 0.729 0.765 0.797 0.835 0.868 0.908 0.942 0.975"/><feFuncB type="table" tableValues="0.528 0.551 0.571 0.59 0.605 0.62 0.632 0.643 0.651 0.657 0.66 0.66 0.657 0.652 0.642 0.63 0.614 0.599 0.579 0.561 0.543 0.521 0.502 0.48 0.462 0.441 0.424 0.404 0.387 0.37 0.35 0.333 0.313 0.296 0.275 0.258 0.238 0.221 0.205 0.186 0.172 0.157 0.148 0.143 0.143 0.149 0.153 0.131"/></feComponentTransfer></filter><filter id="f25" filterUnits="userSpaceOnUse" x="-12" y="-3" width="846" height="70" color-interpolation-filters="sRGB"><feTurbulence type="fractalNoise" baseFrequency="1.3" numOctaves="1" seed="20"/><feColorMatrix type="matrix" values="1 0 0 0 0 1 0 0 0 0 1 0 0 0 0 0 0 0 0 1" result="n"/><feComposite in="SourceGraphic" in2="n" operator="arithmetic" k1="0" k2="1" k3="1.25" k4="-0.625"/><feComposite in2="SourceGraphic" operator="in"/><feComponentTransfer><feFuncR type="table" tableValues="0.05 0.106 0.149 0.193 0.228 0.268 0.3 0.338 0.369 0.406 0.436 0.466 0.501 0.529 0.563 0.59 0.621 0.646 0.675 0.697 0.719 0.744 0.764 0.787 0.805 0.827 0.843 0.863 0.878 0.893 0.91 0.923 0.938 0.949 0.961 0.97 0.979 0.985 0.99 0.993 0.995 0.993 0.99 0.984 0.976 0.964 0.952 0.94"/><feFuncG type="table" tableValues="0.03 0.024 0.021 0.018 0.016 0.013 0.01 0.006 0.003 0.001 0.001 0.005 0.014 0.028 0.052 0.073 0.099 0.121 0.147 0.17 0.192 0.218 0.24 0.267 0.289 0.316 0.338 0.365 0.388 0.411 0.439 0.463 0.493 0.518 0.549 0.575 0.608 0.635 0.664 0.699 0.729 0.765 0.797 0.835 0.868 0.908 0.942 0.975"/><feFuncB type="table" tableValues="0.528 0.551 0.571 0.59 0.605 0.62 0.632 0.643 0.651 0.657 0.66 0.66 0.657 0.652 0.642 0.63 0.614 0.599 0.579 0.561 0.543 0.521 0.502 0.48 0.462 0.441 0.424 0.404 0.387 0.37 0.35 0.333 0.313 0.296 0.275 0.258 0.238 0.221 0.205 0.186 0.172 0.157 0.148 0.143 0.143 0.149 0.153 0.131"/></feComponentTransfer></filter></defs>
<rect width="2700" height="900" fill="#fff"/>
<g clip-path="url(#cp0)">
<g transform="matrix(1 -0.01194 0.100 1 116.25 145.4)" filter="url(#f00)">
<rect x="-10" y="0" width="841" height="60.1" fill="#0f0f0f"/>
<rect x="-10" y="11.4" width="841" height="7.4" fill="url(#g0)"/>
<rect x="-10" y="12.4" width="841" height="5.4" fill="url(#g1)"/>
<rect x="-10" y="13.3" width="841" height="3.6" fill="url(#g2)"/>
<rect x="-10" y="14.2" width="841" height="1.8" fill="url(#g3)"/>
<rect x="-10" y="42.8" width="841" height="5.4" fill="url(#g4)"/>
<rect x="-10" y="43.7" width="841" height="3.6" fill="url(#g5)"/>
<rect x="-10" y="44.4" width="841" height="2.2" fill="url(#g6)"/>
</g>
<g transform="matrix(1 -0.01194 0 1 119.25 145.4)" fill="none" stroke-width="2.8">
<path d="M0.4 6.7H820.7M0.4 22.3H820.7M0.4 36.9H820.7M0.4 52.4H820.7" stroke="#000"/>
<path d="M0.4 6.7H820.7M0.4 22.3H820.7M0.4 36.9H820.7M0.4 52.4H820.7" stroke="#fff" stroke-dasharray="10 10"/>
</g>
<g transform="matrix(1 -0.01133 0.100 1 116.24 220.4)" filter="url(#f01)">
<rect x="-10" y="0" width="841" height="60.2" fill="#0f0f0f"/>
<rect x="-10" y="11.4" width="841" height="7.4" fill="url(#g7)"/>
<rect x="-10" y="12.4" width="841" height="5.4" fill="url(#g8)"/>
<rect x="-10" y="13.3" width="841" height="3.6" fill="url(#g9)"/>
<rect x="-10" y="14.2" width="841" height="1.8" fill="url(#g10)"/>
<rect x="-10" y="42.9" width="841" height="5.4" fill="#2b2b2b"/>
<rect x="-10" y="43.8" width="841" height="3.6" fill="#858585"/>
<rect x="-10" y="44.5" width="841" height="2.2" fill="#fafafa"/>
</g>
<g transform="matrix(1 -0.01133 0 1 119.25 220.4)" fill="none" stroke-width="2.8">
<path d="M0.4 6.8H820.7M0.4 22.4H820.7M0.4 37H820.7M0.4 52.6H820.7" stroke="#000"/>
<path d="M0.4 6.8H820.7M0.4 22.4H820.7M0.4 37H820.7M0.4 52.6H820.7" stroke="#fff" stroke-dasharray="10 10"/>
</g>
<g transform="matrix(1 -0.01158 0.100 1 116.23 305.8)" filter="url(#f02)">
<rect x="-10" y="0" width="841" height="60.4" fill="#1d1d1d"/>
<rect x="-10" y="11.4" width="841" height="7.4" fill="#343434"/>
<rect x="-10" y="12.4" width="841" height="5.4" fill="#737373"/>
<rect x="-10" y="13.3" width="841" height="3.6" fill="#c5c5c5"/>
<rect x="-10" y="14.2" width="841" height="1.8" fill="#dbdbdb"/>
<rect x="-10" y="42.8" width="841" height="5.4" fill="#373737"/>
<rect x="-10" y="43.7" width="841" height="3.6" fill="#8a8a8a"/>
<rect x="-10" y="44.4" width="841" height="2.2" fill="#f7f7f7"/>
</g>
<g transform="matrix(1 -0.01158 0 1 119.25 305.8)" fill="none" stroke-width="2.8">
<path d="M0.4 6.6H820.7M0.4 22.3H820.7M0.4 36.9H820.7M0.4 52.6H820.7" stroke="#000"/>
<path d="M0.4 6.6H820.7M0.4 22.3H820.7M0.4 36.9H820.7M0.4 52.6H820.7" stroke="#fff" stroke-dasharray="10 10"/>
</g>
<g transform="matrix(1 -0.01072 0.100 1 116.2 403.6)" filter="url(#f03)">
<rect x="-10" y="0" width="841" height="61" fill="url(#g11)"/>
</g>
<g transform="matrix(1 -0.01072 0 1 119.25 403.6)" fill="none" stroke-width="2.8">
<path d="M0.4 7.1H820.7M0.4 22.8H820.7M0.4 37.5H820.7M0.4 53.1H820.7" stroke="#000"/>
<path d="M0.4 7.1H820.7M0.4 22.8H820.7M0.4 37.5H820.7M0.4 53.1H820.7" stroke="#fff" stroke-dasharray="10 10"/>
</g>
<g transform="matrix(1 -0.01048 0.100 1 116.19 517.8)" filter="url(#f04)">
<rect x="-10" y="0" width="841" height="61.3" fill="url(#g12)"/>
<rect x="-10" y="13.3" width="841" height="4.4" fill="url(#g13)"/>
<rect x="-10" y="14.1" width="841" height="2.8" fill="url(#g14)"/>
<rect x="-10" y="14.7" width="841" height="1.6" fill="url(#g15)"/>
<rect x="-10" y="44.3" width="841" height="3.6" fill="url(#g16)"/>
<rect x="-10" y="45.1" width="841" height="2" fill="url(#g17)"/>
</g>
<g transform="matrix(1 -0.01048 0 1 119.25 517.8)" fill="none" stroke-width="2.8">
<path d="M0.4 7.2H820.7M0.4 22.9H820.7M0.4 37.6H820.7M0.4 53.3H820.7" stroke="#000"/>
<path d="M0.4 7.2H820.7M0.4 22.9H820.7M0.4 37.6H820.7M0.4 53.3H820.7" stroke="#fff" stroke-dasharray="10 10"/>
</g>
<g transform="matrix(1 -0.00926 0.100 1 116.14 652.2)" filter="url(#f05)">
<rect x="-10" y="0" width="841" height="4.24" fill="url(#g18)"/>
<rect x="-10" y="3.89" width="841" height="4.24" fill="url(#g19)"/>
<rect x="-10" y="7.78" width="841" height="4.24" fill="url(#g20)"/>
<rect x="-10" y="11.66" width="841" height="4.24" fill="url(#g21)"/>
<rect x="-10" y="15.55" width="841" height="4.24" fill="url(#g22)"/>
<rect x="-10" y="19.44" width="841" height="4.24" fill="url(#g23)"/>
<rect x="-10" y="23.33" width="841" height="4.24" fill="url(#g24)"/>
<rect x="-10" y="27.21" width="841" height="4.24" fill="url(#g25)"/>
<rect x="-10" y="31.1" width="841" height="4.24" fill="url(#g26)"/>
<rect x="-10" y="34.99" width="841" height="4.24" fill="url(#g27)"/>
<rect x="-10" y="38.88" width="841" height="4.24" fill="url(#g28)"/>
<rect x="-10" y="42.76" width="841" height="4.24" fill="url(#g29)"/>
<rect x="-10" y="46.65" width="841" height="4.24" fill="url(#g30)"/>
<rect x="-10" y="50.54" width="841" height="4.24" fill="url(#g31)"/>
<rect x="-10" y="54.43" width="841" height="4.24" fill="url(#g32)"/>
<rect x="-10" y="58.31" width="841" height="3.89" fill="url(#g33)"/>
<rect x="-10" y="44.7" width="841" height="3.8" fill="url(#g34)"/>
<rect x="-10" y="45.6" width="841" height="2" fill="url(#g35)"/>
</g>
<g transform="matrix(1 -0.00926 0 1 119.25 652.2)" fill="none" stroke-width="2.8">
<path d="M0.4 7.4H820.7M0.4 23H820.7M0.4 38.2H820.7M0.4 53.7H820.7" stroke="#000"/>
<path d="M0.4 7.4H820.7M0.4 23H820.7M0.4 38.2H820.7M0.4 53.7H820.7" stroke="#fff" stroke-dasharray="10 10"/>
</g>
</g>
<g clip-path="url(#cp1)">
<g transform="matrix(1 -0.01328 0.100 1 978.95 134.6)" filter="url(#f10)">
<rect x="-10" y="0" width="841" height="60.1" fill="#0f0f0f"/>
<rect x="-10" y="11.4" width="841" height="7.4" fill="url(#g36)"/>
<rect x="-10" y="12.4" width="841" height="5.4" fill="url(#g37)"/>
<rect x="-10" y="13.3" width="841" height="3.6" fill="url(#g38)"/>
<rect x="-10" y="14.2" width="841" height="1.8" fill="url(#g39)"/>
<rect x="-10" y="42.8" width="841" height="5.4" fill="url(#g40)"/>
<rect x="-10" y="43.7" width="841" height="3.6" fill="url(#g41)"/>
<rect x="-10" y="44.4" width="841" height="2.2" fill="url(#g42)"/>
</g>
<g transform="matrix(1 -0.01328 0 1 981.95 134.6)" fill="none" stroke-width="2.8">
<path d="M0.4 6.7H820.7M0.4 22.3H820.7M0.4 36.9H820.7M0.4 52.4H820.7" stroke="#000"/>
<path d="M0.4 6.7H820.7M0.4 22.3H820.7M0.4 36.9H820.7M0.4 52.4H820.7" stroke="#fff" stroke-dasharray="10 10"/>
</g>
<g transform="matrix(1 -0.01243 0.100 1 978.94 209.6)" filter="url(#f11)">
<rect x="-10" y="0" width="841" height="60.2" fill="#0f0f0f"/>
<rect x="-10" y="11.4" width="841" height="7.4" fill="#2a2a2a"/>
<rect x="-10" y="12.4" width="841" height="5.4" fill="#747474"/>
<rect x="-10" y="13.3" width="841" height="3.6" fill="#d5d5d5"/>
<rect x="-10" y="14.2" width="841" height="1.8" fill="#f0f0f0"/>
<rect x="-10" y="42.9" width="841" height="5.4" fill="#2b2b2b"/>
<rect x="-10" y="43.8" width="841" height="3.6" fill="#858585"/>
<rect x="-10" y="44.5" width="841" height="2.2" fill="#fafafa"/>
</g>
<g transform="matrix(1 -0.01243 0 1 981.95 209.6)" fill="none" stroke-width="2.8">
<path d="M0.4 6.8H820.7M0.4 22.4H820.7M0.4 37H820.7M0.4 52.6H820.7" stroke="#000"/>
<path d="M0.4 6.8H820.7M0.4 22.4H820.7M0.4 37H820.7M0.4 52.6H820.7" stroke="#fff" stroke-dasharray="10 10"/>
</g>
<g transform="matrix(1 -0.01182 0.100 1 978.93 295.8)" filter="url(#f12)">
<rect x="-10" y="0" width="841" height="60.4" fill="#1d1d1d"/>
<rect x="-10" y="11.4" width="841" height="7.4" fill="#343434"/>
<rect x="-10" y="12.4" width="841" height="5.4" fill="#717171"/>
<rect x="-10" y="13.3" width="841" height="3.6" fill="#c0c0c0"/>
<rect x="-10" y="14.2" width="841" height="1.8" fill="#d6d6d6"/>
<rect x="-10" y="42.8" width="841" height="5.4" fill="#373737"/>
<rect x="-10" y="43.7" width="841" height="3.6" fill="#8a8a8a"/>
<rect x="-10" y="44.4" width="841" height="2.2" fill="#f7f7f7"/>
</g>
<g transform="matrix(1 -0.01182 0 1 981.95 295.8)" fill="none" stroke-width="2.8">
<path d="M0.4 6.6H820.7M0.4 22.3H820.7M0.4 36.9H820.7M0.4 52.6H820.7" stroke="#000"/>
<path d="M0.4 6.6H820.7M0.4 22.3H820.7M0.4 36.9H820.7M0.4 52.6H820.7" stroke="#fff" stroke-dasharray="10 10"/>
</g>
<g transform="matrix(1 -0.01109 0.100 1 978.9 393.8)" filter="url(#f13)">
<rect x="-10" y="0" width="841" height="61" fill="url(#g43)"/>
</g>
<g transform="matrix(1 -0.01109 0 1 981.95 393.8)" fill="none" stroke-width="2.8">
<path d="M0.4 7.1H820.7M0.4 22.8H820.7M0.4 37.5H820.7M0.4 53.1H820.7" stroke="#000"/>
<path d="M0.4 7.1H820.7M0.4 22.8H820.7M0.4 37.5H820.7M0.4 53.1H820.7" stroke="#fff" stroke-dasharray="10 10"/>
</g>
<g transform="matrix(1 -0.01048 0.100 1 978.88 508.8)" filter="url(#f14)">
<rect x="-10" y="0" width="841" height="61.3" fill="url(#g44)"/>
<rect x="-10" y="13.3" width="841" height="4.4" fill="url(#g45)"/>
<rect x="-10" y="14.1" width="841" height="2.8" fill="url(#g46)"/>
<rect x="-10" y="14.7" width="841" height="1.6" fill="url(#g47)"/>
<rect x="-10" y="44.3" width="841" height="3.6" fill="url(#g48)"/>
<rect x="-10" y="45.1" width="841" height="2" fill="url(#g49)"/>
</g>
<g transform="matrix(1 -0.01048 0 1 981.95 508.8)" fill="none" stroke-width="2.8">
<path d="M0.4 7.2H820.7M0.4 22.9H820.7M0.4 37.6H820.7M0.4 53.3H820.7" stroke="#000"/>
<path d="M0.4 7.2H820.7M0.4 22.9H820.7M0.4 37.6H820.7M0.4 53.3H820.7" stroke="#fff" stroke-dasharray="10 10"/>
</g>
<g transform="matrix(1 -0.00975 0.100 1 978.84 644.2)" filter="url(#f15)">
<rect x="-10" y="0" width="841" height="4.24" fill="url(#g50)"/>
<rect x="-10" y="3.89" width="841" height="4.24" fill="url(#g51)"/>
<rect x="-10" y="7.78" width="841" height="4.24" fill="url(#g52)"/>
<rect x="-10" y="11.66" width="841" height="4.24" fill="url(#g53)"/>
<rect x="-10" y="15.55" width="841" height="4.24" fill="url(#g54)"/>
<rect x="-10" y="19.44" width="841" height="4.24" fill="url(#g55)"/>
<rect x="-10" y="23.33" width="841" height="4.24" fill="url(#g56)"/>
<rect x="-10" y="27.21" width="841" height="4.24" fill="url(#g57)"/>
<rect x="-10" y="31.1" width="841" height="4.24" fill="url(#g58)"/>
<rect x="-10" y="34.99" width="841" height="4.24" fill="url(#g59)"/>
<rect x="-10" y="38.88" width="841" height="4.24" fill="url(#g60)"/>
<rect x="-10" y="42.76" width="841" height="4.24" fill="url(#g61)"/>
<rect x="-10" y="46.65" width="841" height="4.24" fill="url(#g62)"/>
<rect x="-10" y="50.54" width="841" height="4.24" fill="url(#g63)"/>
<rect x="-10" y="54.43" width="841" height="4.24" fill="url(#g64)"/>
<rect x="-10" y="58.31" width="841" height="3.89" fill="url(#g65)"/>
<rect x="-10" y="44.7" width="841" height="3.8" fill="url(#g66)"/>
<rect x="-10" y="45.6" width="841" height="2" fill="url(#g67)"/>
</g>
<g transform="matrix(1 -0.00975 0 1 981.95 644.2)" fill="none" stroke-width="2.8">
<path d="M0.4 7.4H820.7M0.4 23H820.7M0.4 38.2H820.7M0.4 53.7H820.7" stroke="#000"/>
<path d="M0.4 7.4H820.7M0.4 23H820.7M0.4 38.2H820.7M0.4 53.7H820.7" stroke="#fff" stroke-dasharray="10 10"/>
</g>
</g>
<g clip-path="url(#cp2)">
<g transform="matrix(1 -0.01206 0.100 1 1841.64 122.6)" filter="url(#f20)">
<rect x="-10" y="0" width="841" height="60.1" fill="#0f0f0f"/>
<rect x="-10" y="11.4" width="841" height="7.4" fill="url(#g68)"/>
<rect x="-10" y="12.4" width="841" height="5.4" fill="url(#g69)"/>
<rect x="-10" y="13.3" width="841" height="3.6" fill="url(#g70)"/>
<rect x="-10" y="14.2" width="841" height="1.8" fill="url(#g71)"/>
<rect x="-10" y="42.8" width="841" height="5.4" fill="url(#g72)"/>
<rect x="-10" y="43.7" width="841" height="3.6" fill="url(#g73)"/>
<rect x="-10" y="44.4" width="841" height="2.2" fill="url(#g74)"/>
</g>
<g transform="matrix(1 -0.01206 0 1 1844.65 122.6)" fill="none" stroke-width="2.8">
<path d="M0.4 6.7H820.7M0.4 22.3H820.7M0.4 36.9H820.7M0.4 52.4H820.7" stroke="#000"/>
<path d="M0.4 6.7H820.7M0.4 22.3H820.7M0.4 36.9H820.7M0.4 52.4H820.7" stroke="#fff" stroke-dasharray="10 10"/>
</g>
<g transform="matrix(1 -0.01097 0.100 1 1841.64 198.1)" filter="url(#f21)">
<rect x="-10" y="0" width="841" height="60.2" fill="#0f0f0f"/>
<rect x="-10" y="11.4" width="841" height="7.4" fill="url(#g75)"/>
<rect x="-10" y="12.4" width="841" height="5.4" fill="url(#g76)"/>
<rect x="-10" y="13.3" width="841" height="3.6" fill="url(#g77)"/>
<rect x="-10" y="14.2" width="841" height="1.8" fill="url(#g78)"/>
<rect x="-10" y="42.9" width="841" height="5.4" fill="#2b2b2b"/>
<rect x="-10" y="43.8" width="841" height="3.6" fill="#858585"/>
<rect x="-10" y="44.5" width="841" height="2.2" fill="#fafafa"/>
</g>
<g transform="matrix(1 -0.01097 0 1 1844.65 198.1)" fill="none" stroke-width="2.8">
<path d="M0.4 6.8H820.7M0.4 22.4H820.7M0.4 37H820.7M0.4 52.6H820.7" stroke="#000"/>
<path d="M0.4 6.8H820.7M0.4 22.4H820.7M0.4 37H820.7M0.4 52.6H820.7" stroke="#fff" stroke-dasharray="10 10"/>
</g>
<g transform="matrix(1 -0.01121 0.100 1 1841.63 285.2)" filter="url(#f22)">
<rect x="-10" y="0" width="841" height="60.4" fill="#1d1d1d"/>
<rect x="-10" y="11.4" width="841" height="7.4" fill="url(#g79)"/>
<rect x="-10" y="12.4" width="841" height="5.4" fill="url(#g80)"/>
<rect x="-10" y="13.3" width="841" height="3.6" fill="url(#g81)"/>
<rect x="-10" y="14.2" width="841" height="1.8" fill="url(#g82)"/>
<rect x="-10" y="42.8" width="841" height="5.4" fill="#373737"/>
<rect x="-10" y="43.7" width="841" height="3.6" fill="#898989"/>
<rect x="-10" y="44.4" width="841" height="2.2" fill="#f5f5f5"/>
</g>
<g transform="matrix(1 -0.01121 0 1 1844.65 285.2)" fill="none" stroke-width="2.8">
<path d="M0.4 6.6H820.7M0.4 22.3H820.7M0.4 36.9H820.7M0.4 52.6H820.7" stroke="#000"/>
<path d="M0.4 6.6H820.7M0.4 22.3H820.7M0.4 36.9H820.7M0.4 52.6H820.7" stroke="#fff" stroke-dasharray="10 10"/>
</g>
<g transform="matrix(1 -0.00999 0.100 1 1841.6 383.7)" filter="url(#f23)">
<rect x="-10" y="0" width="841" height="61" fill="url(#g83)"/>
</g>
<g transform="matrix(1 -0.00999 0 1 1844.65 383.7)" fill="none" stroke-width="2.8">
<path d="M0.4 7.1H820.7M0.4 22.8H820.7M0.4 37.5H820.7M0.4 53.1H820.7" stroke="#000"/>
<path d="M0.4 7.1H820.7M0.4 22.8H820.7M0.4 37.5H820.7M0.4 53.1H820.7" stroke="#fff" stroke-dasharray="10 10"/>
</g>
<g transform="matrix(1 -0.00889 0.100 1 1841.59 499.2)" filter="url(#f24)">
<rect x="-10" y="0" width="841" height="61.3" fill="url(#g84)"/>
<rect x="-10" y="13.3" width="841" height="4.4" fill="url(#g85)"/>
<rect x="-10" y="14.1" width="841" height="2.8" fill="url(#g86)"/>
<rect x="-10" y="14.7" width="841" height="1.6" fill="url(#g87)"/>
<rect x="-10" y="44.3" width="841" height="3.6" fill="url(#g88)"/>
<rect x="-10" y="45.1" width="841" height="2" fill="url(#g89)"/>
</g>
<g transform="matrix(1 -0.00889 0 1 1844.65 499.2)" fill="none" stroke-width="2.8">
<path d="M0.4 7.2H820.7M0.4 22.9H820.7M0.4 37.6H820.7M0.4 53.3H820.7" stroke="#000"/>
<path d="M0.4 7.2H820.7M0.4 22.9H820.7M0.4 37.6H820.7M0.4 53.3H820.7" stroke="#fff" stroke-dasharray="10 10"/>
</g>
<g transform="matrix(1 -0.00841 0.100 1 1841.54 636)" filter="url(#f25)">
<rect x="-10" y="0" width="841" height="4.24" fill="url(#g90)"/>
<rect x="-10" y="3.89" width="841" height="4.24" fill="url(#g91)"/>
<rect x="-10" y="7.78" width="841" height="4.24" fill="url(#g92)"/>
<rect x="-10" y="11.66" width="841" height="4.24" fill="url(#g93)"/>
<rect x="-10" y="15.55" width="841" height="4.24" fill="url(#g94)"/>
<rect x="-10" y="19.44" width="841" height="4.24" fill="url(#g95)"/>
<rect x="-10" y="23.33" width="841" height="4.24" fill="url(#g96)"/>
<rect x="-10" y="27.21" width="841" height="4.24" fill="url(#g97)"/>
<rect x="-10" y="31.1" width="841" height="4.24" fill="url(#g98)"/>
<rect x="-10" y="34.99" width="841" height="4.24" fill="url(#g99)"/>
<rect x="-10" y="38.88" width="841" height="4.24" fill="url(#g100)"/>
<rect x="-10" y="42.76" width="841" height="4.24" fill="url(#g101)"/>
<rect x="-10" y="46.65" width="841" height="4.24" fill="url(#g102)"/>
<rect x="-10" y="50.54" width="841" height="4.24" fill="url(#g103)"/>
<rect x="-10" y="54.43" width="841" height="4.24" fill="url(#g104)"/>
<rect x="-10" y="58.31" width="841" height="3.89" fill="url(#g105)"/>
<rect x="-10" y="44.7" width="841" height="3.8" fill="url(#g106)"/>
<rect x="-10" y="45.6" width="841" height="2" fill="url(#g107)"/>
</g>
<g transform="matrix(1 -0.00841 0 1 1844.65 636)" fill="none" stroke-width="2.8">
<path d="M0.4 7.4H820.7M0.4 23H820.7M0.4 38.2H820.7M0.4 53.7H820.7" stroke="#000"/>
<path d="M0.4 7.4H820.7M0.4 23H820.7M0.4 38.2H820.7M0.4 53.7H820.7" stroke="#fff" stroke-dasharray="10 10"/>
</g>
</g>
<rect x="119" y="100" width="821" height="713" fill="none" stroke="#222" stroke-width="2" shape-rendering="crispEdges"/>
<path d="M119 813v7M119 813h-7M220 813v7M119 725h-7M320 813v7M119 638h-7M420 813v7M119 551h-7M520 813v7M119 464h-7M620 813v7M119 377h-7M721 813v7M119 290h-7M821 813v7M119 203h-7M921 813v7M119 116h-7" stroke="#222" stroke-width="2" fill="none" shape-rendering="crispEdges"/>
<rect x="982" y="100" width="821" height="713" fill="none" stroke="#222" stroke-width="2" shape-rendering="crispEdges"/>
<path d="M982 813v7M982 813h-7M1082 813v7M982 725h-7M1183 813v7M982 638h-7M1283 813v7M982 551h-7M1383 813v7M982 464h-7M1483 813v7M982 377h-7M1583 813v7M982 290h-7M1683 813v7M982 203h-7M1784 813v7M982 116h-7" stroke="#222" stroke-width="2" fill="none" shape-rendering="crispEdges"/>
<rect x="1845" y="100" width="820" height="713" fill="none" stroke="#222" stroke-width="2" shape-rendering="crispEdges"/>
<path d="M1845 813v7M1845 813h-7M1945 813v7M1845 725h-7M2045 813v7M1845 638h-7M2145 813v7M1845 551h-7M2246 813v7M1845 464h-7M2346 813v7M1845 377h-7M2446 813v7M1845 290h-7M2546 813v7M1845 203h-7M2646 813v7M1845 116h-7" stroke="#222" stroke-width="2" fill="none" shape-rendering="crispEdges"/>
<g opacity="0.999">
<text x="1043.85" y="34.00" font-size="22.43" textLength="387.35" lengthAdjust="spacingAndGlyphs" xml:space="preserve">LkCa__15_M4368_2024-12-30_04105</text>
<text x="1445.25" y="34.00" font-size="22.43" textLength="211.40" lengthAdjust="spacingAndGlyphs" xml:space="preserve">(extract_height=45)</text>
<text x="492.35" y="87.29" font-size="25.38" textLength="73.57" lengthAdjust="spacingAndGlyphs" xml:space="preserve">CHIP1</text>
<text x="505.56" y="871.41" font-size="21.26" textLength="49.85" lengthAdjust="spacingAndGlyphs" xml:space="preserve">pixel</text>
<text x="112.86" y="843.81" font-size="22.47" textLength="12.89" lengthAdjust="spacingAndGlyphs" xml:space="preserve">0</text>
<text x="200.70" y="843.22" font-size="22.43" textLength="38.49" lengthAdjust="spacingAndGlyphs" xml:space="preserve">250</text>
<text x="300.63" y="843.41" font-size="22.58" textLength="38.93" lengthAdjust="spacingAndGlyphs" xml:space="preserve">500</text>
<text x="400.93" y="843.51" font-size="22.50" textLength="38.42" lengthAdjust="spacingAndGlyphs" xml:space="preserve">750</text>
<text x="493.81" y="843.41" font-size="22.77" textLength="52.20" lengthAdjust="spacingAndGlyphs" xml:space="preserve">1000</text>
<text x="594.11" y="843.32" font-size="22.69" textLength="51.95" lengthAdjust="spacingAndGlyphs" xml:space="preserve">1250</text>
<text x="694.20" y="844.15" font-size="22.64" textLength="52.14" lengthAdjust="spacingAndGlyphs" xml:space="preserve">1500</text>
<text x="794.48" y="843.22" font-size="22.78" textLength="51.93" lengthAdjust="spacingAndGlyphs" xml:space="preserve">1750</text>
<text x="895.18" y="843.33" font-size="22.59" textLength="51.52" lengthAdjust="spacingAndGlyphs" xml:space="preserve">2000</text>
<text x="1355.17" y="88.12" font-size="25.62" textLength="73.49" lengthAdjust="spacingAndGlyphs" xml:space="preserve">CHIP2</text>
<text x="1368.34" y="871.41" font-size="21.26" textLength="49.89" lengthAdjust="spacingAndGlyphs" xml:space="preserve">pixel</text>
<text x="975.66" y="843.88" font-size="22.66" textLength="12.79" lengthAdjust="spacingAndGlyphs" xml:space="preserve">0</text>
<text x="1063.19" y="843.26" font-size="22.55" textLength="38.56" lengthAdjust="spacingAndGlyphs" xml:space="preserve">250</text>
<text x="1163.27" y="843.19" font-size="22.68" textLength="38.65" lengthAdjust="spacingAndGlyphs" xml:space="preserve">500</text>
<text x="1263.43" y="843.42" font-size="22.71" textLength="38.66" lengthAdjust="spacingAndGlyphs" xml:space="preserve">750</text>
<text x="1356.56" y="843.85" font-size="22.79" textLength="52.02" lengthAdjust="spacingAndGlyphs" xml:space="preserve">1000</text>
<text x="1456.63" y="843.66" font-size="22.50" textLength="52.11" lengthAdjust="spacingAndGlyphs" xml:space="preserve">1250</text>
<text x="1556.82" y="843.28" font-size="22.44" textLength="52.06" lengthAdjust="spacingAndGlyphs" xml:space="preserve">1500</text>
<text x="1657.10" y="843.17" font-size="22.64" textLength="52.07" lengthAdjust="spacingAndGlyphs" xml:space="preserve">1750</text>
<text x="1757.88" y="843.59" font-size="22.78" textLength="51.42" lengthAdjust="spacingAndGlyphs" xml:space="preserve">2000</text>
<text x="2217.87" y="87.99" font-size="25.35" textLength="73.29" lengthAdjust="spacingAndGlyphs" xml:space="preserve">CHIP3</text>
<text x="2231.00" y="871.41" font-size="21.26" textLength="49.75" lengthAdjust="spacingAndGlyphs" xml:space="preserve">pixel</text>
<text x="1838.47" y="843.54" font-size="22.61" textLength="12.93" lengthAdjust="spacingAndGlyphs" xml:space="preserve">0</text>
<text x="1925.98" y="843.39" font-size="22.50" textLength="38.62" lengthAdjust="spacingAndGlyphs" xml:space="preserve">250</text>
<text x="2026.06" y="843.29" font-size="22.58" textLength="38.72" lengthAdjust="spacingAndGlyphs" xml:space="preserve">500</text>
<text x="2126.20" y="843.40" font-size="22.43" textLength="38.60" lengthAdjust="spacingAndGlyphs" xml:space="preserve">750</text>
<text x="2219.27" y="843.66" font-size="22.44" textLength="52.07" lengthAdjust="spacingAndGlyphs" xml:space="preserve">1000</text>
<text x="2319.46" y="843.46" font-size="22.55" textLength="51.92" lengthAdjust="spacingAndGlyphs" xml:space="preserve">1250</text>
<text x="2419.75" y="843.43" font-size="22.63" textLength="51.99" lengthAdjust="spacingAndGlyphs" xml:space="preserve">1500</text>
<text x="2519.89" y="843.33" font-size="22.63" textLength="51.95" lengthAdjust="spacingAndGlyphs" xml:space="preserve">1750</text>
<text x="2620.64" y="843.49" font-size="22.54" textLength="51.31" lengthAdjust="spacingAndGlyphs" xml:space="preserve">2000</text>
<text x="91.45" y="820.00" font-size="22.72" textLength="12.77" lengthAdjust="spacingAndGlyphs" xml:space="preserve">0</text>
<text x="65.13" y="732.88" font-size="22.52" textLength="39.02" lengthAdjust="spacingAndGlyphs" xml:space="preserve">250</text>
<text x="65.16" y="646.54" font-size="22.46" textLength="39.29" lengthAdjust="spacingAndGlyphs" xml:space="preserve">500</text>
<text x="65.20" y="558.98" font-size="22.70" textLength="39.05" lengthAdjust="spacingAndGlyphs" xml:space="preserve">750</text>
<text x="52.02" y="471.79" font-size="22.74" textLength="52.13" lengthAdjust="spacingAndGlyphs" xml:space="preserve">1000</text>
<text x="52.09" y="385.07" font-size="22.42" textLength="52.04" lengthAdjust="spacingAndGlyphs" xml:space="preserve">1250</text>
<text x="52.03" y="297.74" font-size="22.79" textLength="52.29" lengthAdjust="spacingAndGlyphs" xml:space="preserve">1500</text>
<text x="52.05" y="211.17" font-size="22.67" textLength="52.30" lengthAdjust="spacingAndGlyphs" xml:space="preserve">1750</text>
<text x="52.78" y="124.18" font-size="22.64" textLength="51.49" lengthAdjust="spacingAndGlyphs" xml:space="preserve">2000</text>
<text transform="translate(39.86 482.30) rotate(-90)" font-size="21.92" textLength="47.52" lengthAdjust="spacingAndGlyphs">pixel</text>
</g>
</svg>
</body></html>
